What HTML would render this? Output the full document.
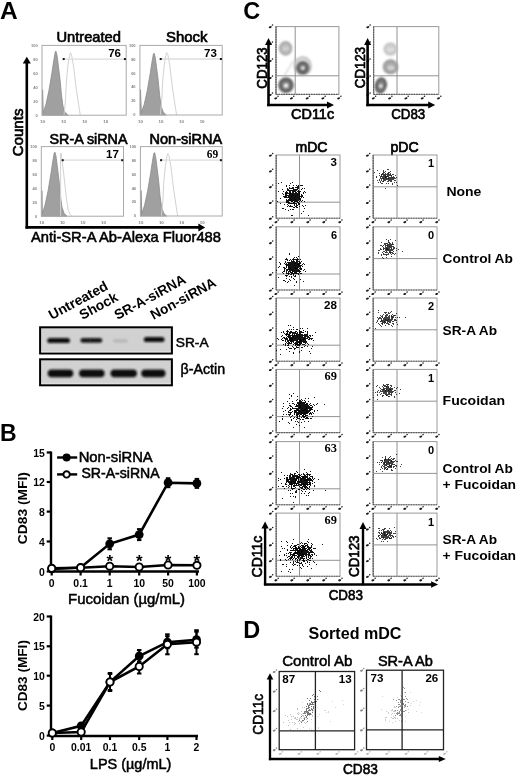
<!DOCTYPE html><html><head><meta charset="utf-8"><style>html,body{margin:0;padding:0;background:#fff;}svg{display:block;filter:grayscale(100%) blur(0.35px);}</style></head><body><svg width="520" height="777" viewBox="0 0 520 777"><rect width="520" height="777" fill="#fff"/><text x="0.00" y="18.80" font-family="Liberation Sans" font-size="24.5" font-weight="bold" text-anchor="start" fill="#000">A</text>
<text x="0.00" y="441.30" font-family="Liberation Sans" font-size="23" font-weight="bold" text-anchor="start" fill="#000">B</text>
<text x="243.30" y="18.60" font-family="Liberation Sans" font-size="23.5" font-weight="bold" text-anchor="start" fill="#000">C</text>
<text x="243.30" y="638.00" font-family="Liberation Sans" font-size="23.5" font-weight="bold" text-anchor="start" fill="#000">D</text>
<text x="37.70" y="46.70" font-family="Liberation Sans" font-size="4.0" font-weight="bold" text-anchor="end" fill="#808080">100</text>
<text x="37.70" y="60.66" font-family="Liberation Sans" font-size="4.0" font-weight="bold" text-anchor="end" fill="#808080">80</text>
<text x="37.70" y="74.62" font-family="Liberation Sans" font-size="4.0" font-weight="bold" text-anchor="end" fill="#808080">60</text>
<text x="37.70" y="88.58" font-family="Liberation Sans" font-size="4.0" font-weight="bold" text-anchor="end" fill="#808080">40</text>
<text x="37.70" y="102.54" font-family="Liberation Sans" font-size="4.0" font-weight="bold" text-anchor="end" fill="#808080">20</text>
<text x="37.70" y="116.50" font-family="Liberation Sans" font-size="4.0" font-weight="bold" text-anchor="end" fill="#808080">0</text>
<text x="42.50" y="123.20" font-family="Liberation Sans" font-size="4.4" font-weight="bold" text-anchor="middle" fill="#808080">10</text>
<text x="63.55" y="123.20" font-family="Liberation Sans" font-size="4.4" font-weight="bold" text-anchor="middle" fill="#808080">10</text>
<text x="84.60" y="123.20" font-family="Liberation Sans" font-size="4.4" font-weight="bold" text-anchor="middle" fill="#808080">10</text>
<text x="105.65" y="123.20" font-family="Liberation Sans" font-size="4.4" font-weight="bold" text-anchor="middle" fill="#808080">10</text>
<polygon points="42.00,115.20 42.60,115.20 42.60,89.70 43.20,112.70 46.00,104.20 49.00,90.20 52.00,72.20 53.80,60.20 54.80,54.20 55.30,51.70 56.00,51.20 57.00,55.20 58.30,65.20 60.00,79.20 61.50,95.20 63.00,106.20 65.00,112.20 68.00,115.20" fill="#a0a0a0" stroke="#8a8a8a" stroke-width="0.8"/>
<polyline points="64.00,115.20 65.50,99.80 66.50,79.80 68.00,64.80 69.50,55.80 70.40,52.80 71.50,54.80 73.50,65.80 76.20,88.30 78.90,106.40 80.30,115.20" fill="none" stroke="#d2d2d2" stroke-width="1"/>
<rect x="42.00" y="45.40" width="84.20" height="69.80" fill="none" stroke="#aaaaaa" stroke-width="1"/>
<line x1="63.70" y1="59.06" x2="124.90" y2="59.06" stroke="#dcdcdc" stroke-width="1.3"/>
<rect x="62.70" y="58.06" width="2.00" height="2.00" fill="#111" stroke="none" stroke-width="1"/>
<rect x="123.90" y="58.06" width="2.00" height="2.00" fill="#111" stroke="none" stroke-width="1"/>
<text x="121.00" y="56.90" font-family="Liberation Sans" font-size="11.5" font-weight="bold" text-anchor="end" fill="#000">76</text>
<text x="135.60" y="46.70" font-family="Liberation Sans" font-size="4.0" font-weight="bold" text-anchor="end" fill="#808080">100</text>
<text x="135.60" y="60.62" font-family="Liberation Sans" font-size="4.0" font-weight="bold" text-anchor="end" fill="#808080">80</text>
<text x="135.60" y="74.54" font-family="Liberation Sans" font-size="4.0" font-weight="bold" text-anchor="end" fill="#808080">60</text>
<text x="135.60" y="88.46" font-family="Liberation Sans" font-size="4.0" font-weight="bold" text-anchor="end" fill="#808080">40</text>
<text x="135.60" y="102.38" font-family="Liberation Sans" font-size="4.0" font-weight="bold" text-anchor="end" fill="#808080">20</text>
<text x="135.60" y="116.30" font-family="Liberation Sans" font-size="4.0" font-weight="bold" text-anchor="end" fill="#808080">0</text>
<text x="140.40" y="123.00" font-family="Liberation Sans" font-size="4.4" font-weight="bold" text-anchor="middle" fill="#808080">10</text>
<text x="160.97" y="123.00" font-family="Liberation Sans" font-size="4.4" font-weight="bold" text-anchor="middle" fill="#808080">10</text>
<text x="181.55" y="123.00" font-family="Liberation Sans" font-size="4.4" font-weight="bold" text-anchor="middle" fill="#808080">10</text>
<text x="202.12" y="123.00" font-family="Liberation Sans" font-size="4.4" font-weight="bold" text-anchor="middle" fill="#808080">10</text>
<polygon points="139.90,115.00 140.50,115.00 140.50,89.50 141.40,112.59 144.20,104.39 147.20,90.88 150.20,73.50 152.00,61.93 153.00,56.14 153.50,53.72 154.20,53.24 155.20,57.10 156.50,66.75 158.20,80.26 159.70,95.70 161.20,106.31 163.20,112.11 166.20,115.00" fill="#a0a0a0" stroke="#8a8a8a" stroke-width="0.8"/>
<polyline points="160.30,115.00 161.80,99.60 162.80,79.60 164.30,64.60 165.80,55.60 166.70,52.60 167.80,54.60 169.80,65.60 172.50,88.10 175.20,106.20 176.60,115.00" fill="none" stroke="#d2d2d2" stroke-width="1"/>
<rect x="139.90" y="45.40" width="82.30" height="69.60" fill="none" stroke="#aaaaaa" stroke-width="1"/>
<line x1="160.70" y1="59.02" x2="220.90" y2="59.02" stroke="#dcdcdc" stroke-width="1.3"/>
<rect x="159.70" y="58.02" width="2.00" height="2.00" fill="#111" stroke="none" stroke-width="1"/>
<rect x="219.90" y="58.02" width="2.00" height="2.00" fill="#111" stroke="none" stroke-width="1"/>
<text x="216.90" y="56.90" font-family="Liberation Sans" font-size="11.5" font-weight="bold" text-anchor="end" fill="#000">73</text>
<text x="37.00" y="147.90" font-family="Liberation Sans" font-size="4.0" font-weight="bold" text-anchor="end" fill="#808080">100</text>
<text x="37.00" y="161.82" font-family="Liberation Sans" font-size="4.0" font-weight="bold" text-anchor="end" fill="#808080">80</text>
<text x="37.00" y="175.74" font-family="Liberation Sans" font-size="4.0" font-weight="bold" text-anchor="end" fill="#808080">60</text>
<text x="37.00" y="189.66" font-family="Liberation Sans" font-size="4.0" font-weight="bold" text-anchor="end" fill="#808080">40</text>
<text x="37.00" y="203.58" font-family="Liberation Sans" font-size="4.0" font-weight="bold" text-anchor="end" fill="#808080">20</text>
<text x="37.00" y="217.50" font-family="Liberation Sans" font-size="4.0" font-weight="bold" text-anchor="end" fill="#808080">0</text>
<text x="41.80" y="224.20" font-family="Liberation Sans" font-size="4.4" font-weight="bold" text-anchor="middle" fill="#808080">10</text>
<text x="62.35" y="224.20" font-family="Liberation Sans" font-size="4.4" font-weight="bold" text-anchor="middle" fill="#808080">10</text>
<text x="82.90" y="224.20" font-family="Liberation Sans" font-size="4.4" font-weight="bold" text-anchor="middle" fill="#808080">10</text>
<text x="103.45" y="224.20" font-family="Liberation Sans" font-size="4.4" font-weight="bold" text-anchor="middle" fill="#808080">10</text>
<polygon points="41.30,216.20 41.90,216.20 41.90,190.70 42.20,213.70 45.00,205.20 48.00,191.20 51.00,173.20 52.80,161.20 53.80,155.20 54.30,152.70 55.00,152.20 56.00,156.20 57.30,166.20 59.00,180.20 60.50,196.20 62.00,207.20 64.00,213.20 67.00,216.20" fill="#a0a0a0" stroke="#8a8a8a" stroke-width="0.8"/>
<polyline points="60.60,216.20 60.60,153.20 61.10,153.20 63.30,170.20 65.30,188.20 66.80,201.20 68.30,210.20 70.30,214.70 72.30,216.20" fill="none" stroke="#d2d2d2" stroke-width="1"/>
<rect x="41.30" y="146.60" width="82.20" height="69.60" fill="none" stroke="#aaaaaa" stroke-width="1"/>
<line x1="62.70" y1="160.22" x2="122.20" y2="160.22" stroke="#dcdcdc" stroke-width="1.3"/>
<rect x="61.70" y="159.22" width="2.00" height="2.00" fill="#111" stroke="none" stroke-width="1"/>
<rect x="121.20" y="159.22" width="2.00" height="2.00" fill="#111" stroke="none" stroke-width="1"/>
<text x="118.90" y="158.30" font-family="Liberation Sans" font-size="11.5" font-weight="bold" text-anchor="end" fill="#000">17</text>
<text x="136.10" y="147.90" font-family="Liberation Sans" font-size="4.0" font-weight="bold" text-anchor="end" fill="#808080">100</text>
<text x="136.10" y="161.78" font-family="Liberation Sans" font-size="4.0" font-weight="bold" text-anchor="end" fill="#808080">80</text>
<text x="136.10" y="175.66" font-family="Liberation Sans" font-size="4.0" font-weight="bold" text-anchor="end" fill="#808080">60</text>
<text x="136.10" y="189.54" font-family="Liberation Sans" font-size="4.0" font-weight="bold" text-anchor="end" fill="#808080">40</text>
<text x="136.10" y="203.42" font-family="Liberation Sans" font-size="4.0" font-weight="bold" text-anchor="end" fill="#808080">20</text>
<text x="136.10" y="217.30" font-family="Liberation Sans" font-size="4.0" font-weight="bold" text-anchor="end" fill="#808080">0</text>
<text x="140.90" y="224.00" font-family="Liberation Sans" font-size="4.4" font-weight="bold" text-anchor="middle" fill="#808080">10</text>
<text x="161.35" y="224.00" font-family="Liberation Sans" font-size="4.4" font-weight="bold" text-anchor="middle" fill="#808080">10</text>
<text x="181.80" y="224.00" font-family="Liberation Sans" font-size="4.4" font-weight="bold" text-anchor="middle" fill="#808080">10</text>
<text x="202.25" y="224.00" font-family="Liberation Sans" font-size="4.4" font-weight="bold" text-anchor="middle" fill="#808080">10</text>
<polygon points="140.40,216.00 141.00,216.00 141.00,190.50 141.80,213.53 144.60,205.11 147.60,191.25 150.60,173.43 152.40,161.55 153.40,155.61 153.90,153.13 154.60,152.64 155.60,156.60 156.90,166.50 158.60,180.36 160.10,196.20 161.60,207.09 163.60,213.03 166.60,216.00" fill="#a0a0a0" stroke="#8a8a8a" stroke-width="0.8"/>
<polyline points="161.40,216.00 162.90,200.60 163.90,180.60 165.40,165.60 166.90,156.60 167.80,153.60 168.90,155.60 170.90,166.60 173.60,189.10 176.30,207.20 177.70,216.00" fill="none" stroke="#d2d2d2" stroke-width="1"/>
<rect x="140.40" y="146.60" width="81.80" height="69.40" fill="none" stroke="#aaaaaa" stroke-width="1"/>
<line x1="161.10" y1="160.18" x2="220.90" y2="160.18" stroke="#dcdcdc" stroke-width="1.3"/>
<rect x="160.10" y="159.18" width="2.00" height="2.00" fill="#111" stroke="none" stroke-width="1"/>
<rect x="219.90" y="159.18" width="2.00" height="2.00" fill="#111" stroke="none" stroke-width="1"/>
<text x="218.20" y="157.50" font-family="Liberation Serif" font-size="11.5" font-weight="bold" text-anchor="end" fill="#000">69</text>
<text x="88.70" y="42.30" font-family="Liberation Sans" font-size="14.5" font-weight="normal" text-anchor="middle" fill="#000" textLength="64.50" lengthAdjust="spacingAndGlyphs" stroke="#000" stroke-width="0.65">Untreated</text>
<text x="186.80" y="42.30" font-family="Liberation Sans" font-size="14.5" font-weight="normal" text-anchor="middle" fill="#000" textLength="41.50" lengthAdjust="spacingAndGlyphs" stroke="#000" stroke-width="0.65">Shock</text>
<text x="88.50" y="143.80" font-family="Liberation Sans" font-size="14.5" font-weight="normal" text-anchor="middle" fill="#000" textLength="78.00" lengthAdjust="spacingAndGlyphs" stroke="#000" stroke-width="0.65">SR-A siRNA</text>
<text x="185.80" y="143.80" font-family="Liberation Sans" font-size="14.5" font-weight="normal" text-anchor="middle" fill="#000" textLength="72.50" lengthAdjust="spacingAndGlyphs" stroke="#000" stroke-width="0.65">Non-siRNA</text>
<line x1="26.80" y1="62.00" x2="26.80" y2="228.60" stroke="#000" stroke-width="2.6"/>
<line x1="25.50" y1="227.40" x2="199.00" y2="227.40" stroke="#000" stroke-width="2.6"/>
<polygon points="26.80,56.70 22.80,63.50 30.80,63.50" fill="#000" stroke="none" stroke-width="1"/>
<polygon points="205.20,227.40 198.40,223.40 198.40,231.40" fill="#000" stroke="none" stroke-width="1"/>
<text x="22.80" y="132.40" font-family="Liberation Sans" font-size="14.2" font-weight="normal" text-anchor="middle" fill="#000" textLength="47.70" lengthAdjust="spacingAndGlyphs" transform="rotate(-90 22.80 132.40)" stroke="#000" stroke-width="0.65">Counts</text>
<text x="126.00" y="242.20" font-family="Liberation Sans" font-size="14.6" font-weight="normal" text-anchor="middle" fill="#000" textLength="190.00" lengthAdjust="spacingAndGlyphs" stroke="#000" stroke-width="0.55">Anti-SR-A Ab-Alexa Fluor488</text>
<rect x="40.10" y="327.30" width="131.80" height="26.20" fill="#d1d1d1" stroke="#000" stroke-width="2"/>
<rect x="40.10" y="359.30" width="131.80" height="26.00" fill="#d1d1d1" stroke="#000" stroke-width="2"/>
<defs><filter id="bl" x="-20%" y="-50%" width="140%" height="200%"><feGaussianBlur stdDeviation="0.9"/></filter><filter id="bl2" x="-50%" y="-50%" width="200%" height="200%"><feGaussianBlur stdDeviation="1.2"/></filter></defs>
<rect x="41.10" y="350.90" width="129.80" height="1.40" fill="#dedede" stroke="none" stroke-width="1"/>
<rect x="41.10" y="382.70" width="129.80" height="1.40" fill="#dedede" stroke="none" stroke-width="1"/>
<rect x="47.20" y="337.90" width="22.80" height="5.20" rx="2.60" fill="#111" fill-opacity="1.0" filter="url(#bl)"/>
<rect x="80.40" y="338.00" width="10.60" height="4.80" rx="2.40" fill="#111" fill-opacity="0.95" filter="url(#bl)"/>
<rect x="89.00" y="338.00" width="13.30" height="4.80" rx="2.40" fill="#111" fill-opacity="0.95" filter="url(#bl)"/>
<rect x="113.00" y="339.20" width="15.00" height="3.20" rx="1.60" fill="#111" fill-opacity="0.13" filter="url(#bl)"/>
<rect x="143.80" y="336.90" width="20.70" height="5.20" rx="2.60" fill="#111" fill-opacity="1.0" filter="url(#bl)"/>
<rect x="47.70" y="369.40" width="25.60" height="7.80" rx="3.90" fill="#111" fill-opacity="1.0" filter="url(#bl)"/>
<rect x="79.00" y="369.40" width="25.60" height="7.80" rx="3.90" fill="#111" fill-opacity="1.0" filter="url(#bl)"/>
<rect x="110.50" y="369.40" width="26.50" height="7.80" rx="3.90" fill="#111" fill-opacity="1.0" filter="url(#bl)"/>
<rect x="141.20" y="369.40" width="24.30" height="7.80" rx="3.90" fill="#111" fill-opacity="1.0" filter="url(#bl)"/>
<text x="175.80" y="347.30" font-family="Liberation Sans" font-size="13.7" font-weight="normal" text-anchor="start" fill="#000" textLength="32.80" lengthAdjust="spacingAndGlyphs" stroke="#000" stroke-width="0.5">SR-A</text>
<text x="180.60" y="374.40" font-family="Liberation Sans" font-size="14" font-weight="normal" text-anchor="start" fill="#000" textLength="44.50" lengthAdjust="spacingAndGlyphs" stroke="#000" stroke-width="0.5">β-Actin</text>
<text x="51.80" y="320.00" font-family="Liberation Sans" font-size="13.8" font-weight="bold" text-anchor="start" fill="#000" textLength="65.00" lengthAdjust="spacingAndGlyphs" transform="rotate(-28.5 51.80 320.00)">Untreated</text>
<text x="82.60" y="320.00" font-family="Liberation Sans" font-size="13.8" font-weight="bold" text-anchor="start" fill="#000" textLength="41.50" lengthAdjust="spacingAndGlyphs" transform="rotate(-28.5 82.60 320.00)">Shock</text>
<text x="117.40" y="320.00" font-family="Liberation Sans" font-size="13.8" font-weight="bold" text-anchor="start" fill="#000" textLength="79.00" lengthAdjust="spacingAndGlyphs" transform="rotate(-28.5 117.40 320.00)">SR-A-siRNA</text>
<text x="153.60" y="320.00" font-family="Liberation Sans" font-size="13.8" font-weight="bold" text-anchor="start" fill="#000" textLength="72.50" lengthAdjust="spacingAndGlyphs" transform="rotate(-28.5 153.60 320.00)">Non-siRNA</text>
<line x1="51.00" y1="451.50" x2="51.00" y2="572.70" stroke="#000" stroke-width="2.4"/>
<line x1="46.70" y1="571.50" x2="51.00" y2="571.50" stroke="#000" stroke-width="2.2"/>
<text x="0" y="0" font-family="Liberation Sans" font-size="11.6" font-weight="bold" text-anchor="end" transform="translate(44.80 575.60) scale(0.9 1)">0</text>
<line x1="46.70" y1="541.50" x2="51.00" y2="541.50" stroke="#000" stroke-width="2.2"/>
<text x="0" y="0" font-family="Liberation Sans" font-size="11.6" font-weight="bold" text-anchor="end" transform="translate(44.80 545.60) scale(0.9 1)">4</text>
<line x1="46.70" y1="511.60" x2="51.00" y2="511.60" stroke="#000" stroke-width="2.2"/>
<text x="0" y="0" font-family="Liberation Sans" font-size="11.6" font-weight="bold" text-anchor="end" transform="translate(44.80 515.70) scale(0.9 1)">8</text>
<line x1="46.70" y1="482.00" x2="51.00" y2="482.00" stroke="#000" stroke-width="2.2"/>
<text x="0" y="0" font-family="Liberation Sans" font-size="11.6" font-weight="bold" text-anchor="end" transform="translate(44.80 486.10) scale(0.9 1)">12</text>
<line x1="46.70" y1="452.50" x2="51.00" y2="452.50" stroke="#000" stroke-width="2.2"/>
<text x="0" y="0" font-family="Liberation Sans" font-size="11.6" font-weight="bold" text-anchor="end" transform="translate(44.80 456.60) scale(0.9 1)">15</text>
<line x1="49.80" y1="571.50" x2="199.00" y2="571.50" stroke="#000" stroke-width="2.4"/>
<line x1="51.70" y1="571.50" x2="51.70" y2="575.50" stroke="#000" stroke-width="2.2"/>
<text x="0" y="0" font-family="Liberation Sans" font-size="11.6" font-weight="bold" text-anchor="middle" transform="translate(51.70 586.50) scale(0.9 1)">0</text>
<line x1="80.60" y1="571.50" x2="80.60" y2="575.50" stroke="#000" stroke-width="2.2"/>
<text x="0" y="0" font-family="Liberation Sans" font-size="11.6" font-weight="bold" text-anchor="middle" transform="translate(80.60 586.50) scale(0.9 1)">0.1</text>
<line x1="109.70" y1="571.50" x2="109.70" y2="575.50" stroke="#000" stroke-width="2.2"/>
<text x="0" y="0" font-family="Liberation Sans" font-size="11.6" font-weight="bold" text-anchor="middle" transform="translate(109.70 586.50) scale(0.9 1)">1</text>
<line x1="139.20" y1="571.50" x2="139.20" y2="575.50" stroke="#000" stroke-width="2.2"/>
<text x="0" y="0" font-family="Liberation Sans" font-size="11.6" font-weight="bold" text-anchor="middle" transform="translate(139.20 586.50) scale(0.9 1)">10</text>
<line x1="168.10" y1="571.50" x2="168.10" y2="575.50" stroke="#000" stroke-width="2.2"/>
<text x="0" y="0" font-family="Liberation Sans" font-size="11.6" font-weight="bold" text-anchor="middle" transform="translate(168.10 586.50) scale(0.9 1)">50</text>
<line x1="196.90" y1="571.50" x2="196.90" y2="575.50" stroke="#000" stroke-width="2.2"/>
<text x="0" y="0" font-family="Liberation Sans" font-size="11.6" font-weight="bold" text-anchor="middle" transform="translate(196.90 586.50) scale(0.9 1)">100</text>
<polyline points="51.70,569.00 80.60,567.50 109.70,543.80 139.20,534.60 168.10,482.70 196.90,483.40" fill="none" stroke="#000" stroke-width="2.6"/>
<polyline points="51.70,568.30 80.60,567.70 109.70,566.20 139.20,567.00 168.10,565.00 196.90,565.30" fill="none" stroke="#000" stroke-width="2.6"/>
<circle cx="51.70" cy="569.00" r="4.40" fill="#000"/>
<circle cx="80.60" cy="567.50" r="4.40" fill="#000"/>
<line x1="109.70" y1="538.30" x2="109.70" y2="549.30" stroke="#000" stroke-width="2"/>
<line x1="107.45" y1="538.30" x2="111.95" y2="538.30" stroke="#000" stroke-width="2"/>
<line x1="107.45" y1="549.30" x2="111.95" y2="549.30" stroke="#000" stroke-width="2"/>
<circle cx="109.70" cy="543.80" r="4.40" fill="#000"/>
<line x1="139.20" y1="529.10" x2="139.20" y2="540.10" stroke="#000" stroke-width="2"/>
<line x1="136.95" y1="529.10" x2="141.45" y2="529.10" stroke="#000" stroke-width="2"/>
<line x1="136.95" y1="540.10" x2="141.45" y2="540.10" stroke="#000" stroke-width="2"/>
<circle cx="139.20" cy="534.60" r="4.40" fill="#000"/>
<line x1="168.10" y1="478.20" x2="168.10" y2="487.20" stroke="#000" stroke-width="2"/>
<line x1="165.85" y1="478.20" x2="170.35" y2="478.20" stroke="#000" stroke-width="2"/>
<line x1="165.85" y1="487.20" x2="170.35" y2="487.20" stroke="#000" stroke-width="2"/>
<circle cx="168.10" cy="482.70" r="4.40" fill="#000"/>
<line x1="196.90" y1="478.90" x2="196.90" y2="487.90" stroke="#000" stroke-width="2"/>
<line x1="194.65" y1="478.90" x2="199.15" y2="478.90" stroke="#000" stroke-width="2"/>
<line x1="194.65" y1="487.90" x2="199.15" y2="487.90" stroke="#000" stroke-width="2"/>
<circle cx="196.90" cy="483.40" r="4.40" fill="#000"/>
<circle cx="51.70" cy="568.30" r="3.60" fill="#fff" stroke="#000" stroke-width="1.9"/>
<circle cx="80.60" cy="567.70" r="3.60" fill="#fff" stroke="#000" stroke-width="1.9"/>
<circle cx="109.70" cy="566.20" r="3.60" fill="#fff" stroke="#000" stroke-width="1.9"/>
<circle cx="139.20" cy="567.00" r="3.60" fill="#fff" stroke="#000" stroke-width="1.9"/>
<circle cx="168.10" cy="565.00" r="3.60" fill="#fff" stroke="#000" stroke-width="1.9"/>
<circle cx="196.90" cy="565.30" r="3.60" fill="#fff" stroke="#000" stroke-width="1.9"/>
<text x="109.70" y="567.20" font-family="Liberation Sans" font-size="17" font-weight="bold" text-anchor="middle" fill="#000">*</text>
<text x="139.20" y="567.20" font-family="Liberation Sans" font-size="17" font-weight="bold" text-anchor="middle" fill="#000">*</text>
<text x="168.10" y="567.20" font-family="Liberation Sans" font-size="17" font-weight="bold" text-anchor="middle" fill="#000">*</text>
<text x="196.90" y="567.20" font-family="Liberation Sans" font-size="17" font-weight="bold" text-anchor="middle" fill="#000">*</text>
<line x1="57.10" y1="457.50" x2="77.20" y2="457.50" stroke="#000" stroke-width="2.4"/>
<circle cx="66.60" cy="457.50" r="4.00" fill="#000"/>
<line x1="57.10" y1="474.40" x2="77.20" y2="474.40" stroke="#000" stroke-width="2.4"/>
<circle cx="66.60" cy="474.40" r="3.20" fill="#fff" stroke="#000" stroke-width="1.9"/>
<text x="78.70" y="461.80" font-family="Liberation Sans" font-size="14.2" font-weight="normal" text-anchor="start" fill="#000" textLength="74.00" lengthAdjust="spacingAndGlyphs" stroke="#000" stroke-width="0.5">Non-siRNA</text>
<text x="81.40" y="478.30" font-family="Liberation Sans" font-size="14.2" font-weight="normal" text-anchor="start" fill="#000" textLength="78.30" lengthAdjust="spacingAndGlyphs" stroke="#000" stroke-width="0.5">SR-A-siRNA</text>
<text x="27.10" y="508.20" font-family="Liberation Sans" font-size="13.5" font-weight="bold" text-anchor="middle" fill="#000" textLength="72.00" lengthAdjust="spacingAndGlyphs" transform="rotate(-90 27.10 508.20)">CD83 (MFI)</text>
<text x="126.60" y="604.40" font-family="Liberation Sans" font-size="14.5" font-weight="normal" text-anchor="middle" fill="#000" textLength="117.00" lengthAdjust="spacingAndGlyphs" stroke="#000" stroke-width="0.5">Fucoidan (µg/mL)</text>
<line x1="51.00" y1="615.50" x2="51.00" y2="736.80" stroke="#000" stroke-width="2.4"/>
<line x1="46.70" y1="735.60" x2="51.00" y2="735.60" stroke="#000" stroke-width="2.2"/>
<text x="0" y="0" font-family="Liberation Sans" font-size="11.6" font-weight="bold" text-anchor="end" transform="translate(44.80 739.70) scale(0.9 1)">0</text>
<line x1="46.70" y1="705.60" x2="51.00" y2="705.60" stroke="#000" stroke-width="2.2"/>
<text x="0" y="0" font-family="Liberation Sans" font-size="11.6" font-weight="bold" text-anchor="end" transform="translate(44.80 709.70) scale(0.9 1)">5</text>
<line x1="46.70" y1="675.70" x2="51.00" y2="675.70" stroke="#000" stroke-width="2.2"/>
<text x="0" y="0" font-family="Liberation Sans" font-size="11.6" font-weight="bold" text-anchor="end" transform="translate(44.80 679.80) scale(0.9 1)">10</text>
<line x1="46.70" y1="646.30" x2="51.00" y2="646.30" stroke="#000" stroke-width="2.2"/>
<text x="0" y="0" font-family="Liberation Sans" font-size="11.6" font-weight="bold" text-anchor="end" transform="translate(44.80 650.40) scale(0.9 1)">15</text>
<line x1="46.70" y1="616.50" x2="51.00" y2="616.50" stroke="#000" stroke-width="2.2"/>
<text x="0" y="0" font-family="Liberation Sans" font-size="11.6" font-weight="bold" text-anchor="end" transform="translate(44.80 620.60) scale(0.9 1)">20</text>
<line x1="49.80" y1="736.00" x2="198.00" y2="736.00" stroke="#000" stroke-width="2.4"/>
<line x1="52.30" y1="736.00" x2="52.30" y2="740.00" stroke="#000" stroke-width="2.2"/>
<text x="0" y="0" font-family="Liberation Sans" font-size="11.6" font-weight="bold" text-anchor="middle" transform="translate(52.30 751.00) scale(0.9 1)">0</text>
<line x1="81.20" y1="736.00" x2="81.20" y2="740.00" stroke="#000" stroke-width="2.2"/>
<text x="0" y="0" font-family="Liberation Sans" font-size="11.6" font-weight="bold" text-anchor="middle" transform="translate(81.20 751.00) scale(0.9 1)">0.01</text>
<line x1="110.00" y1="736.00" x2="110.00" y2="740.00" stroke="#000" stroke-width="2.2"/>
<text x="0" y="0" font-family="Liberation Sans" font-size="11.6" font-weight="bold" text-anchor="middle" transform="translate(110.00 751.00) scale(0.9 1)">0.1</text>
<line x1="139.20" y1="736.00" x2="139.20" y2="740.00" stroke="#000" stroke-width="2.2"/>
<text x="0" y="0" font-family="Liberation Sans" font-size="11.6" font-weight="bold" text-anchor="middle" transform="translate(139.20 751.00) scale(0.9 1)">0.5</text>
<line x1="167.40" y1="736.00" x2="167.40" y2="740.00" stroke="#000" stroke-width="2.2"/>
<text x="0" y="0" font-family="Liberation Sans" font-size="11.6" font-weight="bold" text-anchor="middle" transform="translate(167.40 751.00) scale(0.9 1)">1</text>
<line x1="196.50" y1="736.00" x2="196.50" y2="740.00" stroke="#000" stroke-width="2.2"/>
<text x="0" y="0" font-family="Liberation Sans" font-size="11.6" font-weight="bold" text-anchor="middle" transform="translate(196.50 751.00) scale(0.9 1)">2</text>
<polyline points="52.30,733.00 81.20,725.80 110.00,682.00 139.20,656.00 167.40,642.20 196.50,639.70" fill="none" stroke="#000" stroke-width="2.6"/>
<polyline points="52.30,733.00 81.20,732.00 110.00,682.00 139.20,666.50 167.40,644.30 196.50,642.20" fill="none" stroke="#000" stroke-width="2.6"/>
<circle cx="52.30" cy="733.00" r="4.40" fill="#000"/>
<line x1="81.20" y1="723.80" x2="81.20" y2="727.80" stroke="#000" stroke-width="2"/>
<line x1="78.95" y1="723.80" x2="83.45" y2="723.80" stroke="#000" stroke-width="2"/>
<line x1="78.95" y1="727.80" x2="83.45" y2="727.80" stroke="#000" stroke-width="2"/>
<circle cx="81.20" cy="725.80" r="4.40" fill="#000"/>
<line x1="110.00" y1="674.00" x2="110.00" y2="690.00" stroke="#000" stroke-width="2"/>
<line x1="107.75" y1="674.00" x2="112.25" y2="674.00" stroke="#000" stroke-width="2"/>
<line x1="107.75" y1="690.00" x2="112.25" y2="690.00" stroke="#000" stroke-width="2"/>
<circle cx="110.00" cy="682.00" r="4.40" fill="#000"/>
<line x1="139.20" y1="650.00" x2="139.20" y2="662.00" stroke="#000" stroke-width="2"/>
<line x1="136.95" y1="650.00" x2="141.45" y2="650.00" stroke="#000" stroke-width="2"/>
<line x1="136.95" y1="662.00" x2="141.45" y2="662.00" stroke="#000" stroke-width="2"/>
<circle cx="139.20" cy="656.00" r="4.40" fill="#000"/>
<line x1="167.40" y1="636.20" x2="167.40" y2="648.20" stroke="#000" stroke-width="2"/>
<line x1="165.15" y1="636.20" x2="169.65" y2="636.20" stroke="#000" stroke-width="2"/>
<line x1="165.15" y1="648.20" x2="169.65" y2="648.20" stroke="#000" stroke-width="2"/>
<circle cx="167.40" cy="642.20" r="4.40" fill="#000"/>
<line x1="196.50" y1="631.70" x2="196.50" y2="647.70" stroke="#000" stroke-width="2"/>
<line x1="194.25" y1="631.70" x2="198.75" y2="631.70" stroke="#000" stroke-width="2"/>
<line x1="194.25" y1="647.70" x2="198.75" y2="647.70" stroke="#000" stroke-width="2"/>
<circle cx="196.50" cy="639.70" r="4.40" fill="#000"/>
<line x1="110.00" y1="673.00" x2="110.00" y2="691.00" stroke="#000" stroke-width="2"/>
<line x1="107.75" y1="673.00" x2="112.25" y2="673.00" stroke="#000" stroke-width="2"/>
<line x1="107.75" y1="691.00" x2="112.25" y2="691.00" stroke="#000" stroke-width="2"/>
<line x1="139.20" y1="659.50" x2="139.20" y2="673.50" stroke="#000" stroke-width="2"/>
<line x1="136.95" y1="659.50" x2="141.45" y2="659.50" stroke="#000" stroke-width="2"/>
<line x1="136.95" y1="673.50" x2="141.45" y2="673.50" stroke="#000" stroke-width="2"/>
<line x1="167.40" y1="634.30" x2="167.40" y2="654.30" stroke="#000" stroke-width="2"/>
<line x1="165.15" y1="634.30" x2="169.65" y2="634.30" stroke="#000" stroke-width="2"/>
<line x1="165.15" y1="654.30" x2="169.65" y2="654.30" stroke="#000" stroke-width="2"/>
<line x1="196.50" y1="630.20" x2="196.50" y2="654.20" stroke="#000" stroke-width="2"/>
<line x1="194.25" y1="630.20" x2="198.75" y2="630.20" stroke="#000" stroke-width="2"/>
<line x1="194.25" y1="654.20" x2="198.75" y2="654.20" stroke="#000" stroke-width="2"/>
<circle cx="52.30" cy="733.00" r="3.60" fill="#fff" stroke="#000" stroke-width="1.9"/>
<circle cx="81.20" cy="732.00" r="3.60" fill="#fff" stroke="#000" stroke-width="1.9"/>
<circle cx="110.00" cy="682.00" r="3.60" fill="#fff" stroke="#000" stroke-width="1.9"/>
<circle cx="139.20" cy="666.50" r="3.60" fill="#fff" stroke="#000" stroke-width="1.9"/>
<circle cx="167.40" cy="644.30" r="3.60" fill="#fff" stroke="#000" stroke-width="1.9"/>
<circle cx="196.50" cy="642.20" r="3.60" fill="#fff" stroke="#000" stroke-width="1.9"/>
<text x="27.30" y="675.60" font-family="Liberation Sans" font-size="13.5" font-weight="bold" text-anchor="middle" fill="#000" textLength="71.00" lengthAdjust="spacingAndGlyphs" transform="rotate(-90 27.30 675.60)">CD83 (MFI)</text>
<text x="130.60" y="769.30" font-family="Liberation Sans" font-size="14.5" font-weight="normal" text-anchor="middle" fill="#000" textLength="81.50" lengthAdjust="spacingAndGlyphs" stroke="#000" stroke-width="0.5">LPS (µg/mL)</text>
<defs><filter id="bl3" x="-20%" y="-20%" width="140%" height="140%"><feGaussianBlur stdDeviation="0.8"/></filter></defs>
<rect x="276.00" y="26.60" width="62.90" height="67.80" fill="none" stroke="#9a9a9a" stroke-width="1"/>
<line x1="276.00" y1="26.60" x2="276.00" y2="94.40" stroke="#888" stroke-width="1.1"/>
<line x1="276.00" y1="26.60" x2="276.00" y2="94.40" stroke="#5a5a5a" stroke-width="1.1" stroke-dasharray="1.5 1"/>
<line x1="276.00" y1="94.40" x2="338.90" y2="94.40" stroke="#5a5a5a" stroke-width="1.1" stroke-dasharray="1.5 1"/>
<line x1="295.20" y1="26.60" x2="295.20" y2="94.40" stroke="#929292" stroke-width="1"/>
<line x1="276.00" y1="75.80" x2="338.90" y2="75.80" stroke="#929292" stroke-width="1"/>
<ellipse cx="270.20" cy="27.20" rx="1.5" ry="1.0" fill="#1a1a1a" transform="rotate(-15 270.20 27.20)"/>
<circle cx="272.50" cy="25.10" r="0.75" fill="#1a1a1a"/>
<line x1="271.00" y1="26.90" x2="272.20" y2="25.40" stroke="#1a1a1a" stroke-width="0.5" stroke-opacity="0.5"/>
<ellipse cx="275.70" cy="98.40" rx="1.5" ry="1.0" fill="#1a1a1a" transform="rotate(-15 275.70 98.40)"/>
<circle cx="278.00" cy="96.30" r="0.75" fill="#1a1a1a"/>
<line x1="276.50" y1="98.10" x2="277.70" y2="96.60" stroke="#1a1a1a" stroke-width="0.5" stroke-opacity="0.5"/>
<ellipse cx="270.20" cy="44.15" rx="1.5" ry="1.0" fill="#1a1a1a" transform="rotate(-15 270.20 44.15)"/>
<circle cx="272.50" cy="42.05" r="0.75" fill="#1a1a1a"/>
<line x1="271.00" y1="43.85" x2="272.20" y2="42.35" stroke="#1a1a1a" stroke-width="0.5" stroke-opacity="0.5"/>
<ellipse cx="291.43" cy="98.40" rx="1.5" ry="1.0" fill="#1a1a1a" transform="rotate(-15 291.43 98.40)"/>
<circle cx="293.73" cy="96.30" r="0.75" fill="#1a1a1a"/>
<line x1="292.23" y1="98.10" x2="293.43" y2="96.60" stroke="#1a1a1a" stroke-width="0.5" stroke-opacity="0.5"/>
<ellipse cx="270.20" cy="61.10" rx="1.5" ry="1.0" fill="#1a1a1a" transform="rotate(-15 270.20 61.10)"/>
<circle cx="272.50" cy="59.00" r="0.75" fill="#1a1a1a"/>
<line x1="271.00" y1="60.80" x2="272.20" y2="59.30" stroke="#1a1a1a" stroke-width="0.5" stroke-opacity="0.5"/>
<ellipse cx="307.15" cy="98.40" rx="1.5" ry="1.0" fill="#1a1a1a" transform="rotate(-15 307.15 98.40)"/>
<circle cx="309.45" cy="96.30" r="0.75" fill="#1a1a1a"/>
<line x1="307.95" y1="98.10" x2="309.15" y2="96.60" stroke="#1a1a1a" stroke-width="0.5" stroke-opacity="0.5"/>
<ellipse cx="270.20" cy="78.05" rx="1.5" ry="1.0" fill="#1a1a1a" transform="rotate(-15 270.20 78.05)"/>
<circle cx="272.50" cy="75.95" r="0.75" fill="#1a1a1a"/>
<line x1="271.00" y1="77.75" x2="272.20" y2="76.25" stroke="#1a1a1a" stroke-width="0.5" stroke-opacity="0.5"/>
<ellipse cx="322.88" cy="98.40" rx="1.5" ry="1.0" fill="#1a1a1a" transform="rotate(-15 322.88 98.40)"/>
<circle cx="325.18" cy="96.30" r="0.75" fill="#1a1a1a"/>
<line x1="323.68" y1="98.10" x2="324.88" y2="96.60" stroke="#1a1a1a" stroke-width="0.5" stroke-opacity="0.5"/>
<ellipse cx="270.20" cy="95.00" rx="1.5" ry="1.0" fill="#1a1a1a" transform="rotate(-15 270.20 95.00)"/>
<circle cx="272.50" cy="92.90" r="0.75" fill="#1a1a1a"/>
<line x1="271.00" y1="94.70" x2="272.20" y2="93.20" stroke="#1a1a1a" stroke-width="0.5" stroke-opacity="0.5"/>
<ellipse cx="338.60" cy="98.40" rx="1.5" ry="1.0" fill="#1a1a1a" transform="rotate(-15 338.60 98.40)"/>
<circle cx="340.90" cy="96.30" r="0.75" fill="#1a1a1a"/>
<line x1="339.40" y1="98.10" x2="340.60" y2="96.60" stroke="#1a1a1a" stroke-width="0.5" stroke-opacity="0.5"/>
<g filter="url(#bl3)">
<path d="M283 78 C 287 72, 291 63, 296 58" fill="none" stroke="#bdbdbd" stroke-width="1.0"/>
<ellipse cx="285.60" cy="48.40" rx="6.60" ry="7.30" fill="#bdbdbd" fill-opacity="1.0"/>
<ellipse cx="285.60" cy="48.40" rx="5.61" ry="6.21" fill="none" stroke="#9c9c9c" stroke-width="1.5"/>
<ellipse cx="285.6" cy="48.6" rx="3.5" ry="1.4" fill="#d6d6d6"/>
<ellipse cx="302.80" cy="66.00" rx="8.60" ry="9.40" fill="#dcdcdc" fill-opacity="1.0"/>
<ellipse cx="302.80" cy="66.00" rx="8.17" ry="8.93" fill="none" stroke="#a8a8a8" stroke-width="1.2"/>
<ellipse cx="302.80" cy="67.60" rx="6.40" ry="6.40" fill="#8a8a8a" fill-opacity="1.0"/>
<ellipse cx="302.80" cy="67.60" rx="5.76" ry="5.76" fill="none" stroke="#4a4a4a" stroke-width="1.6"/>
<ellipse cx="302.80" cy="67.60" rx="3.52" ry="3.52" fill="none" stroke="#5a5a5a" stroke-width="1.3"/>
<ellipse cx="302.80" cy="68.10" rx="1.40" ry="1.40" fill="#fff"/>
<ellipse cx="286.00" cy="85.20" rx="7.40" ry="7.40" fill="#888" fill-opacity="1.0"/>
<ellipse cx="286.00" cy="85.20" rx="6.81" ry="6.81" fill="none" stroke="#444" stroke-width="1.6"/>
<ellipse cx="286.00" cy="85.20" rx="4.59" ry="4.59" fill="none" stroke="#5a5a5a" stroke-width="1.3"/>
<ellipse cx="286.00" cy="85.70" rx="1.90" ry="1.90" fill="#fff"/>
</g>
<line x1="268.50" y1="44.00" x2="268.50" y2="106.20" stroke="#000" stroke-width="2.6"/>
<line x1="267.20" y1="105.00" x2="329.00" y2="105.00" stroke="#000" stroke-width="2.6"/>
<polygon points="268.50,38.10 265.00,45.10 272.00,45.10" fill="#000" stroke="none" stroke-width="1"/>
<polygon points="334.00,105.00 327.00,101.50 327.00,108.50" fill="#000" stroke="none" stroke-width="1"/>
<text x="312.60" y="119.20" font-family="Liberation Sans" font-size="14.5" font-weight="normal" text-anchor="middle" fill="#000" textLength="43.00" lengthAdjust="spacingAndGlyphs" stroke="#000" stroke-width="0.65">CD11c</text>
<text x="267.10" y="68.00" font-family="Liberation Sans" font-size="14.5" font-weight="normal" text-anchor="middle" fill="#000" textLength="41.30" lengthAdjust="spacingAndGlyphs" transform="rotate(-90 267.10 68.00)" stroke="#000" stroke-width="0.65">CD123</text>
<rect x="373.60" y="26.60" width="65.20" height="67.80" fill="none" stroke="#9a9a9a" stroke-width="1"/>
<line x1="373.60" y1="26.60" x2="373.60" y2="94.40" stroke="#888" stroke-width="1.1"/>
<line x1="373.60" y1="26.60" x2="373.60" y2="94.40" stroke="#5a5a5a" stroke-width="1.1" stroke-dasharray="1.5 1"/>
<line x1="373.60" y1="94.40" x2="438.80" y2="94.40" stroke="#5a5a5a" stroke-width="1.1" stroke-dasharray="1.5 1"/>
<line x1="397.00" y1="26.60" x2="397.00" y2="94.40" stroke="#929292" stroke-width="1"/>
<line x1="373.60" y1="75.80" x2="438.80" y2="75.80" stroke="#929292" stroke-width="1"/>
<ellipse cx="367.80" cy="27.20" rx="1.5" ry="1.0" fill="#1a1a1a" transform="rotate(-15 367.80 27.20)"/>
<circle cx="370.10" cy="25.10" r="0.75" fill="#1a1a1a"/>
<line x1="368.60" y1="26.90" x2="369.80" y2="25.40" stroke="#1a1a1a" stroke-width="0.5" stroke-opacity="0.5"/>
<ellipse cx="373.30" cy="98.40" rx="1.5" ry="1.0" fill="#1a1a1a" transform="rotate(-15 373.30 98.40)"/>
<circle cx="375.60" cy="96.30" r="0.75" fill="#1a1a1a"/>
<line x1="374.10" y1="98.10" x2="375.30" y2="96.60" stroke="#1a1a1a" stroke-width="0.5" stroke-opacity="0.5"/>
<ellipse cx="367.80" cy="44.15" rx="1.5" ry="1.0" fill="#1a1a1a" transform="rotate(-15 367.80 44.15)"/>
<circle cx="370.10" cy="42.05" r="0.75" fill="#1a1a1a"/>
<line x1="368.60" y1="43.85" x2="369.80" y2="42.35" stroke="#1a1a1a" stroke-width="0.5" stroke-opacity="0.5"/>
<ellipse cx="389.60" cy="98.40" rx="1.5" ry="1.0" fill="#1a1a1a" transform="rotate(-15 389.60 98.40)"/>
<circle cx="391.90" cy="96.30" r="0.75" fill="#1a1a1a"/>
<line x1="390.40" y1="98.10" x2="391.60" y2="96.60" stroke="#1a1a1a" stroke-width="0.5" stroke-opacity="0.5"/>
<ellipse cx="367.80" cy="61.10" rx="1.5" ry="1.0" fill="#1a1a1a" transform="rotate(-15 367.80 61.10)"/>
<circle cx="370.10" cy="59.00" r="0.75" fill="#1a1a1a"/>
<line x1="368.60" y1="60.80" x2="369.80" y2="59.30" stroke="#1a1a1a" stroke-width="0.5" stroke-opacity="0.5"/>
<ellipse cx="405.90" cy="98.40" rx="1.5" ry="1.0" fill="#1a1a1a" transform="rotate(-15 405.90 98.40)"/>
<circle cx="408.20" cy="96.30" r="0.75" fill="#1a1a1a"/>
<line x1="406.70" y1="98.10" x2="407.90" y2="96.60" stroke="#1a1a1a" stroke-width="0.5" stroke-opacity="0.5"/>
<ellipse cx="367.80" cy="78.05" rx="1.5" ry="1.0" fill="#1a1a1a" transform="rotate(-15 367.80 78.05)"/>
<circle cx="370.10" cy="75.95" r="0.75" fill="#1a1a1a"/>
<line x1="368.60" y1="77.75" x2="369.80" y2="76.25" stroke="#1a1a1a" stroke-width="0.5" stroke-opacity="0.5"/>
<ellipse cx="422.20" cy="98.40" rx="1.5" ry="1.0" fill="#1a1a1a" transform="rotate(-15 422.20 98.40)"/>
<circle cx="424.50" cy="96.30" r="0.75" fill="#1a1a1a"/>
<line x1="423.00" y1="98.10" x2="424.20" y2="96.60" stroke="#1a1a1a" stroke-width="0.5" stroke-opacity="0.5"/>
<ellipse cx="367.80" cy="95.00" rx="1.5" ry="1.0" fill="#1a1a1a" transform="rotate(-15 367.80 95.00)"/>
<circle cx="370.10" cy="92.90" r="0.75" fill="#1a1a1a"/>
<line x1="368.60" y1="94.70" x2="369.80" y2="93.20" stroke="#1a1a1a" stroke-width="0.5" stroke-opacity="0.5"/>
<ellipse cx="438.50" cy="98.40" rx="1.5" ry="1.0" fill="#1a1a1a" transform="rotate(-15 438.50 98.40)"/>
<circle cx="440.80" cy="96.30" r="0.75" fill="#1a1a1a"/>
<line x1="439.30" y1="98.10" x2="440.50" y2="96.60" stroke="#1a1a1a" stroke-width="0.5" stroke-opacity="0.5"/>
<g filter="url(#bl3)">
<ellipse cx="390.50" cy="49.10" rx="7.00" ry="6.60" fill="#d0d0d0" fill-opacity="1.0"/>
<ellipse cx="390.50" cy="49.10" rx="5.95" ry="5.61" fill="none" stroke="#b8b8b8" stroke-width="1.3"/>
<ellipse cx="390.5" cy="49.5" rx="3.8" ry="1.3" fill="#e2e2e2"/>
<ellipse cx="390.50" cy="66.80" rx="7.60" ry="7.20" fill="#b4b4b4" fill-opacity="1.0"/>
<ellipse cx="390.50" cy="66.80" rx="6.84" ry="6.48" fill="none" stroke="#888" stroke-width="1.4"/>
<ellipse cx="390.50" cy="66.80" rx="4.18" ry="3.96" fill="none" stroke="#999" stroke-width="1.1"/>
<ellipse cx="391.0" cy="68.0" rx="3.5" ry="2.2" fill="#d2d2d2"/>
<ellipse cx="380.80" cy="85.40" rx="5.60" ry="7.90" fill="#8c8c8c" fill-opacity="1.0" transform="rotate(12 380.80 85.40)"/>
<ellipse cx="380.80" cy="85.40" rx="5.04" ry="7.11" fill="none" stroke="#3c3c3c" stroke-width="1.6" transform="rotate(12 380.80 85.40)"/>
<ellipse cx="380.80" cy="85.40" rx="3.08" ry="4.35" fill="none" stroke="#666" stroke-width="1.1" transform="rotate(12 380.80 85.40)"/>
<ellipse cx="380.80" cy="85.90" rx="1.50" ry="1.50" fill="#fff"/>
</g>
<line x1="367.60" y1="44.00" x2="367.60" y2="106.20" stroke="#000" stroke-width="2.6"/>
<line x1="366.30" y1="105.00" x2="430.20" y2="105.00" stroke="#000" stroke-width="2.6"/>
<polygon points="367.60,38.10 364.10,45.10 371.10,45.10" fill="#000" stroke="none" stroke-width="1"/>
<polygon points="435.20,105.00 428.20,101.50 428.20,108.50" fill="#000" stroke="none" stroke-width="1"/>
<text x="408.20" y="119.20" font-family="Liberation Sans" font-size="14.5" font-weight="normal" text-anchor="middle" fill="#000" textLength="34.00" lengthAdjust="spacingAndGlyphs" stroke="#000" stroke-width="0.65">CD83</text>
<text x="365.00" y="67.50" font-family="Liberation Sans" font-size="14.5" font-weight="normal" text-anchor="middle" fill="#000" textLength="41.30" lengthAdjust="spacingAndGlyphs" transform="rotate(-90 365.00 67.50)" stroke="#000" stroke-width="0.65">CD123</text>
<text x="311.50" y="152.00" font-family="Liberation Sans" font-size="14" font-weight="normal" text-anchor="middle" fill="#000" textLength="32.00" lengthAdjust="spacingAndGlyphs" stroke="#000" stroke-width="0.7">mDC</text>
<text x="404.60" y="152.00" font-family="Liberation Sans" font-size="14" font-weight="normal" text-anchor="middle" fill="#000" textLength="28.20" lengthAdjust="spacingAndGlyphs" stroke="#000" stroke-width="0.7">pDC</text>
<rect x="276.20" y="155.00" width="63.80" height="63.20" fill="none" stroke="#9a9a9a" stroke-width="1"/>
<line x1="276.20" y1="155.00" x2="276.20" y2="218.20" stroke="#888" stroke-width="1.1"/>
<line x1="276.20" y1="155.00" x2="276.20" y2="218.20" stroke="#5a5a5a" stroke-width="1.1" stroke-dasharray="1.5 1"/>
<line x1="276.20" y1="218.20" x2="340.00" y2="218.20" stroke="#5a5a5a" stroke-width="1.1" stroke-dasharray="1.5 1"/>
<line x1="299.50" y1="155.00" x2="299.50" y2="218.20" stroke="#929292" stroke-width="1"/>
<line x1="276.20" y1="202.20" x2="340.00" y2="202.20" stroke="#929292" stroke-width="1"/>
<ellipse cx="270.40" cy="155.60" rx="1.5" ry="1.0" fill="#1a1a1a" transform="rotate(-15 270.40 155.60)"/>
<circle cx="272.70" cy="153.50" r="0.75" fill="#1a1a1a"/>
<line x1="271.20" y1="155.30" x2="272.40" y2="153.80" stroke="#1a1a1a" stroke-width="0.5" stroke-opacity="0.5"/>
<ellipse cx="275.90" cy="222.20" rx="1.5" ry="1.0" fill="#1a1a1a" transform="rotate(-15 275.90 222.20)"/>
<circle cx="278.20" cy="220.10" r="0.75" fill="#1a1a1a"/>
<line x1="276.70" y1="221.90" x2="277.90" y2="220.40" stroke="#1a1a1a" stroke-width="0.5" stroke-opacity="0.5"/>
<ellipse cx="270.40" cy="171.40" rx="1.5" ry="1.0" fill="#1a1a1a" transform="rotate(-15 270.40 171.40)"/>
<circle cx="272.70" cy="169.30" r="0.75" fill="#1a1a1a"/>
<line x1="271.20" y1="171.10" x2="272.40" y2="169.60" stroke="#1a1a1a" stroke-width="0.5" stroke-opacity="0.5"/>
<ellipse cx="291.85" cy="222.20" rx="1.5" ry="1.0" fill="#1a1a1a" transform="rotate(-15 291.85 222.20)"/>
<circle cx="294.15" cy="220.10" r="0.75" fill="#1a1a1a"/>
<line x1="292.65" y1="221.90" x2="293.85" y2="220.40" stroke="#1a1a1a" stroke-width="0.5" stroke-opacity="0.5"/>
<ellipse cx="270.40" cy="187.20" rx="1.5" ry="1.0" fill="#1a1a1a" transform="rotate(-15 270.40 187.20)"/>
<circle cx="272.70" cy="185.10" r="0.75" fill="#1a1a1a"/>
<line x1="271.20" y1="186.90" x2="272.40" y2="185.40" stroke="#1a1a1a" stroke-width="0.5" stroke-opacity="0.5"/>
<ellipse cx="307.80" cy="222.20" rx="1.5" ry="1.0" fill="#1a1a1a" transform="rotate(-15 307.80 222.20)"/>
<circle cx="310.10" cy="220.10" r="0.75" fill="#1a1a1a"/>
<line x1="308.60" y1="221.90" x2="309.80" y2="220.40" stroke="#1a1a1a" stroke-width="0.5" stroke-opacity="0.5"/>
<ellipse cx="270.40" cy="203.00" rx="1.5" ry="1.0" fill="#1a1a1a" transform="rotate(-15 270.40 203.00)"/>
<circle cx="272.70" cy="200.90" r="0.75" fill="#1a1a1a"/>
<line x1="271.20" y1="202.70" x2="272.40" y2="201.20" stroke="#1a1a1a" stroke-width="0.5" stroke-opacity="0.5"/>
<ellipse cx="323.75" cy="222.20" rx="1.5" ry="1.0" fill="#1a1a1a" transform="rotate(-15 323.75 222.20)"/>
<circle cx="326.05" cy="220.10" r="0.75" fill="#1a1a1a"/>
<line x1="324.55" y1="221.90" x2="325.75" y2="220.40" stroke="#1a1a1a" stroke-width="0.5" stroke-opacity="0.5"/>
<ellipse cx="270.40" cy="218.80" rx="1.5" ry="1.0" fill="#1a1a1a" transform="rotate(-15 270.40 218.80)"/>
<circle cx="272.70" cy="216.70" r="0.75" fill="#1a1a1a"/>
<line x1="271.20" y1="218.50" x2="272.40" y2="217.00" stroke="#1a1a1a" stroke-width="0.5" stroke-opacity="0.5"/>
<ellipse cx="339.70" cy="222.20" rx="1.5" ry="1.0" fill="#1a1a1a" transform="rotate(-15 339.70 222.20)"/>
<circle cx="342.00" cy="220.10" r="0.75" fill="#1a1a1a"/>
<line x1="340.50" y1="221.90" x2="341.70" y2="220.40" stroke="#1a1a1a" stroke-width="0.5" stroke-opacity="0.5"/>
<path d="M283 194h1.0v1.0h-1.0zM284 197h1.0v1.0h-1.0zM284 204h1.0v1.0h-1.0zM285 192h1.0v1.0h-1.0zM285 193h1.0v1.0h-1.0zM285 194h1.0v1.0h-1.0zM285 195h1.0v1.0h-1.0zM285 196h1.0v1.0h-1.0zM285 197h1.0v1.0h-1.0zM286 185h1.0v1.0h-1.0zM286 191h1.0v1.0h-1.0zM286 192h1.0v1.0h-1.0zM286 193h1.0v1.0h-1.0zM286 195h1.0v1.0h-1.0zM286 196h1.0v1.0h-1.0zM286 199h1.0v1.0h-1.0zM286 200h1.0v1.0h-1.0zM286 202h1.0v1.0h-1.0zM287 189h1.0v1.0h-1.0zM287 192h1.0v1.0h-1.0zM287 193h1.0v1.0h-1.0zM287 195h1.0v1.0h-1.0zM287 197h1.0v1.0h-1.0zM287 200h1.0v1.0h-1.0zM287 201h1.0v1.0h-1.0zM287 202h1.0v1.0h-1.0zM287 204h1.0v1.0h-1.0zM288 189h1.0v1.0h-1.0zM288 190h1.0v1.0h-1.0zM288 193h1.0v1.0h-1.0zM288 195h1.0v1.0h-1.0zM288 196h1.0v1.0h-1.0zM288 197h1.0v1.0h-1.0zM288 199h1.0v1.0h-1.0zM288 200h1.0v1.0h-1.0zM288 201h1.0v1.0h-1.0zM288 203h1.0v1.0h-1.0zM289 185h1.0v1.0h-1.0zM289 187h1.0v1.0h-1.0zM289 188h1.0v1.0h-1.0zM289 190h1.0v1.0h-1.0zM289 191h1.0v1.0h-1.0zM289 192h1.0v1.0h-1.0zM289 193h1.0v1.0h-1.0zM289 194h1.0v1.0h-1.0zM289 195h1.0v1.0h-1.0zM289 196h1.0v1.0h-1.0zM289 197h1.0v1.0h-1.0zM289 198h1.0v1.0h-1.0zM289 199h1.0v1.0h-1.0zM289 200h1.0v1.0h-1.0zM289 202h1.0v1.0h-1.0zM289 203h1.0v1.0h-1.0zM289 206h1.0v1.0h-1.0zM290 188h1.0v1.0h-1.0zM290 190h1.0v1.0h-1.0zM290 191h1.0v1.0h-1.0zM290 192h1.0v1.0h-1.0zM290 193h1.0v1.0h-1.0zM290 194h1.0v1.0h-1.0zM290 195h1.0v1.0h-1.0zM290 196h1.0v1.0h-1.0zM290 197h1.0v1.0h-1.0zM290 199h1.0v1.0h-1.0zM290 200h1.0v1.0h-1.0zM290 203h1.0v1.0h-1.0zM290 206h1.0v1.0h-1.0zM291 188h1.0v1.0h-1.0zM291 190h1.0v1.0h-1.0zM291 193h1.0v1.0h-1.0zM291 194h1.0v1.0h-1.0zM291 195h1.0v1.0h-1.0zM291 196h1.0v1.0h-1.0zM291 197h1.0v1.0h-1.0zM291 198h1.0v1.0h-1.0zM291 199h1.0v1.0h-1.0zM291 200h1.0v1.0h-1.0zM291 201h1.0v1.0h-1.0zM291 203h1.0v1.0h-1.0zM291 206h1.0v1.0h-1.0zM292 182h1.0v1.0h-1.0zM292 187h1.0v1.0h-1.0zM292 188h1.0v1.0h-1.0zM292 190h1.0v1.0h-1.0zM292 191h1.0v1.0h-1.0zM292 192h1.0v1.0h-1.0zM292 193h1.0v1.0h-1.0zM292 194h1.0v1.0h-1.0zM292 195h1.0v1.0h-1.0zM292 196h1.0v1.0h-1.0zM292 197h1.0v1.0h-1.0zM292 198h1.0v1.0h-1.0zM292 199h1.0v1.0h-1.0zM292 200h1.0v1.0h-1.0zM292 201h1.0v1.0h-1.0zM292 203h1.0v1.0h-1.0zM292 206h1.0v1.0h-1.0zM293 185h1.0v1.0h-1.0zM293 187h1.0v1.0h-1.0zM293 188h1.0v1.0h-1.0zM293 189h1.0v1.0h-1.0zM293 190h1.0v1.0h-1.0zM293 191h1.0v1.0h-1.0zM293 192h1.0v1.0h-1.0zM293 193h1.0v1.0h-1.0zM293 194h1.0v1.0h-1.0zM293 195h1.0v1.0h-1.0zM293 196h1.0v1.0h-1.0zM293 197h1.0v1.0h-1.0zM293 198h1.0v1.0h-1.0zM293 199h1.0v1.0h-1.0zM293 200h1.0v1.0h-1.0zM293 202h1.0v1.0h-1.0zM293 203h1.0v1.0h-1.0zM293 207h1.0v1.0h-1.0zM294 189h1.0v1.0h-1.0zM294 190h1.0v1.0h-1.0zM294 191h1.0v1.0h-1.0zM294 193h1.0v1.0h-1.0zM294 194h1.0v1.0h-1.0zM294 195h1.0v1.0h-1.0zM294 196h1.0v1.0h-1.0zM294 197h1.0v1.0h-1.0zM294 198h1.0v1.0h-1.0zM294 199h1.0v1.0h-1.0zM294 200h1.0v1.0h-1.0zM294 201h1.0v1.0h-1.0zM294 202h1.0v1.0h-1.0zM294 205h1.0v1.0h-1.0zM294 207h1.0v1.0h-1.0zM295 187h1.0v1.0h-1.0zM295 189h1.0v1.0h-1.0zM295 190h1.0v1.0h-1.0zM295 191h1.0v1.0h-1.0zM295 192h1.0v1.0h-1.0zM295 193h1.0v1.0h-1.0zM295 194h1.0v1.0h-1.0zM295 195h1.0v1.0h-1.0zM295 196h1.0v1.0h-1.0zM295 197h1.0v1.0h-1.0zM295 198h1.0v1.0h-1.0zM295 199h1.0v1.0h-1.0zM295 200h1.0v1.0h-1.0zM295 201h1.0v1.0h-1.0zM295 203h1.0v1.0h-1.0zM295 206h1.0v1.0h-1.0zM296 185h1.0v1.0h-1.0zM296 187h1.0v1.0h-1.0zM296 189h1.0v1.0h-1.0zM296 190h1.0v1.0h-1.0zM296 192h1.0v1.0h-1.0zM296 193h1.0v1.0h-1.0zM296 194h1.0v1.0h-1.0zM296 195h1.0v1.0h-1.0zM296 196h1.0v1.0h-1.0zM296 197h1.0v1.0h-1.0zM296 198h1.0v1.0h-1.0zM296 199h1.0v1.0h-1.0zM296 200h1.0v1.0h-1.0zM296 201h1.0v1.0h-1.0zM296 203h1.0v1.0h-1.0zM296 205h1.0v1.0h-1.0zM296 206h1.0v1.0h-1.0zM296 207h1.0v1.0h-1.0zM297 186h1.0v1.0h-1.0zM297 188h1.0v1.0h-1.0zM297 189h1.0v1.0h-1.0zM297 191h1.0v1.0h-1.0zM297 193h1.0v1.0h-1.0zM297 194h1.0v1.0h-1.0zM297 195h1.0v1.0h-1.0zM297 196h1.0v1.0h-1.0zM297 197h1.0v1.0h-1.0zM297 198h1.0v1.0h-1.0zM297 199h1.0v1.0h-1.0zM297 201h1.0v1.0h-1.0zM297 202h1.0v1.0h-1.0zM297 205h1.0v1.0h-1.0zM297 207h1.0v1.0h-1.0zM298 185h1.0v1.0h-1.0zM298 186h1.0v1.0h-1.0zM298 187h1.0v1.0h-1.0zM298 188h1.0v1.0h-1.0zM298 190h1.0v1.0h-1.0zM298 191h1.0v1.0h-1.0zM298 192h1.0v1.0h-1.0zM298 193h1.0v1.0h-1.0zM298 194h1.0v1.0h-1.0zM298 195h1.0v1.0h-1.0zM298 196h1.0v1.0h-1.0zM298 197h1.0v1.0h-1.0zM298 198h1.0v1.0h-1.0zM298 199h1.0v1.0h-1.0zM298 200h1.0v1.0h-1.0zM298 202h1.0v1.0h-1.0zM298 203h1.0v1.0h-1.0zM298 204h1.0v1.0h-1.0zM299 191h1.0v1.0h-1.0zM299 192h1.0v1.0h-1.0zM299 193h1.0v1.0h-1.0zM299 194h1.0v1.0h-1.0zM299 195h1.0v1.0h-1.0zM299 196h1.0v1.0h-1.0zM299 197h1.0v1.0h-1.0zM299 198h1.0v1.0h-1.0zM299 199h1.0v1.0h-1.0zM299 201h1.0v1.0h-1.0zM299 203h1.0v1.0h-1.0zM299 204h1.0v1.0h-1.0zM300 185h1.0v1.0h-1.0zM300 191h1.0v1.0h-1.0zM300 196h1.0v1.0h-1.0zM300 198h1.0v1.0h-1.0zM300 199h1.0v1.0h-1.0zM300 200h1.0v1.0h-1.0zM301 185h1.0v1.0h-1.0zM301 189h1.0v1.0h-1.0zM301 194h1.0v1.0h-1.0zM301 195h1.0v1.0h-1.0zM301 197h1.0v1.0h-1.0zM302 185h1.0v1.0h-1.0zM302 188h1.0v1.0h-1.0zM302 195h1.0v1.0h-1.0zM302 196h1.0v1.0h-1.0zM302 200h1.0v1.0h-1.0zM303 192h1.0v1.0h-1.0zM303 193h1.0v1.0h-1.0zM303 197h1.0v1.0h-1.0zM304 188h1.0v1.0h-1.0zM304 191h1.0v1.0h-1.0zM304 201h1.0v1.0h-1.0z" fill="#000" fill-opacity="0.92"/>
<path d="M277 201h1.0v1.0h-1.0zM278 183h1.0v1.0h-1.0zM278 191h1.0v1.0h-1.0zM280 198h1.0v1.0h-1.0zM280 203h1.0v1.0h-1.0zM281 182h1.0v1.0h-1.0zM282 189h1.0v1.0h-1.0zM282 193h1.0v1.0h-1.0zM282 208h1.0v1.0h-1.0zM283 191h1.0v1.0h-1.0zM283 196h1.0v1.0h-1.0zM283 208h1.0v1.0h-1.0zM284 196h1.0v1.0h-1.0zM285 193h1.0v1.0h-1.0zM285 194h1.0v1.0h-1.0zM285 196h1.0v1.0h-1.0zM285 209h1.0v1.0h-1.0zM286 186h1.0v1.0h-1.0zM286 193h1.0v1.0h-1.0zM286 194h1.0v1.0h-1.0zM286 197h1.0v1.0h-1.0zM286 201h1.0v1.0h-1.0zM286 202h1.0v1.0h-1.0zM287 188h1.0v1.0h-1.0zM287 190h1.0v1.0h-1.0zM287 195h1.0v1.0h-1.0zM287 206h1.0v1.0h-1.0zM288 202h1.0v1.0h-1.0zM288 205h1.0v1.0h-1.0zM288 210h1.0v1.0h-1.0zM289 194h1.0v1.0h-1.0zM290 183h1.0v1.0h-1.0zM290 192h1.0v1.0h-1.0zM290 193h1.0v1.0h-1.0zM290 197h1.0v1.0h-1.0zM290 198h1.0v1.0h-1.0zM290 200h1.0v1.0h-1.0zM290 205h1.0v1.0h-1.0zM290 209h1.0v1.0h-1.0zM291 195h1.0v1.0h-1.0zM291 199h1.0v1.0h-1.0zM291 201h1.0v1.0h-1.0zM291 203h1.0v1.0h-1.0zM291 215h1.0v1.0h-1.0zM292 194h1.0v1.0h-1.0zM292 196h1.0v1.0h-1.0zM292 201h1.0v1.0h-1.0zM292 209h1.0v1.0h-1.0zM292 215h1.0v1.0h-1.0zM293 189h1.0v1.0h-1.0zM293 191h1.0v1.0h-1.0zM293 195h1.0v1.0h-1.0zM293 200h1.0v1.0h-1.0zM293 202h1.0v1.0h-1.0zM293 209h1.0v1.0h-1.0zM294 198h1.0v1.0h-1.0zM294 201h1.0v1.0h-1.0zM294 203h1.0v1.0h-1.0zM294 204h1.0v1.0h-1.0zM295 196h1.0v1.0h-1.0zM295 199h1.0v1.0h-1.0zM296 201h1.0v1.0h-1.0zM296 204h1.0v1.0h-1.0zM297 187h1.0v1.0h-1.0zM297 194h1.0v1.0h-1.0zM297 200h1.0v1.0h-1.0zM298 190h1.0v1.0h-1.0zM299 192h1.0v1.0h-1.0zM299 201h1.0v1.0h-1.0zM299 203h1.0v1.0h-1.0zM299 204h1.0v1.0h-1.0zM299 206h1.0v1.0h-1.0zM300 200h1.0v1.0h-1.0zM301 196h1.0v1.0h-1.0zM301 201h1.0v1.0h-1.0zM301 213h1.0v1.0h-1.0zM302 205h1.0v1.0h-1.0zM303 206h1.0v1.0h-1.0zM303 211h1.0v1.0h-1.0zM304 201h1.0v1.0h-1.0zM304 208h1.0v1.0h-1.0zM305 192h1.0v1.0h-1.0zM305 205h1.0v1.0h-1.0zM308 215h1.0v1.0h-1.0z" fill="#000" fill-opacity="0.92"/>
<text x="337.00" y="166.40" font-family="Liberation Sans" font-size="11.5" font-weight="bold" text-anchor="end" fill="#000">3</text>
<rect x="373.20" y="155.00" width="63.80" height="63.20" fill="none" stroke="#9a9a9a" stroke-width="1"/>
<line x1="373.20" y1="155.00" x2="373.20" y2="218.20" stroke="#888" stroke-width="1.1"/>
<line x1="373.20" y1="155.00" x2="373.20" y2="218.20" stroke="#5a5a5a" stroke-width="1.1" stroke-dasharray="1.5 1"/>
<line x1="373.20" y1="218.20" x2="437.00" y2="218.20" stroke="#5a5a5a" stroke-width="1.1" stroke-dasharray="1.5 1"/>
<line x1="397.00" y1="155.00" x2="397.00" y2="218.20" stroke="#929292" stroke-width="1"/>
<line x1="373.20" y1="186.80" x2="437.00" y2="186.80" stroke="#929292" stroke-width="1"/>
<ellipse cx="367.40" cy="155.60" rx="1.5" ry="1.0" fill="#1a1a1a" transform="rotate(-15 367.40 155.60)"/>
<circle cx="369.70" cy="153.50" r="0.75" fill="#1a1a1a"/>
<line x1="368.20" y1="155.30" x2="369.40" y2="153.80" stroke="#1a1a1a" stroke-width="0.5" stroke-opacity="0.5"/>
<ellipse cx="372.90" cy="222.20" rx="1.5" ry="1.0" fill="#1a1a1a" transform="rotate(-15 372.90 222.20)"/>
<circle cx="375.20" cy="220.10" r="0.75" fill="#1a1a1a"/>
<line x1="373.70" y1="221.90" x2="374.90" y2="220.40" stroke="#1a1a1a" stroke-width="0.5" stroke-opacity="0.5"/>
<ellipse cx="367.40" cy="171.40" rx="1.5" ry="1.0" fill="#1a1a1a" transform="rotate(-15 367.40 171.40)"/>
<circle cx="369.70" cy="169.30" r="0.75" fill="#1a1a1a"/>
<line x1="368.20" y1="171.10" x2="369.40" y2="169.60" stroke="#1a1a1a" stroke-width="0.5" stroke-opacity="0.5"/>
<ellipse cx="388.85" cy="222.20" rx="1.5" ry="1.0" fill="#1a1a1a" transform="rotate(-15 388.85 222.20)"/>
<circle cx="391.15" cy="220.10" r="0.75" fill="#1a1a1a"/>
<line x1="389.65" y1="221.90" x2="390.85" y2="220.40" stroke="#1a1a1a" stroke-width="0.5" stroke-opacity="0.5"/>
<ellipse cx="367.40" cy="187.20" rx="1.5" ry="1.0" fill="#1a1a1a" transform="rotate(-15 367.40 187.20)"/>
<circle cx="369.70" cy="185.10" r="0.75" fill="#1a1a1a"/>
<line x1="368.20" y1="186.90" x2="369.40" y2="185.40" stroke="#1a1a1a" stroke-width="0.5" stroke-opacity="0.5"/>
<ellipse cx="404.80" cy="222.20" rx="1.5" ry="1.0" fill="#1a1a1a" transform="rotate(-15 404.80 222.20)"/>
<circle cx="407.10" cy="220.10" r="0.75" fill="#1a1a1a"/>
<line x1="405.60" y1="221.90" x2="406.80" y2="220.40" stroke="#1a1a1a" stroke-width="0.5" stroke-opacity="0.5"/>
<ellipse cx="367.40" cy="203.00" rx="1.5" ry="1.0" fill="#1a1a1a" transform="rotate(-15 367.40 203.00)"/>
<circle cx="369.70" cy="200.90" r="0.75" fill="#1a1a1a"/>
<line x1="368.20" y1="202.70" x2="369.40" y2="201.20" stroke="#1a1a1a" stroke-width="0.5" stroke-opacity="0.5"/>
<ellipse cx="420.75" cy="222.20" rx="1.5" ry="1.0" fill="#1a1a1a" transform="rotate(-15 420.75 222.20)"/>
<circle cx="423.05" cy="220.10" r="0.75" fill="#1a1a1a"/>
<line x1="421.55" y1="221.90" x2="422.75" y2="220.40" stroke="#1a1a1a" stroke-width="0.5" stroke-opacity="0.5"/>
<ellipse cx="367.40" cy="218.80" rx="1.5" ry="1.0" fill="#1a1a1a" transform="rotate(-15 367.40 218.80)"/>
<circle cx="369.70" cy="216.70" r="0.75" fill="#1a1a1a"/>
<line x1="368.20" y1="218.50" x2="369.40" y2="217.00" stroke="#1a1a1a" stroke-width="0.5" stroke-opacity="0.5"/>
<ellipse cx="436.70" cy="222.20" rx="1.5" ry="1.0" fill="#1a1a1a" transform="rotate(-15 436.70 222.20)"/>
<circle cx="439.00" cy="220.10" r="0.75" fill="#1a1a1a"/>
<line x1="437.50" y1="221.90" x2="438.70" y2="220.40" stroke="#1a1a1a" stroke-width="0.5" stroke-opacity="0.5"/>
<path d="M376 176h1.0v1.0h-1.0zM376 177h1.0v1.0h-1.0zM379 175h1.0v1.0h-1.0zM379 179h1.0v1.0h-1.0zM379 180h1.0v1.0h-1.0zM380 176h1.0v1.0h-1.0zM380 177h1.0v1.0h-1.0zM380 178h1.0v1.0h-1.0zM381 174h1.0v1.0h-1.0zM381 175h1.0v1.0h-1.0zM381 176h1.0v1.0h-1.0zM381 178h1.0v1.0h-1.0zM381 179h1.0v1.0h-1.0zM381 180h1.0v1.0h-1.0zM381 183h1.0v1.0h-1.0zM382 173h1.0v1.0h-1.0zM382 176h1.0v1.0h-1.0zM382 177h1.0v1.0h-1.0zM382 178h1.0v1.0h-1.0zM382 181h1.0v1.0h-1.0zM383 171h1.0v1.0h-1.0zM383 172h1.0v1.0h-1.0zM383 173h1.0v1.0h-1.0zM383 174h1.0v1.0h-1.0zM383 176h1.0v1.0h-1.0zM383 177h1.0v1.0h-1.0zM383 178h1.0v1.0h-1.0zM383 179h1.0v1.0h-1.0zM383 180h1.0v1.0h-1.0zM383 181h1.0v1.0h-1.0zM384 172h1.0v1.0h-1.0zM384 174h1.0v1.0h-1.0zM384 175h1.0v1.0h-1.0zM384 176h1.0v1.0h-1.0zM384 177h1.0v1.0h-1.0zM384 178h1.0v1.0h-1.0zM384 179h1.0v1.0h-1.0zM384 180h1.0v1.0h-1.0zM385 171h1.0v1.0h-1.0zM385 173h1.0v1.0h-1.0zM385 174h1.0v1.0h-1.0zM385 175h1.0v1.0h-1.0zM385 176h1.0v1.0h-1.0zM385 177h1.0v1.0h-1.0zM385 178h1.0v1.0h-1.0zM385 179h1.0v1.0h-1.0zM385 180h1.0v1.0h-1.0zM386 174h1.0v1.0h-1.0zM386 176h1.0v1.0h-1.0zM386 177h1.0v1.0h-1.0zM386 178h1.0v1.0h-1.0zM386 179h1.0v1.0h-1.0zM386 183h1.0v1.0h-1.0zM387 169h1.0v1.0h-1.0zM387 173h1.0v1.0h-1.0zM387 174h1.0v1.0h-1.0zM387 175h1.0v1.0h-1.0zM387 176h1.0v1.0h-1.0zM387 178h1.0v1.0h-1.0zM387 179h1.0v1.0h-1.0zM387 181h1.0v1.0h-1.0zM388 172h1.0v1.0h-1.0zM388 173h1.0v1.0h-1.0zM388 174h1.0v1.0h-1.0zM388 175h1.0v1.0h-1.0zM388 176h1.0v1.0h-1.0zM388 177h1.0v1.0h-1.0zM388 178h1.0v1.0h-1.0zM388 179h1.0v1.0h-1.0zM388 180h1.0v1.0h-1.0zM388 181h1.0v1.0h-1.0zM388 183h1.0v1.0h-1.0zM389 172h1.0v1.0h-1.0zM389 174h1.0v1.0h-1.0zM389 175h1.0v1.0h-1.0zM389 177h1.0v1.0h-1.0zM389 178h1.0v1.0h-1.0zM389 179h1.0v1.0h-1.0zM389 180h1.0v1.0h-1.0zM390 173h1.0v1.0h-1.0zM390 174h1.0v1.0h-1.0zM390 175h1.0v1.0h-1.0zM390 177h1.0v1.0h-1.0zM390 178h1.0v1.0h-1.0zM390 179h1.0v1.0h-1.0zM390 180h1.0v1.0h-1.0zM390 181h1.0v1.0h-1.0zM391 175h1.0v1.0h-1.0zM391 176h1.0v1.0h-1.0zM391 177h1.0v1.0h-1.0zM391 179h1.0v1.0h-1.0zM391 180h1.0v1.0h-1.0zM391 181h1.0v1.0h-1.0zM392 174h1.0v1.0h-1.0zM392 177h1.0v1.0h-1.0zM392 178h1.0v1.0h-1.0zM392 179h1.0v1.0h-1.0zM393 174h1.0v1.0h-1.0zM393 176h1.0v1.0h-1.0zM393 177h1.0v1.0h-1.0zM393 178h1.0v1.0h-1.0zM394 177h1.0v1.0h-1.0zM394 180h1.0v1.0h-1.0zM394 182h1.0v1.0h-1.0zM396 177h1.0v1.0h-1.0z" fill="#111" fill-opacity="0.8"/>
<path d="M374 172h1.0v1.0h-1.0zM377 170h1.0v1.0h-1.0zM377 180h1.0v1.0h-1.0zM378 182h1.0v1.0h-1.0zM379 173h1.0v1.0h-1.0zM380 181h1.0v1.0h-1.0zM380 182h1.0v1.0h-1.0zM381 174h1.0v1.0h-1.0zM381 176h1.0v1.0h-1.0zM382 174h1.0v1.0h-1.0zM382 183h1.0v1.0h-1.0zM383 170h1.0v1.0h-1.0zM383 175h1.0v1.0h-1.0zM383 178h1.0v1.0h-1.0zM383 181h1.0v1.0h-1.0zM385 175h1.0v1.0h-1.0zM385 176h1.0v1.0h-1.0zM385 177h1.0v1.0h-1.0zM385 188h1.0v1.0h-1.0zM386 176h1.0v1.0h-1.0zM386 178h1.0v1.0h-1.0zM387 176h1.0v1.0h-1.0zM388 169h1.0v1.0h-1.0zM388 173h1.0v1.0h-1.0zM388 178h1.0v1.0h-1.0zM390 171h1.0v1.0h-1.0zM391 175h1.0v1.0h-1.0zM391 178h1.0v1.0h-1.0zM392 177h1.0v1.0h-1.0zM392 183h1.0v1.0h-1.0zM392 184h1.0v1.0h-1.0zM393 179h1.0v1.0h-1.0zM394 178h1.0v1.0h-1.0zM395 175h1.0v1.0h-1.0zM395 178h1.0v1.0h-1.0zM395 180h1.0v1.0h-1.0zM396 182h1.0v1.0h-1.0zM397 185h1.0v1.0h-1.0z" fill="#111" fill-opacity="0.8"/>
<text x="434.10" y="167.40" font-family="Liberation Sans" font-size="11.0" font-weight="bold" text-anchor="end" fill="#000">1</text>
<rect x="276.20" y="226.80" width="63.80" height="63.20" fill="none" stroke="#9a9a9a" stroke-width="1"/>
<line x1="276.20" y1="226.80" x2="276.20" y2="290.00" stroke="#888" stroke-width="1.1"/>
<line x1="276.20" y1="226.80" x2="276.20" y2="290.00" stroke="#5a5a5a" stroke-width="1.1" stroke-dasharray="1.5 1"/>
<line x1="276.20" y1="290.00" x2="340.00" y2="290.00" stroke="#5a5a5a" stroke-width="1.1" stroke-dasharray="1.5 1"/>
<line x1="299.50" y1="226.80" x2="299.50" y2="290.00" stroke="#929292" stroke-width="1"/>
<line x1="276.20" y1="274.00" x2="340.00" y2="274.00" stroke="#929292" stroke-width="1"/>
<ellipse cx="270.40" cy="227.40" rx="1.5" ry="1.0" fill="#1a1a1a" transform="rotate(-15 270.40 227.40)"/>
<circle cx="272.70" cy="225.30" r="0.75" fill="#1a1a1a"/>
<line x1="271.20" y1="227.10" x2="272.40" y2="225.60" stroke="#1a1a1a" stroke-width="0.5" stroke-opacity="0.5"/>
<ellipse cx="275.90" cy="294.00" rx="1.5" ry="1.0" fill="#1a1a1a" transform="rotate(-15 275.90 294.00)"/>
<circle cx="278.20" cy="291.90" r="0.75" fill="#1a1a1a"/>
<line x1="276.70" y1="293.70" x2="277.90" y2="292.20" stroke="#1a1a1a" stroke-width="0.5" stroke-opacity="0.5"/>
<ellipse cx="270.40" cy="243.20" rx="1.5" ry="1.0" fill="#1a1a1a" transform="rotate(-15 270.40 243.20)"/>
<circle cx="272.70" cy="241.10" r="0.75" fill="#1a1a1a"/>
<line x1="271.20" y1="242.90" x2="272.40" y2="241.40" stroke="#1a1a1a" stroke-width="0.5" stroke-opacity="0.5"/>
<ellipse cx="291.85" cy="294.00" rx="1.5" ry="1.0" fill="#1a1a1a" transform="rotate(-15 291.85 294.00)"/>
<circle cx="294.15" cy="291.90" r="0.75" fill="#1a1a1a"/>
<line x1="292.65" y1="293.70" x2="293.85" y2="292.20" stroke="#1a1a1a" stroke-width="0.5" stroke-opacity="0.5"/>
<ellipse cx="270.40" cy="259.00" rx="1.5" ry="1.0" fill="#1a1a1a" transform="rotate(-15 270.40 259.00)"/>
<circle cx="272.70" cy="256.90" r="0.75" fill="#1a1a1a"/>
<line x1="271.20" y1="258.70" x2="272.40" y2="257.20" stroke="#1a1a1a" stroke-width="0.5" stroke-opacity="0.5"/>
<ellipse cx="307.80" cy="294.00" rx="1.5" ry="1.0" fill="#1a1a1a" transform="rotate(-15 307.80 294.00)"/>
<circle cx="310.10" cy="291.90" r="0.75" fill="#1a1a1a"/>
<line x1="308.60" y1="293.70" x2="309.80" y2="292.20" stroke="#1a1a1a" stroke-width="0.5" stroke-opacity="0.5"/>
<ellipse cx="270.40" cy="274.80" rx="1.5" ry="1.0" fill="#1a1a1a" transform="rotate(-15 270.40 274.80)"/>
<circle cx="272.70" cy="272.70" r="0.75" fill="#1a1a1a"/>
<line x1="271.20" y1="274.50" x2="272.40" y2="273.00" stroke="#1a1a1a" stroke-width="0.5" stroke-opacity="0.5"/>
<ellipse cx="323.75" cy="294.00" rx="1.5" ry="1.0" fill="#1a1a1a" transform="rotate(-15 323.75 294.00)"/>
<circle cx="326.05" cy="291.90" r="0.75" fill="#1a1a1a"/>
<line x1="324.55" y1="293.70" x2="325.75" y2="292.20" stroke="#1a1a1a" stroke-width="0.5" stroke-opacity="0.5"/>
<ellipse cx="270.40" cy="290.60" rx="1.5" ry="1.0" fill="#1a1a1a" transform="rotate(-15 270.40 290.60)"/>
<circle cx="272.70" cy="288.50" r="0.75" fill="#1a1a1a"/>
<line x1="271.20" y1="290.30" x2="272.40" y2="288.80" stroke="#1a1a1a" stroke-width="0.5" stroke-opacity="0.5"/>
<ellipse cx="339.70" cy="294.00" rx="1.5" ry="1.0" fill="#1a1a1a" transform="rotate(-15 339.70 294.00)"/>
<circle cx="342.00" cy="291.90" r="0.75" fill="#1a1a1a"/>
<line x1="340.50" y1="293.70" x2="341.70" y2="292.20" stroke="#1a1a1a" stroke-width="0.5" stroke-opacity="0.5"/>
<path d="M280 263h1.0v1.0h-1.0zM280 264h1.0v1.0h-1.0zM283 267h1.0v1.0h-1.0zM283 271h1.0v1.0h-1.0zM284 267h1.0v1.0h-1.0zM284 269h1.0v1.0h-1.0zM284 270h1.0v1.0h-1.0zM285 261h1.0v1.0h-1.0zM285 262h1.0v1.0h-1.0zM285 264h1.0v1.0h-1.0zM285 275h1.0v1.0h-1.0zM286 258h1.0v1.0h-1.0zM286 263h1.0v1.0h-1.0zM286 264h1.0v1.0h-1.0zM286 265h1.0v1.0h-1.0zM286 266h1.0v1.0h-1.0zM286 267h1.0v1.0h-1.0zM286 269h1.0v1.0h-1.0zM286 270h1.0v1.0h-1.0zM286 272h1.0v1.0h-1.0zM286 273h1.0v1.0h-1.0zM286 276h1.0v1.0h-1.0zM287 259h1.0v1.0h-1.0zM287 260h1.0v1.0h-1.0zM287 262h1.0v1.0h-1.0zM287 264h1.0v1.0h-1.0zM287 265h1.0v1.0h-1.0zM287 269h1.0v1.0h-1.0zM287 270h1.0v1.0h-1.0zM288 262h1.0v1.0h-1.0zM288 263h1.0v1.0h-1.0zM288 264h1.0v1.0h-1.0zM288 266h1.0v1.0h-1.0zM288 267h1.0v1.0h-1.0zM288 268h1.0v1.0h-1.0zM288 269h1.0v1.0h-1.0zM288 271h1.0v1.0h-1.0zM288 272h1.0v1.0h-1.0zM288 274h1.0v1.0h-1.0zM289 260h1.0v1.0h-1.0zM289 263h1.0v1.0h-1.0zM289 264h1.0v1.0h-1.0zM289 265h1.0v1.0h-1.0zM289 266h1.0v1.0h-1.0zM289 267h1.0v1.0h-1.0zM289 268h1.0v1.0h-1.0zM289 269h1.0v1.0h-1.0zM289 270h1.0v1.0h-1.0zM289 271h1.0v1.0h-1.0zM289 273h1.0v1.0h-1.0zM290 259h1.0v1.0h-1.0zM290 263h1.0v1.0h-1.0zM290 264h1.0v1.0h-1.0zM290 265h1.0v1.0h-1.0zM290 266h1.0v1.0h-1.0zM290 267h1.0v1.0h-1.0zM290 268h1.0v1.0h-1.0zM290 269h1.0v1.0h-1.0zM290 270h1.0v1.0h-1.0zM290 271h1.0v1.0h-1.0zM290 272h1.0v1.0h-1.0zM290 274h1.0v1.0h-1.0zM291 260h1.0v1.0h-1.0zM291 261h1.0v1.0h-1.0zM291 262h1.0v1.0h-1.0zM291 263h1.0v1.0h-1.0zM291 264h1.0v1.0h-1.0zM291 265h1.0v1.0h-1.0zM291 266h1.0v1.0h-1.0zM291 267h1.0v1.0h-1.0zM291 268h1.0v1.0h-1.0zM291 269h1.0v1.0h-1.0zM291 270h1.0v1.0h-1.0zM291 272h1.0v1.0h-1.0zM291 273h1.0v1.0h-1.0zM291 274h1.0v1.0h-1.0zM291 277h1.0v1.0h-1.0zM292 259h1.0v1.0h-1.0zM292 261h1.0v1.0h-1.0zM292 262h1.0v1.0h-1.0zM292 263h1.0v1.0h-1.0zM292 264h1.0v1.0h-1.0zM292 265h1.0v1.0h-1.0zM292 266h1.0v1.0h-1.0zM292 267h1.0v1.0h-1.0zM292 268h1.0v1.0h-1.0zM292 269h1.0v1.0h-1.0zM292 270h1.0v1.0h-1.0zM292 271h1.0v1.0h-1.0zM292 272h1.0v1.0h-1.0zM292 273h1.0v1.0h-1.0zM293 258h1.0v1.0h-1.0zM293 259h1.0v1.0h-1.0zM293 260h1.0v1.0h-1.0zM293 261h1.0v1.0h-1.0zM293 262h1.0v1.0h-1.0zM293 263h1.0v1.0h-1.0zM293 264h1.0v1.0h-1.0zM293 265h1.0v1.0h-1.0zM293 266h1.0v1.0h-1.0zM293 267h1.0v1.0h-1.0zM293 268h1.0v1.0h-1.0zM293 269h1.0v1.0h-1.0zM293 270h1.0v1.0h-1.0zM293 271h1.0v1.0h-1.0zM293 273h1.0v1.0h-1.0zM293 274h1.0v1.0h-1.0zM294 259h1.0v1.0h-1.0zM294 261h1.0v1.0h-1.0zM294 262h1.0v1.0h-1.0zM294 263h1.0v1.0h-1.0zM294 264h1.0v1.0h-1.0zM294 265h1.0v1.0h-1.0zM294 266h1.0v1.0h-1.0zM294 267h1.0v1.0h-1.0zM294 268h1.0v1.0h-1.0zM294 269h1.0v1.0h-1.0zM294 270h1.0v1.0h-1.0zM294 271h1.0v1.0h-1.0zM295 259h1.0v1.0h-1.0zM295 262h1.0v1.0h-1.0zM295 263h1.0v1.0h-1.0zM295 264h1.0v1.0h-1.0zM295 265h1.0v1.0h-1.0zM295 266h1.0v1.0h-1.0zM295 267h1.0v1.0h-1.0zM295 268h1.0v1.0h-1.0zM295 269h1.0v1.0h-1.0zM295 270h1.0v1.0h-1.0zM295 271h1.0v1.0h-1.0zM295 272h1.0v1.0h-1.0zM295 273h1.0v1.0h-1.0zM295 275h1.0v1.0h-1.0zM295 276h1.0v1.0h-1.0zM296 259h1.0v1.0h-1.0zM296 260h1.0v1.0h-1.0zM296 261h1.0v1.0h-1.0zM296 262h1.0v1.0h-1.0zM296 263h1.0v1.0h-1.0zM296 264h1.0v1.0h-1.0zM296 265h1.0v1.0h-1.0zM296 266h1.0v1.0h-1.0zM296 267h1.0v1.0h-1.0zM296 268h1.0v1.0h-1.0zM296 269h1.0v1.0h-1.0zM296 270h1.0v1.0h-1.0zM296 271h1.0v1.0h-1.0zM296 272h1.0v1.0h-1.0zM296 273h1.0v1.0h-1.0zM297 258h1.0v1.0h-1.0zM297 259h1.0v1.0h-1.0zM297 260h1.0v1.0h-1.0zM297 261h1.0v1.0h-1.0zM297 262h1.0v1.0h-1.0zM297 263h1.0v1.0h-1.0zM297 264h1.0v1.0h-1.0zM297 265h1.0v1.0h-1.0zM297 266h1.0v1.0h-1.0zM297 267h1.0v1.0h-1.0zM297 268h1.0v1.0h-1.0zM297 269h1.0v1.0h-1.0zM297 270h1.0v1.0h-1.0zM297 271h1.0v1.0h-1.0zM298 256h1.0v1.0h-1.0zM298 259h1.0v1.0h-1.0zM298 261h1.0v1.0h-1.0zM298 263h1.0v1.0h-1.0zM298 264h1.0v1.0h-1.0zM298 265h1.0v1.0h-1.0zM298 266h1.0v1.0h-1.0zM298 267h1.0v1.0h-1.0zM298 269h1.0v1.0h-1.0zM298 270h1.0v1.0h-1.0zM298 271h1.0v1.0h-1.0zM298 273h1.0v1.0h-1.0zM299 261h1.0v1.0h-1.0zM299 263h1.0v1.0h-1.0zM299 264h1.0v1.0h-1.0zM299 265h1.0v1.0h-1.0zM299 266h1.0v1.0h-1.0zM299 268h1.0v1.0h-1.0zM299 270h1.0v1.0h-1.0zM299 271h1.0v1.0h-1.0zM299 272h1.0v1.0h-1.0zM300 259h1.0v1.0h-1.0zM300 262h1.0v1.0h-1.0zM300 263h1.0v1.0h-1.0zM300 265h1.0v1.0h-1.0zM300 266h1.0v1.0h-1.0zM300 268h1.0v1.0h-1.0zM300 269h1.0v1.0h-1.0zM300 271h1.0v1.0h-1.0zM300 273h1.0v1.0h-1.0zM301 261h1.0v1.0h-1.0zM301 265h1.0v1.0h-1.0zM301 268h1.0v1.0h-1.0zM301 269h1.0v1.0h-1.0zM301 273h1.0v1.0h-1.0zM302 264h1.0v1.0h-1.0zM302 266h1.0v1.0h-1.0zM303 270h1.0v1.0h-1.0zM304 264h1.0v1.0h-1.0zM304 269h1.0v1.0h-1.0z" fill="#000" fill-opacity="0.92"/>
<path d="M276 270h1.0v1.0h-1.0zM278 267h1.0v1.0h-1.0zM278 277h1.0v1.0h-1.0zM279 262h1.0v1.0h-1.0zM279 266h1.0v1.0h-1.0zM282 272h1.0v1.0h-1.0zM283 273h1.0v1.0h-1.0zM283 280h1.0v1.0h-1.0zM284 263h1.0v1.0h-1.0zM284 268h1.0v1.0h-1.0zM284 271h1.0v1.0h-1.0zM284 280h1.0v1.0h-1.0zM285 259h1.0v1.0h-1.0zM285 268h1.0v1.0h-1.0zM285 281h1.0v1.0h-1.0zM286 259h1.0v1.0h-1.0zM286 265h1.0v1.0h-1.0zM286 266h1.0v1.0h-1.0zM286 271h1.0v1.0h-1.0zM286 275h1.0v1.0h-1.0zM286 278h1.0v1.0h-1.0zM287 273h1.0v1.0h-1.0zM287 275h1.0v1.0h-1.0zM287 282h1.0v1.0h-1.0zM288 264h1.0v1.0h-1.0zM288 265h1.0v1.0h-1.0zM288 266h1.0v1.0h-1.0zM288 267h1.0v1.0h-1.0zM288 269h1.0v1.0h-1.0zM288 273h1.0v1.0h-1.0zM288 274h1.0v1.0h-1.0zM288 281h1.0v1.0h-1.0zM289 253h1.0v1.0h-1.0zM289 254h1.0v1.0h-1.0zM289 262h1.0v1.0h-1.0zM289 266h1.0v1.0h-1.0zM289 269h1.0v1.0h-1.0zM289 276h1.0v1.0h-1.0zM289 279h1.0v1.0h-1.0zM290 262h1.0v1.0h-1.0zM290 268h1.0v1.0h-1.0zM290 272h1.0v1.0h-1.0zM290 280h1.0v1.0h-1.0zM291 269h1.0v1.0h-1.0zM291 276h1.0v1.0h-1.0zM292 270h1.0v1.0h-1.0zM292 271h1.0v1.0h-1.0zM292 273h1.0v1.0h-1.0zM293 275h1.0v1.0h-1.0zM293 278h1.0v1.0h-1.0zM294 257h1.0v1.0h-1.0zM294 265h1.0v1.0h-1.0zM294 272h1.0v1.0h-1.0zM294 273h1.0v1.0h-1.0zM294 276h1.0v1.0h-1.0zM294 279h1.0v1.0h-1.0zM294 285h1.0v1.0h-1.0zM295 263h1.0v1.0h-1.0zM295 267h1.0v1.0h-1.0zM295 268h1.0v1.0h-1.0zM295 275h1.0v1.0h-1.0zM296 257h1.0v1.0h-1.0zM296 268h1.0v1.0h-1.0zM296 273h1.0v1.0h-1.0zM296 281h1.0v1.0h-1.0zM296 282h1.0v1.0h-1.0zM297 264h1.0v1.0h-1.0zM297 273h1.0v1.0h-1.0zM298 263h1.0v1.0h-1.0zM298 264h1.0v1.0h-1.0zM298 274h1.0v1.0h-1.0zM299 262h1.0v1.0h-1.0zM299 266h1.0v1.0h-1.0zM300 267h1.0v1.0h-1.0zM300 271h1.0v1.0h-1.0zM300 273h1.0v1.0h-1.0zM300 279h1.0v1.0h-1.0zM303 263h1.0v1.0h-1.0zM303 281h1.0v1.0h-1.0zM305 271h1.0v1.0h-1.0z" fill="#000" fill-opacity="0.92"/>
<text x="337.00" y="239.20" font-family="Liberation Sans" font-size="11.0" font-weight="bold" text-anchor="end" fill="#000">6</text>
<rect x="373.20" y="226.80" width="63.80" height="63.20" fill="none" stroke="#9a9a9a" stroke-width="1"/>
<line x1="373.20" y1="226.80" x2="373.20" y2="290.00" stroke="#888" stroke-width="1.1"/>
<line x1="373.20" y1="226.80" x2="373.20" y2="290.00" stroke="#5a5a5a" stroke-width="1.1" stroke-dasharray="1.5 1"/>
<line x1="373.20" y1="290.00" x2="437.00" y2="290.00" stroke="#5a5a5a" stroke-width="1.1" stroke-dasharray="1.5 1"/>
<line x1="397.00" y1="226.80" x2="397.00" y2="290.00" stroke="#929292" stroke-width="1"/>
<line x1="373.20" y1="258.60" x2="437.00" y2="258.60" stroke="#929292" stroke-width="1"/>
<ellipse cx="367.40" cy="227.40" rx="1.5" ry="1.0" fill="#1a1a1a" transform="rotate(-15 367.40 227.40)"/>
<circle cx="369.70" cy="225.30" r="0.75" fill="#1a1a1a"/>
<line x1="368.20" y1="227.10" x2="369.40" y2="225.60" stroke="#1a1a1a" stroke-width="0.5" stroke-opacity="0.5"/>
<ellipse cx="372.90" cy="294.00" rx="1.5" ry="1.0" fill="#1a1a1a" transform="rotate(-15 372.90 294.00)"/>
<circle cx="375.20" cy="291.90" r="0.75" fill="#1a1a1a"/>
<line x1="373.70" y1="293.70" x2="374.90" y2="292.20" stroke="#1a1a1a" stroke-width="0.5" stroke-opacity="0.5"/>
<ellipse cx="367.40" cy="243.20" rx="1.5" ry="1.0" fill="#1a1a1a" transform="rotate(-15 367.40 243.20)"/>
<circle cx="369.70" cy="241.10" r="0.75" fill="#1a1a1a"/>
<line x1="368.20" y1="242.90" x2="369.40" y2="241.40" stroke="#1a1a1a" stroke-width="0.5" stroke-opacity="0.5"/>
<ellipse cx="388.85" cy="294.00" rx="1.5" ry="1.0" fill="#1a1a1a" transform="rotate(-15 388.85 294.00)"/>
<circle cx="391.15" cy="291.90" r="0.75" fill="#1a1a1a"/>
<line x1="389.65" y1="293.70" x2="390.85" y2="292.20" stroke="#1a1a1a" stroke-width="0.5" stroke-opacity="0.5"/>
<ellipse cx="367.40" cy="259.00" rx="1.5" ry="1.0" fill="#1a1a1a" transform="rotate(-15 367.40 259.00)"/>
<circle cx="369.70" cy="256.90" r="0.75" fill="#1a1a1a"/>
<line x1="368.20" y1="258.70" x2="369.40" y2="257.20" stroke="#1a1a1a" stroke-width="0.5" stroke-opacity="0.5"/>
<ellipse cx="404.80" cy="294.00" rx="1.5" ry="1.0" fill="#1a1a1a" transform="rotate(-15 404.80 294.00)"/>
<circle cx="407.10" cy="291.90" r="0.75" fill="#1a1a1a"/>
<line x1="405.60" y1="293.70" x2="406.80" y2="292.20" stroke="#1a1a1a" stroke-width="0.5" stroke-opacity="0.5"/>
<ellipse cx="367.40" cy="274.80" rx="1.5" ry="1.0" fill="#1a1a1a" transform="rotate(-15 367.40 274.80)"/>
<circle cx="369.70" cy="272.70" r="0.75" fill="#1a1a1a"/>
<line x1="368.20" y1="274.50" x2="369.40" y2="273.00" stroke="#1a1a1a" stroke-width="0.5" stroke-opacity="0.5"/>
<ellipse cx="420.75" cy="294.00" rx="1.5" ry="1.0" fill="#1a1a1a" transform="rotate(-15 420.75 294.00)"/>
<circle cx="423.05" cy="291.90" r="0.75" fill="#1a1a1a"/>
<line x1="421.55" y1="293.70" x2="422.75" y2="292.20" stroke="#1a1a1a" stroke-width="0.5" stroke-opacity="0.5"/>
<ellipse cx="367.40" cy="290.60" rx="1.5" ry="1.0" fill="#1a1a1a" transform="rotate(-15 367.40 290.60)"/>
<circle cx="369.70" cy="288.50" r="0.75" fill="#1a1a1a"/>
<line x1="368.20" y1="290.30" x2="369.40" y2="288.80" stroke="#1a1a1a" stroke-width="0.5" stroke-opacity="0.5"/>
<ellipse cx="436.70" cy="294.00" rx="1.5" ry="1.0" fill="#1a1a1a" transform="rotate(-15 436.70 294.00)"/>
<circle cx="439.00" cy="291.90" r="0.75" fill="#1a1a1a"/>
<line x1="437.50" y1="293.70" x2="438.70" y2="292.20" stroke="#1a1a1a" stroke-width="0.5" stroke-opacity="0.5"/>
<path d="M381 242h1.0v1.0h-1.0zM381 254h1.0v1.0h-1.0zM382 246h1.0v1.0h-1.0zM382 252h1.0v1.0h-1.0zM383 247h1.0v1.0h-1.0zM383 248h1.0v1.0h-1.0zM383 249h1.0v1.0h-1.0zM383 251h1.0v1.0h-1.0zM384 243h1.0v1.0h-1.0zM384 244h1.0v1.0h-1.0zM384 248h1.0v1.0h-1.0zM384 251h1.0v1.0h-1.0zM385 243h1.0v1.0h-1.0zM385 244h1.0v1.0h-1.0zM385 246h1.0v1.0h-1.0zM385 247h1.0v1.0h-1.0zM385 248h1.0v1.0h-1.0zM385 249h1.0v1.0h-1.0zM385 250h1.0v1.0h-1.0zM385 252h1.0v1.0h-1.0zM385 254h1.0v1.0h-1.0zM386 239h1.0v1.0h-1.0zM386 245h1.0v1.0h-1.0zM386 247h1.0v1.0h-1.0zM386 248h1.0v1.0h-1.0zM386 249h1.0v1.0h-1.0zM386 250h1.0v1.0h-1.0zM386 251h1.0v1.0h-1.0zM386 252h1.0v1.0h-1.0zM386 254h1.0v1.0h-1.0zM386 255h1.0v1.0h-1.0zM386 257h1.0v1.0h-1.0zM387 243h1.0v1.0h-1.0zM387 244h1.0v1.0h-1.0zM387 245h1.0v1.0h-1.0zM387 246h1.0v1.0h-1.0zM387 247h1.0v1.0h-1.0zM387 248h1.0v1.0h-1.0zM387 249h1.0v1.0h-1.0zM387 250h1.0v1.0h-1.0zM387 254h1.0v1.0h-1.0zM388 240h1.0v1.0h-1.0zM388 241h1.0v1.0h-1.0zM388 242h1.0v1.0h-1.0zM388 244h1.0v1.0h-1.0zM388 245h1.0v1.0h-1.0zM388 246h1.0v1.0h-1.0zM388 247h1.0v1.0h-1.0zM388 248h1.0v1.0h-1.0zM388 249h1.0v1.0h-1.0zM388 250h1.0v1.0h-1.0zM388 254h1.0v1.0h-1.0zM389 242h1.0v1.0h-1.0zM389 243h1.0v1.0h-1.0zM389 244h1.0v1.0h-1.0zM389 245h1.0v1.0h-1.0zM389 246h1.0v1.0h-1.0zM389 247h1.0v1.0h-1.0zM389 248h1.0v1.0h-1.0zM389 249h1.0v1.0h-1.0zM389 250h1.0v1.0h-1.0zM389 251h1.0v1.0h-1.0zM389 252h1.0v1.0h-1.0zM390 239h1.0v1.0h-1.0zM390 243h1.0v1.0h-1.0zM390 244h1.0v1.0h-1.0zM390 245h1.0v1.0h-1.0zM390 246h1.0v1.0h-1.0zM390 247h1.0v1.0h-1.0zM390 249h1.0v1.0h-1.0zM390 250h1.0v1.0h-1.0zM390 251h1.0v1.0h-1.0zM390 252h1.0v1.0h-1.0zM390 253h1.0v1.0h-1.0zM391 244h1.0v1.0h-1.0zM391 245h1.0v1.0h-1.0zM391 246h1.0v1.0h-1.0zM391 247h1.0v1.0h-1.0zM391 248h1.0v1.0h-1.0zM391 249h1.0v1.0h-1.0zM391 250h1.0v1.0h-1.0zM391 252h1.0v1.0h-1.0zM391 254h1.0v1.0h-1.0zM391 256h1.0v1.0h-1.0zM392 242h1.0v1.0h-1.0zM392 243h1.0v1.0h-1.0zM392 244h1.0v1.0h-1.0zM392 246h1.0v1.0h-1.0zM392 249h1.0v1.0h-1.0zM392 250h1.0v1.0h-1.0zM392 252h1.0v1.0h-1.0zM392 253h1.0v1.0h-1.0zM393 244h1.0v1.0h-1.0zM393 246h1.0v1.0h-1.0zM393 247h1.0v1.0h-1.0zM393 248h1.0v1.0h-1.0zM393 249h1.0v1.0h-1.0zM393 251h1.0v1.0h-1.0zM394 247h1.0v1.0h-1.0zM394 248h1.0v1.0h-1.0zM395 240h1.0v1.0h-1.0zM395 253h1.0v1.0h-1.0zM396 248h1.0v1.0h-1.0zM398 249h1.0v1.0h-1.0z" fill="#111" fill-opacity="0.8"/>
<path d="M378 250h1.0v1.0h-1.0zM378 252h1.0v1.0h-1.0zM378 253h1.0v1.0h-1.0zM379 250h1.0v1.0h-1.0zM380 245h1.0v1.0h-1.0zM380 248h1.0v1.0h-1.0zM380 249h1.0v1.0h-1.0zM381 245h1.0v1.0h-1.0zM381 249h1.0v1.0h-1.0zM381 255h1.0v1.0h-1.0zM382 257h1.0v1.0h-1.0zM383 245h1.0v1.0h-1.0zM383 249h1.0v1.0h-1.0zM383 253h1.0v1.0h-1.0zM383 254h1.0v1.0h-1.0zM383 258h1.0v1.0h-1.0zM384 254h1.0v1.0h-1.0zM385 245h1.0v1.0h-1.0zM385 252h1.0v1.0h-1.0zM386 243h1.0v1.0h-1.0zM386 248h1.0v1.0h-1.0zM386 249h1.0v1.0h-1.0zM387 245h1.0v1.0h-1.0zM387 248h1.0v1.0h-1.0zM387 249h1.0v1.0h-1.0zM387 252h1.0v1.0h-1.0zM388 240h1.0v1.0h-1.0zM388 249h1.0v1.0h-1.0zM388 253h1.0v1.0h-1.0zM389 246h1.0v1.0h-1.0zM389 252h1.0v1.0h-1.0zM390 252h1.0v1.0h-1.0zM391 248h1.0v1.0h-1.0zM392 244h1.0v1.0h-1.0zM393 253h1.0v1.0h-1.0zM394 254h1.0v1.0h-1.0zM396 250h1.0v1.0h-1.0zM402 251h1.0v1.0h-1.0z" fill="#111" fill-opacity="0.8"/>
<text x="434.10" y="239.20" font-family="Liberation Sans" font-size="11.0" font-weight="bold" text-anchor="end" fill="#000">0</text>
<rect x="276.20" y="298.00" width="63.80" height="63.20" fill="none" stroke="#9a9a9a" stroke-width="1"/>
<line x1="276.20" y1="298.00" x2="276.20" y2="361.20" stroke="#888" stroke-width="1.1"/>
<line x1="276.20" y1="298.00" x2="276.20" y2="361.20" stroke="#5a5a5a" stroke-width="1.1" stroke-dasharray="1.5 1"/>
<line x1="276.20" y1="361.20" x2="340.00" y2="361.20" stroke="#5a5a5a" stroke-width="1.1" stroke-dasharray="1.5 1"/>
<line x1="299.50" y1="298.00" x2="299.50" y2="361.20" stroke="#929292" stroke-width="1"/>
<line x1="276.20" y1="345.20" x2="340.00" y2="345.20" stroke="#929292" stroke-width="1"/>
<ellipse cx="270.40" cy="298.60" rx="1.5" ry="1.0" fill="#1a1a1a" transform="rotate(-15 270.40 298.60)"/>
<circle cx="272.70" cy="296.50" r="0.75" fill="#1a1a1a"/>
<line x1="271.20" y1="298.30" x2="272.40" y2="296.80" stroke="#1a1a1a" stroke-width="0.5" stroke-opacity="0.5"/>
<ellipse cx="275.90" cy="365.20" rx="1.5" ry="1.0" fill="#1a1a1a" transform="rotate(-15 275.90 365.20)"/>
<circle cx="278.20" cy="363.10" r="0.75" fill="#1a1a1a"/>
<line x1="276.70" y1="364.90" x2="277.90" y2="363.40" stroke="#1a1a1a" stroke-width="0.5" stroke-opacity="0.5"/>
<ellipse cx="270.40" cy="314.40" rx="1.5" ry="1.0" fill="#1a1a1a" transform="rotate(-15 270.40 314.40)"/>
<circle cx="272.70" cy="312.30" r="0.75" fill="#1a1a1a"/>
<line x1="271.20" y1="314.10" x2="272.40" y2="312.60" stroke="#1a1a1a" stroke-width="0.5" stroke-opacity="0.5"/>
<ellipse cx="291.85" cy="365.20" rx="1.5" ry="1.0" fill="#1a1a1a" transform="rotate(-15 291.85 365.20)"/>
<circle cx="294.15" cy="363.10" r="0.75" fill="#1a1a1a"/>
<line x1="292.65" y1="364.90" x2="293.85" y2="363.40" stroke="#1a1a1a" stroke-width="0.5" stroke-opacity="0.5"/>
<ellipse cx="270.40" cy="330.20" rx="1.5" ry="1.0" fill="#1a1a1a" transform="rotate(-15 270.40 330.20)"/>
<circle cx="272.70" cy="328.10" r="0.75" fill="#1a1a1a"/>
<line x1="271.20" y1="329.90" x2="272.40" y2="328.40" stroke="#1a1a1a" stroke-width="0.5" stroke-opacity="0.5"/>
<ellipse cx="307.80" cy="365.20" rx="1.5" ry="1.0" fill="#1a1a1a" transform="rotate(-15 307.80 365.20)"/>
<circle cx="310.10" cy="363.10" r="0.75" fill="#1a1a1a"/>
<line x1="308.60" y1="364.90" x2="309.80" y2="363.40" stroke="#1a1a1a" stroke-width="0.5" stroke-opacity="0.5"/>
<ellipse cx="270.40" cy="346.00" rx="1.5" ry="1.0" fill="#1a1a1a" transform="rotate(-15 270.40 346.00)"/>
<circle cx="272.70" cy="343.90" r="0.75" fill="#1a1a1a"/>
<line x1="271.20" y1="345.70" x2="272.40" y2="344.20" stroke="#1a1a1a" stroke-width="0.5" stroke-opacity="0.5"/>
<ellipse cx="323.75" cy="365.20" rx="1.5" ry="1.0" fill="#1a1a1a" transform="rotate(-15 323.75 365.20)"/>
<circle cx="326.05" cy="363.10" r="0.75" fill="#1a1a1a"/>
<line x1="324.55" y1="364.90" x2="325.75" y2="363.40" stroke="#1a1a1a" stroke-width="0.5" stroke-opacity="0.5"/>
<ellipse cx="270.40" cy="361.80" rx="1.5" ry="1.0" fill="#1a1a1a" transform="rotate(-15 270.40 361.80)"/>
<circle cx="272.70" cy="359.70" r="0.75" fill="#1a1a1a"/>
<line x1="271.20" y1="361.50" x2="272.40" y2="360.00" stroke="#1a1a1a" stroke-width="0.5" stroke-opacity="0.5"/>
<ellipse cx="339.70" cy="365.20" rx="1.5" ry="1.0" fill="#1a1a1a" transform="rotate(-15 339.70 365.20)"/>
<circle cx="342.00" cy="363.10" r="0.75" fill="#1a1a1a"/>
<line x1="340.50" y1="364.90" x2="341.70" y2="363.40" stroke="#1a1a1a" stroke-width="0.5" stroke-opacity="0.5"/>
<path d="M277 338h1.0v1.0h-1.0zM278 339h1.0v1.0h-1.0zM281 336h1.0v1.0h-1.0zM282 335h1.0v1.0h-1.0zM282 340h1.0v1.0h-1.0zM283 331h1.0v1.0h-1.0zM283 332h1.0v1.0h-1.0zM283 337h1.0v1.0h-1.0zM284 333h1.0v1.0h-1.0zM284 337h1.0v1.0h-1.0zM284 338h1.0v1.0h-1.0zM285 338h1.0v1.0h-1.0zM285 339h1.0v1.0h-1.0zM285 340h1.0v1.0h-1.0zM285 341h1.0v1.0h-1.0zM285 343h1.0v1.0h-1.0zM285 344h1.0v1.0h-1.0zM286 333h1.0v1.0h-1.0zM286 334h1.0v1.0h-1.0zM286 335h1.0v1.0h-1.0zM286 337h1.0v1.0h-1.0zM286 339h1.0v1.0h-1.0zM286 342h1.0v1.0h-1.0zM287 330h1.0v1.0h-1.0zM287 332h1.0v1.0h-1.0zM287 333h1.0v1.0h-1.0zM287 334h1.0v1.0h-1.0zM287 336h1.0v1.0h-1.0zM287 338h1.0v1.0h-1.0zM287 339h1.0v1.0h-1.0zM287 340h1.0v1.0h-1.0zM287 343h1.0v1.0h-1.0zM288 331h1.0v1.0h-1.0zM288 334h1.0v1.0h-1.0zM288 335h1.0v1.0h-1.0zM288 336h1.0v1.0h-1.0zM288 337h1.0v1.0h-1.0zM288 340h1.0v1.0h-1.0zM288 341h1.0v1.0h-1.0zM288 343h1.0v1.0h-1.0zM288 344h1.0v1.0h-1.0zM288 345h1.0v1.0h-1.0zM289 329h1.0v1.0h-1.0zM289 332h1.0v1.0h-1.0zM289 333h1.0v1.0h-1.0zM289 334h1.0v1.0h-1.0zM289 336h1.0v1.0h-1.0zM289 337h1.0v1.0h-1.0zM289 338h1.0v1.0h-1.0zM289 339h1.0v1.0h-1.0zM289 340h1.0v1.0h-1.0zM289 342h1.0v1.0h-1.0zM290 331h1.0v1.0h-1.0zM290 332h1.0v1.0h-1.0zM290 333h1.0v1.0h-1.0zM290 335h1.0v1.0h-1.0zM290 336h1.0v1.0h-1.0zM290 337h1.0v1.0h-1.0zM290 338h1.0v1.0h-1.0zM290 339h1.0v1.0h-1.0zM290 340h1.0v1.0h-1.0zM290 341h1.0v1.0h-1.0zM291 329h1.0v1.0h-1.0zM291 331h1.0v1.0h-1.0zM291 332h1.0v1.0h-1.0zM291 335h1.0v1.0h-1.0zM291 337h1.0v1.0h-1.0zM291 338h1.0v1.0h-1.0zM291 339h1.0v1.0h-1.0zM291 340h1.0v1.0h-1.0zM291 341h1.0v1.0h-1.0zM291 342h1.0v1.0h-1.0zM291 343h1.0v1.0h-1.0zM292 332h1.0v1.0h-1.0zM292 333h1.0v1.0h-1.0zM292 334h1.0v1.0h-1.0zM292 335h1.0v1.0h-1.0zM292 336h1.0v1.0h-1.0zM292 338h1.0v1.0h-1.0zM292 339h1.0v1.0h-1.0zM292 340h1.0v1.0h-1.0zM292 341h1.0v1.0h-1.0zM293 327h1.0v1.0h-1.0zM293 329h1.0v1.0h-1.0zM293 332h1.0v1.0h-1.0zM293 333h1.0v1.0h-1.0zM293 335h1.0v1.0h-1.0zM293 336h1.0v1.0h-1.0zM293 337h1.0v1.0h-1.0zM293 338h1.0v1.0h-1.0zM293 339h1.0v1.0h-1.0zM293 340h1.0v1.0h-1.0zM293 341h1.0v1.0h-1.0zM293 344h1.0v1.0h-1.0zM294 332h1.0v1.0h-1.0zM294 333h1.0v1.0h-1.0zM294 334h1.0v1.0h-1.0zM294 335h1.0v1.0h-1.0zM294 336h1.0v1.0h-1.0zM294 337h1.0v1.0h-1.0zM294 338h1.0v1.0h-1.0zM294 339h1.0v1.0h-1.0zM294 340h1.0v1.0h-1.0zM295 331h1.0v1.0h-1.0zM295 332h1.0v1.0h-1.0zM295 333h1.0v1.0h-1.0zM295 335h1.0v1.0h-1.0zM295 336h1.0v1.0h-1.0zM295 337h1.0v1.0h-1.0zM295 338h1.0v1.0h-1.0zM295 339h1.0v1.0h-1.0zM295 340h1.0v1.0h-1.0zM295 343h1.0v1.0h-1.0zM295 344h1.0v1.0h-1.0zM296 331h1.0v1.0h-1.0zM296 333h1.0v1.0h-1.0zM296 334h1.0v1.0h-1.0zM296 335h1.0v1.0h-1.0zM296 336h1.0v1.0h-1.0zM296 337h1.0v1.0h-1.0zM296 338h1.0v1.0h-1.0zM296 339h1.0v1.0h-1.0zM296 340h1.0v1.0h-1.0zM296 343h1.0v1.0h-1.0zM296 344h1.0v1.0h-1.0zM297 332h1.0v1.0h-1.0zM297 333h1.0v1.0h-1.0zM297 334h1.0v1.0h-1.0zM297 335h1.0v1.0h-1.0zM297 336h1.0v1.0h-1.0zM297 337h1.0v1.0h-1.0zM297 338h1.0v1.0h-1.0zM297 339h1.0v1.0h-1.0zM297 340h1.0v1.0h-1.0zM297 341h1.0v1.0h-1.0zM297 342h1.0v1.0h-1.0zM297 343h1.0v1.0h-1.0zM297 344h1.0v1.0h-1.0zM297 345h1.0v1.0h-1.0zM298 334h1.0v1.0h-1.0zM298 335h1.0v1.0h-1.0zM298 336h1.0v1.0h-1.0zM298 337h1.0v1.0h-1.0zM298 338h1.0v1.0h-1.0zM298 339h1.0v1.0h-1.0zM298 341h1.0v1.0h-1.0zM298 342h1.0v1.0h-1.0zM298 344h1.0v1.0h-1.0zM298 347h1.0v1.0h-1.0zM299 330h1.0v1.0h-1.0zM299 331h1.0v1.0h-1.0zM299 332h1.0v1.0h-1.0zM299 333h1.0v1.0h-1.0zM299 334h1.0v1.0h-1.0zM299 335h1.0v1.0h-1.0zM299 336h1.0v1.0h-1.0zM299 337h1.0v1.0h-1.0zM299 338h1.0v1.0h-1.0zM299 339h1.0v1.0h-1.0zM299 340h1.0v1.0h-1.0zM299 341h1.0v1.0h-1.0zM299 342h1.0v1.0h-1.0zM299 343h1.0v1.0h-1.0zM299 344h1.0v1.0h-1.0zM299 345h1.0v1.0h-1.0zM300 332h1.0v1.0h-1.0zM300 333h1.0v1.0h-1.0zM300 335h1.0v1.0h-1.0zM300 336h1.0v1.0h-1.0zM300 337h1.0v1.0h-1.0zM300 338h1.0v1.0h-1.0zM300 339h1.0v1.0h-1.0zM300 340h1.0v1.0h-1.0zM300 341h1.0v1.0h-1.0zM300 342h1.0v1.0h-1.0zM300 343h1.0v1.0h-1.0zM300 344h1.0v1.0h-1.0zM301 331h1.0v1.0h-1.0zM301 332h1.0v1.0h-1.0zM301 334h1.0v1.0h-1.0zM301 335h1.0v1.0h-1.0zM301 336h1.0v1.0h-1.0zM301 337h1.0v1.0h-1.0zM301 338h1.0v1.0h-1.0zM301 339h1.0v1.0h-1.0zM301 340h1.0v1.0h-1.0zM301 341h1.0v1.0h-1.0zM301 342h1.0v1.0h-1.0zM301 343h1.0v1.0h-1.0zM302 328h1.0v1.0h-1.0zM302 332h1.0v1.0h-1.0zM302 334h1.0v1.0h-1.0zM302 335h1.0v1.0h-1.0zM302 336h1.0v1.0h-1.0zM302 337h1.0v1.0h-1.0zM302 338h1.0v1.0h-1.0zM302 339h1.0v1.0h-1.0zM302 340h1.0v1.0h-1.0zM302 341h1.0v1.0h-1.0zM303 330h1.0v1.0h-1.0zM303 332h1.0v1.0h-1.0zM303 335h1.0v1.0h-1.0zM303 337h1.0v1.0h-1.0zM303 338h1.0v1.0h-1.0zM303 339h1.0v1.0h-1.0zM303 340h1.0v1.0h-1.0zM303 341h1.0v1.0h-1.0zM303 342h1.0v1.0h-1.0zM303 344h1.0v1.0h-1.0zM304 334h1.0v1.0h-1.0zM304 335h1.0v1.0h-1.0zM304 336h1.0v1.0h-1.0zM304 337h1.0v1.0h-1.0zM304 338h1.0v1.0h-1.0zM304 339h1.0v1.0h-1.0zM304 340h1.0v1.0h-1.0zM304 341h1.0v1.0h-1.0zM304 344h1.0v1.0h-1.0zM305 334h1.0v1.0h-1.0zM305 335h1.0v1.0h-1.0zM305 336h1.0v1.0h-1.0zM305 337h1.0v1.0h-1.0zM305 339h1.0v1.0h-1.0zM305 340h1.0v1.0h-1.0zM305 341h1.0v1.0h-1.0zM305 343h1.0v1.0h-1.0zM306 334h1.0v1.0h-1.0zM306 335h1.0v1.0h-1.0zM306 336h1.0v1.0h-1.0zM306 338h1.0v1.0h-1.0zM306 341h1.0v1.0h-1.0zM307 328h1.0v1.0h-1.0zM307 331h1.0v1.0h-1.0zM307 332h1.0v1.0h-1.0zM307 333h1.0v1.0h-1.0zM307 334h1.0v1.0h-1.0zM307 335h1.0v1.0h-1.0zM307 336h1.0v1.0h-1.0zM307 337h1.0v1.0h-1.0zM307 338h1.0v1.0h-1.0zM307 343h1.0v1.0h-1.0zM308 336h1.0v1.0h-1.0zM308 337h1.0v1.0h-1.0zM308 339h1.0v1.0h-1.0zM309 335h1.0v1.0h-1.0zM309 337h1.0v1.0h-1.0zM309 338h1.0v1.0h-1.0zM310 335h1.0v1.0h-1.0zM310 338h1.0v1.0h-1.0zM311 338h1.0v1.0h-1.0zM312 335h1.0v1.0h-1.0zM312 338h1.0v1.0h-1.0zM315 332h1.0v1.0h-1.0z" fill="#000" fill-opacity="0.92"/>
<path d="M276 350h1.0v1.0h-1.0zM280 349h1.0v1.0h-1.0zM280 354h1.0v1.0h-1.0zM281 332h1.0v1.0h-1.0zM281 339h1.0v1.0h-1.0zM282 338h1.0v1.0h-1.0zM282 340h1.0v1.0h-1.0zM283 340h1.0v1.0h-1.0zM283 344h1.0v1.0h-1.0zM285 334h1.0v1.0h-1.0zM285 345h1.0v1.0h-1.0zM286 331h1.0v1.0h-1.0zM286 334h1.0v1.0h-1.0zM286 338h1.0v1.0h-1.0zM286 349h1.0v1.0h-1.0zM287 331h1.0v1.0h-1.0zM287 332h1.0v1.0h-1.0zM287 334h1.0v1.0h-1.0zM287 341h1.0v1.0h-1.0zM287 345h1.0v1.0h-1.0zM288 325h1.0v1.0h-1.0zM288 334h1.0v1.0h-1.0zM288 336h1.0v1.0h-1.0zM288 342h1.0v1.0h-1.0zM288 347h1.0v1.0h-1.0zM289 332h1.0v1.0h-1.0zM289 334h1.0v1.0h-1.0zM289 335h1.0v1.0h-1.0zM289 338h1.0v1.0h-1.0zM289 342h1.0v1.0h-1.0zM289 343h1.0v1.0h-1.0zM289 348h1.0v1.0h-1.0zM289 351h1.0v1.0h-1.0zM290 325h1.0v1.0h-1.0zM290 338h1.0v1.0h-1.0zM290 339h1.0v1.0h-1.0zM290 340h1.0v1.0h-1.0zM290 341h1.0v1.0h-1.0zM290 343h1.0v1.0h-1.0zM290 348h1.0v1.0h-1.0zM291 331h1.0v1.0h-1.0zM291 337h1.0v1.0h-1.0zM291 338h1.0v1.0h-1.0zM291 340h1.0v1.0h-1.0zM291 348h1.0v1.0h-1.0zM292 334h1.0v1.0h-1.0zM292 336h1.0v1.0h-1.0zM292 337h1.0v1.0h-1.0zM292 338h1.0v1.0h-1.0zM292 339h1.0v1.0h-1.0zM292 346h1.0v1.0h-1.0zM293 336h1.0v1.0h-1.0zM293 337h1.0v1.0h-1.0zM293 342h1.0v1.0h-1.0zM293 347h1.0v1.0h-1.0zM293 352h1.0v1.0h-1.0zM293 353h1.0v1.0h-1.0zM294 335h1.0v1.0h-1.0zM294 343h1.0v1.0h-1.0zM294 348h1.0v1.0h-1.0zM294 349h1.0v1.0h-1.0zM295 338h1.0v1.0h-1.0zM295 342h1.0v1.0h-1.0zM295 344h1.0v1.0h-1.0zM295 345h1.0v1.0h-1.0zM295 348h1.0v1.0h-1.0zM296 329h1.0v1.0h-1.0zM296 335h1.0v1.0h-1.0zM296 341h1.0v1.0h-1.0zM296 342h1.0v1.0h-1.0zM296 344h1.0v1.0h-1.0zM296 346h1.0v1.0h-1.0zM296 347h1.0v1.0h-1.0zM297 329h1.0v1.0h-1.0zM297 336h1.0v1.0h-1.0zM297 340h1.0v1.0h-1.0zM297 343h1.0v1.0h-1.0zM297 344h1.0v1.0h-1.0zM297 347h1.0v1.0h-1.0zM298 342h1.0v1.0h-1.0zM298 345h1.0v1.0h-1.0zM299 330h1.0v1.0h-1.0zM299 341h1.0v1.0h-1.0zM299 342h1.0v1.0h-1.0zM299 343h1.0v1.0h-1.0zM299 345h1.0v1.0h-1.0zM299 351h1.0v1.0h-1.0zM299 352h1.0v1.0h-1.0zM300 328h1.0v1.0h-1.0zM300 331h1.0v1.0h-1.0zM300 334h1.0v1.0h-1.0zM300 339h1.0v1.0h-1.0zM300 340h1.0v1.0h-1.0zM300 341h1.0v1.0h-1.0zM301 340h1.0v1.0h-1.0zM301 342h1.0v1.0h-1.0zM301 347h1.0v1.0h-1.0zM301 350h1.0v1.0h-1.0zM302 344h1.0v1.0h-1.0zM302 347h1.0v1.0h-1.0zM303 332h1.0v1.0h-1.0zM303 339h1.0v1.0h-1.0zM304 338h1.0v1.0h-1.0zM304 342h1.0v1.0h-1.0zM304 346h1.0v1.0h-1.0zM305 331h1.0v1.0h-1.0zM305 338h1.0v1.0h-1.0zM305 342h1.0v1.0h-1.0zM305 345h1.0v1.0h-1.0zM306 342h1.0v1.0h-1.0zM307 346h1.0v1.0h-1.0zM308 344h1.0v1.0h-1.0zM309 339h1.0v1.0h-1.0zM309 351h1.0v1.0h-1.0zM310 336h1.0v1.0h-1.0zM310 353h1.0v1.0h-1.0zM311 339h1.0v1.0h-1.0zM311 348h1.0v1.0h-1.0zM312 335h1.0v1.0h-1.0zM312 346h1.0v1.0h-1.0zM313 340h1.0v1.0h-1.0z" fill="#000" fill-opacity="0.92"/>
<text x="337.00" y="308.50" font-family="Liberation Sans" font-size="11.6" font-weight="bold" text-anchor="end" fill="#000">28</text>
<rect x="373.20" y="298.00" width="63.80" height="63.20" fill="none" stroke="#9a9a9a" stroke-width="1"/>
<line x1="373.20" y1="298.00" x2="373.20" y2="361.20" stroke="#888" stroke-width="1.1"/>
<line x1="373.20" y1="298.00" x2="373.20" y2="361.20" stroke="#5a5a5a" stroke-width="1.1" stroke-dasharray="1.5 1"/>
<line x1="373.20" y1="361.20" x2="437.00" y2="361.20" stroke="#5a5a5a" stroke-width="1.1" stroke-dasharray="1.5 1"/>
<line x1="397.00" y1="298.00" x2="397.00" y2="361.20" stroke="#929292" stroke-width="1"/>
<line x1="373.20" y1="329.80" x2="437.00" y2="329.80" stroke="#929292" stroke-width="1"/>
<ellipse cx="367.40" cy="298.60" rx="1.5" ry="1.0" fill="#1a1a1a" transform="rotate(-15 367.40 298.60)"/>
<circle cx="369.70" cy="296.50" r="0.75" fill="#1a1a1a"/>
<line x1="368.20" y1="298.30" x2="369.40" y2="296.80" stroke="#1a1a1a" stroke-width="0.5" stroke-opacity="0.5"/>
<ellipse cx="372.90" cy="365.20" rx="1.5" ry="1.0" fill="#1a1a1a" transform="rotate(-15 372.90 365.20)"/>
<circle cx="375.20" cy="363.10" r="0.75" fill="#1a1a1a"/>
<line x1="373.70" y1="364.90" x2="374.90" y2="363.40" stroke="#1a1a1a" stroke-width="0.5" stroke-opacity="0.5"/>
<ellipse cx="367.40" cy="314.40" rx="1.5" ry="1.0" fill="#1a1a1a" transform="rotate(-15 367.40 314.40)"/>
<circle cx="369.70" cy="312.30" r="0.75" fill="#1a1a1a"/>
<line x1="368.20" y1="314.10" x2="369.40" y2="312.60" stroke="#1a1a1a" stroke-width="0.5" stroke-opacity="0.5"/>
<ellipse cx="388.85" cy="365.20" rx="1.5" ry="1.0" fill="#1a1a1a" transform="rotate(-15 388.85 365.20)"/>
<circle cx="391.15" cy="363.10" r="0.75" fill="#1a1a1a"/>
<line x1="389.65" y1="364.90" x2="390.85" y2="363.40" stroke="#1a1a1a" stroke-width="0.5" stroke-opacity="0.5"/>
<ellipse cx="367.40" cy="330.20" rx="1.5" ry="1.0" fill="#1a1a1a" transform="rotate(-15 367.40 330.20)"/>
<circle cx="369.70" cy="328.10" r="0.75" fill="#1a1a1a"/>
<line x1="368.20" y1="329.90" x2="369.40" y2="328.40" stroke="#1a1a1a" stroke-width="0.5" stroke-opacity="0.5"/>
<ellipse cx="404.80" cy="365.20" rx="1.5" ry="1.0" fill="#1a1a1a" transform="rotate(-15 404.80 365.20)"/>
<circle cx="407.10" cy="363.10" r="0.75" fill="#1a1a1a"/>
<line x1="405.60" y1="364.90" x2="406.80" y2="363.40" stroke="#1a1a1a" stroke-width="0.5" stroke-opacity="0.5"/>
<ellipse cx="367.40" cy="346.00" rx="1.5" ry="1.0" fill="#1a1a1a" transform="rotate(-15 367.40 346.00)"/>
<circle cx="369.70" cy="343.90" r="0.75" fill="#1a1a1a"/>
<line x1="368.20" y1="345.70" x2="369.40" y2="344.20" stroke="#1a1a1a" stroke-width="0.5" stroke-opacity="0.5"/>
<ellipse cx="420.75" cy="365.20" rx="1.5" ry="1.0" fill="#1a1a1a" transform="rotate(-15 420.75 365.20)"/>
<circle cx="423.05" cy="363.10" r="0.75" fill="#1a1a1a"/>
<line x1="421.55" y1="364.90" x2="422.75" y2="363.40" stroke="#1a1a1a" stroke-width="0.5" stroke-opacity="0.5"/>
<ellipse cx="367.40" cy="361.80" rx="1.5" ry="1.0" fill="#1a1a1a" transform="rotate(-15 367.40 361.80)"/>
<circle cx="369.70" cy="359.70" r="0.75" fill="#1a1a1a"/>
<line x1="368.20" y1="361.50" x2="369.40" y2="360.00" stroke="#1a1a1a" stroke-width="0.5" stroke-opacity="0.5"/>
<ellipse cx="436.70" cy="365.20" rx="1.5" ry="1.0" fill="#1a1a1a" transform="rotate(-15 436.70 365.20)"/>
<circle cx="439.00" cy="363.10" r="0.75" fill="#1a1a1a"/>
<line x1="437.50" y1="364.90" x2="438.70" y2="363.40" stroke="#1a1a1a" stroke-width="0.5" stroke-opacity="0.5"/>
<path d="M377 320h1.0v1.0h-1.0zM377 321h1.0v1.0h-1.0zM378 312h1.0v1.0h-1.0zM378 318h1.0v1.0h-1.0zM378 319h1.0v1.0h-1.0zM379 317h1.0v1.0h-1.0zM379 318h1.0v1.0h-1.0zM380 315h1.0v1.0h-1.0zM380 318h1.0v1.0h-1.0zM380 321h1.0v1.0h-1.0zM381 316h1.0v1.0h-1.0zM381 318h1.0v1.0h-1.0zM381 319h1.0v1.0h-1.0zM381 320h1.0v1.0h-1.0zM381 321h1.0v1.0h-1.0zM381 323h1.0v1.0h-1.0zM382 315h1.0v1.0h-1.0zM382 316h1.0v1.0h-1.0zM382 317h1.0v1.0h-1.0zM382 320h1.0v1.0h-1.0zM382 323h1.0v1.0h-1.0zM382 324h1.0v1.0h-1.0zM383 318h1.0v1.0h-1.0zM383 319h1.0v1.0h-1.0zM383 320h1.0v1.0h-1.0zM383 321h1.0v1.0h-1.0zM383 322h1.0v1.0h-1.0zM384 312h1.0v1.0h-1.0zM384 318h1.0v1.0h-1.0zM384 319h1.0v1.0h-1.0zM384 320h1.0v1.0h-1.0zM384 321h1.0v1.0h-1.0zM384 322h1.0v1.0h-1.0zM384 323h1.0v1.0h-1.0zM385 313h1.0v1.0h-1.0zM385 315h1.0v1.0h-1.0zM385 316h1.0v1.0h-1.0zM385 317h1.0v1.0h-1.0zM385 318h1.0v1.0h-1.0zM385 319h1.0v1.0h-1.0zM385 320h1.0v1.0h-1.0zM385 321h1.0v1.0h-1.0zM385 322h1.0v1.0h-1.0zM386 312h1.0v1.0h-1.0zM386 314h1.0v1.0h-1.0zM386 315h1.0v1.0h-1.0zM386 316h1.0v1.0h-1.0zM386 317h1.0v1.0h-1.0zM386 318h1.0v1.0h-1.0zM386 319h1.0v1.0h-1.0zM386 320h1.0v1.0h-1.0zM386 323h1.0v1.0h-1.0zM387 314h1.0v1.0h-1.0zM387 317h1.0v1.0h-1.0zM387 318h1.0v1.0h-1.0zM387 319h1.0v1.0h-1.0zM387 320h1.0v1.0h-1.0zM387 321h1.0v1.0h-1.0zM387 323h1.0v1.0h-1.0zM388 313h1.0v1.0h-1.0zM388 316h1.0v1.0h-1.0zM388 317h1.0v1.0h-1.0zM388 318h1.0v1.0h-1.0zM388 319h1.0v1.0h-1.0zM388 320h1.0v1.0h-1.0zM388 321h1.0v1.0h-1.0zM388 323h1.0v1.0h-1.0zM388 324h1.0v1.0h-1.0zM389 313h1.0v1.0h-1.0zM389 315h1.0v1.0h-1.0zM389 316h1.0v1.0h-1.0zM389 317h1.0v1.0h-1.0zM389 318h1.0v1.0h-1.0zM389 319h1.0v1.0h-1.0zM389 320h1.0v1.0h-1.0zM389 321h1.0v1.0h-1.0zM389 322h1.0v1.0h-1.0zM390 312h1.0v1.0h-1.0zM390 319h1.0v1.0h-1.0zM390 320h1.0v1.0h-1.0zM390 321h1.0v1.0h-1.0zM390 322h1.0v1.0h-1.0zM391 311h1.0v1.0h-1.0zM391 315h1.0v1.0h-1.0zM391 316h1.0v1.0h-1.0zM391 317h1.0v1.0h-1.0zM391 318h1.0v1.0h-1.0zM391 319h1.0v1.0h-1.0zM391 320h1.0v1.0h-1.0zM391 325h1.0v1.0h-1.0zM392 314h1.0v1.0h-1.0zM392 316h1.0v1.0h-1.0zM392 317h1.0v1.0h-1.0zM392 318h1.0v1.0h-1.0zM392 319h1.0v1.0h-1.0zM392 323h1.0v1.0h-1.0zM393 316h1.0v1.0h-1.0zM393 317h1.0v1.0h-1.0zM393 321h1.0v1.0h-1.0zM393 323h1.0v1.0h-1.0zM393 324h1.0v1.0h-1.0zM394 315h1.0v1.0h-1.0zM394 319h1.0v1.0h-1.0zM394 320h1.0v1.0h-1.0zM395 315h1.0v1.0h-1.0zM395 320h1.0v1.0h-1.0zM396 313h1.0v1.0h-1.0zM396 322h1.0v1.0h-1.0z" fill="#111" fill-opacity="0.8"/>
<path d="M375 328h1.0v1.0h-1.0zM376 322h1.0v1.0h-1.0zM377 317h1.0v1.0h-1.0zM378 310h1.0v1.0h-1.0zM378 323h1.0v1.0h-1.0zM379 324h1.0v1.0h-1.0zM380 317h1.0v1.0h-1.0zM380 321h1.0v1.0h-1.0zM380 325h1.0v1.0h-1.0zM381 320h1.0v1.0h-1.0zM381 326h1.0v1.0h-1.0zM382 317h1.0v1.0h-1.0zM382 321h1.0v1.0h-1.0zM382 322h1.0v1.0h-1.0zM382 323h1.0v1.0h-1.0zM383 314h1.0v1.0h-1.0zM384 317h1.0v1.0h-1.0zM384 321h1.0v1.0h-1.0zM385 312h1.0v1.0h-1.0zM385 319h1.0v1.0h-1.0zM385 322h1.0v1.0h-1.0zM385 325h1.0v1.0h-1.0zM386 320h1.0v1.0h-1.0zM387 315h1.0v1.0h-1.0zM387 320h1.0v1.0h-1.0zM387 322h1.0v1.0h-1.0zM388 312h1.0v1.0h-1.0zM388 319h1.0v1.0h-1.0zM388 321h1.0v1.0h-1.0zM389 324h1.0v1.0h-1.0zM391 316h1.0v1.0h-1.0zM392 317h1.0v1.0h-1.0zM392 321h1.0v1.0h-1.0zM392 326h1.0v1.0h-1.0zM393 315h1.0v1.0h-1.0zM394 315h1.0v1.0h-1.0zM395 317h1.0v1.0h-1.0zM395 319h1.0v1.0h-1.0zM396 320h1.0v1.0h-1.0zM397 317h1.0v1.0h-1.0zM397 324h1.0v1.0h-1.0zM399 317h1.0v1.0h-1.0zM405 317h1.0v1.0h-1.0z" fill="#111" fill-opacity="0.8"/>
<text x="434.10" y="310.40" font-family="Liberation Sans" font-size="11.0" font-weight="bold" text-anchor="end" fill="#000">2</text>
<rect x="276.20" y="369.40" width="63.80" height="63.20" fill="none" stroke="#9a9a9a" stroke-width="1"/>
<line x1="276.20" y1="369.40" x2="276.20" y2="432.60" stroke="#888" stroke-width="1.1"/>
<line x1="276.20" y1="369.40" x2="276.20" y2="432.60" stroke="#5a5a5a" stroke-width="1.1" stroke-dasharray="1.5 1"/>
<line x1="276.20" y1="432.60" x2="340.00" y2="432.60" stroke="#5a5a5a" stroke-width="1.1" stroke-dasharray="1.5 1"/>
<line x1="299.50" y1="369.40" x2="299.50" y2="432.60" stroke="#929292" stroke-width="1"/>
<line x1="276.20" y1="416.60" x2="340.00" y2="416.60" stroke="#929292" stroke-width="1"/>
<ellipse cx="270.40" cy="370.00" rx="1.5" ry="1.0" fill="#1a1a1a" transform="rotate(-15 270.40 370.00)"/>
<circle cx="272.70" cy="367.90" r="0.75" fill="#1a1a1a"/>
<line x1="271.20" y1="369.70" x2="272.40" y2="368.20" stroke="#1a1a1a" stroke-width="0.5" stroke-opacity="0.5"/>
<ellipse cx="275.90" cy="436.60" rx="1.5" ry="1.0" fill="#1a1a1a" transform="rotate(-15 275.90 436.60)"/>
<circle cx="278.20" cy="434.50" r="0.75" fill="#1a1a1a"/>
<line x1="276.70" y1="436.30" x2="277.90" y2="434.80" stroke="#1a1a1a" stroke-width="0.5" stroke-opacity="0.5"/>
<ellipse cx="270.40" cy="385.80" rx="1.5" ry="1.0" fill="#1a1a1a" transform="rotate(-15 270.40 385.80)"/>
<circle cx="272.70" cy="383.70" r="0.75" fill="#1a1a1a"/>
<line x1="271.20" y1="385.50" x2="272.40" y2="384.00" stroke="#1a1a1a" stroke-width="0.5" stroke-opacity="0.5"/>
<ellipse cx="291.85" cy="436.60" rx="1.5" ry="1.0" fill="#1a1a1a" transform="rotate(-15 291.85 436.60)"/>
<circle cx="294.15" cy="434.50" r="0.75" fill="#1a1a1a"/>
<line x1="292.65" y1="436.30" x2="293.85" y2="434.80" stroke="#1a1a1a" stroke-width="0.5" stroke-opacity="0.5"/>
<ellipse cx="270.40" cy="401.60" rx="1.5" ry="1.0" fill="#1a1a1a" transform="rotate(-15 270.40 401.60)"/>
<circle cx="272.70" cy="399.50" r="0.75" fill="#1a1a1a"/>
<line x1="271.20" y1="401.30" x2="272.40" y2="399.80" stroke="#1a1a1a" stroke-width="0.5" stroke-opacity="0.5"/>
<ellipse cx="307.80" cy="436.60" rx="1.5" ry="1.0" fill="#1a1a1a" transform="rotate(-15 307.80 436.60)"/>
<circle cx="310.10" cy="434.50" r="0.75" fill="#1a1a1a"/>
<line x1="308.60" y1="436.30" x2="309.80" y2="434.80" stroke="#1a1a1a" stroke-width="0.5" stroke-opacity="0.5"/>
<ellipse cx="270.40" cy="417.40" rx="1.5" ry="1.0" fill="#1a1a1a" transform="rotate(-15 270.40 417.40)"/>
<circle cx="272.70" cy="415.30" r="0.75" fill="#1a1a1a"/>
<line x1="271.20" y1="417.10" x2="272.40" y2="415.60" stroke="#1a1a1a" stroke-width="0.5" stroke-opacity="0.5"/>
<ellipse cx="323.75" cy="436.60" rx="1.5" ry="1.0" fill="#1a1a1a" transform="rotate(-15 323.75 436.60)"/>
<circle cx="326.05" cy="434.50" r="0.75" fill="#1a1a1a"/>
<line x1="324.55" y1="436.30" x2="325.75" y2="434.80" stroke="#1a1a1a" stroke-width="0.5" stroke-opacity="0.5"/>
<ellipse cx="270.40" cy="433.20" rx="1.5" ry="1.0" fill="#1a1a1a" transform="rotate(-15 270.40 433.20)"/>
<circle cx="272.70" cy="431.10" r="0.75" fill="#1a1a1a"/>
<line x1="271.20" y1="432.90" x2="272.40" y2="431.40" stroke="#1a1a1a" stroke-width="0.5" stroke-opacity="0.5"/>
<ellipse cx="339.70" cy="436.60" rx="1.5" ry="1.0" fill="#1a1a1a" transform="rotate(-15 339.70 436.60)"/>
<circle cx="342.00" cy="434.50" r="0.75" fill="#1a1a1a"/>
<line x1="340.50" y1="436.30" x2="341.70" y2="434.80" stroke="#1a1a1a" stroke-width="0.5" stroke-opacity="0.5"/>
<path d="M290 410h1.0v1.0h-1.0zM290 413h1.0v1.0h-1.0zM292 403h1.0v1.0h-1.0zM292 407h1.0v1.0h-1.0zM294 404h1.0v1.0h-1.0zM294 408h1.0v1.0h-1.0zM294 410h1.0v1.0h-1.0zM294 411h1.0v1.0h-1.0zM294 412h1.0v1.0h-1.0zM294 413h1.0v1.0h-1.0zM294 414h1.0v1.0h-1.0zM295 406h1.0v1.0h-1.0zM295 408h1.0v1.0h-1.0zM295 410h1.0v1.0h-1.0zM295 411h1.0v1.0h-1.0zM296 404h1.0v1.0h-1.0zM296 405h1.0v1.0h-1.0zM296 406h1.0v1.0h-1.0zM296 409h1.0v1.0h-1.0zM296 410h1.0v1.0h-1.0zM296 411h1.0v1.0h-1.0zM296 414h1.0v1.0h-1.0zM296 415h1.0v1.0h-1.0zM297 396h1.0v1.0h-1.0zM297 399h1.0v1.0h-1.0zM297 403h1.0v1.0h-1.0zM297 405h1.0v1.0h-1.0zM297 406h1.0v1.0h-1.0zM297 408h1.0v1.0h-1.0zM297 409h1.0v1.0h-1.0zM297 410h1.0v1.0h-1.0zM297 412h1.0v1.0h-1.0zM297 413h1.0v1.0h-1.0zM297 414h1.0v1.0h-1.0zM297 415h1.0v1.0h-1.0zM297 416h1.0v1.0h-1.0zM298 402h1.0v1.0h-1.0zM298 403h1.0v1.0h-1.0zM298 404h1.0v1.0h-1.0zM298 405h1.0v1.0h-1.0zM298 406h1.0v1.0h-1.0zM298 407h1.0v1.0h-1.0zM298 408h1.0v1.0h-1.0zM298 409h1.0v1.0h-1.0zM298 410h1.0v1.0h-1.0zM298 411h1.0v1.0h-1.0zM298 412h1.0v1.0h-1.0zM298 413h1.0v1.0h-1.0zM298 414h1.0v1.0h-1.0zM298 418h1.0v1.0h-1.0zM299 400h1.0v1.0h-1.0zM299 401h1.0v1.0h-1.0zM299 403h1.0v1.0h-1.0zM299 404h1.0v1.0h-1.0zM299 405h1.0v1.0h-1.0zM299 406h1.0v1.0h-1.0zM299 407h1.0v1.0h-1.0zM299 408h1.0v1.0h-1.0zM299 410h1.0v1.0h-1.0zM299 411h1.0v1.0h-1.0zM299 412h1.0v1.0h-1.0zM299 413h1.0v1.0h-1.0zM299 415h1.0v1.0h-1.0zM299 418h1.0v1.0h-1.0zM300 400h1.0v1.0h-1.0zM300 401h1.0v1.0h-1.0zM300 402h1.0v1.0h-1.0zM300 403h1.0v1.0h-1.0zM300 404h1.0v1.0h-1.0zM300 405h1.0v1.0h-1.0zM300 406h1.0v1.0h-1.0zM300 407h1.0v1.0h-1.0zM300 408h1.0v1.0h-1.0zM300 409h1.0v1.0h-1.0zM300 410h1.0v1.0h-1.0zM300 411h1.0v1.0h-1.0zM300 412h1.0v1.0h-1.0zM300 413h1.0v1.0h-1.0zM300 414h1.0v1.0h-1.0zM300 419h1.0v1.0h-1.0zM301 402h1.0v1.0h-1.0zM301 403h1.0v1.0h-1.0zM301 404h1.0v1.0h-1.0zM301 405h1.0v1.0h-1.0zM301 406h1.0v1.0h-1.0zM301 407h1.0v1.0h-1.0zM301 409h1.0v1.0h-1.0zM301 410h1.0v1.0h-1.0zM301 411h1.0v1.0h-1.0zM301 412h1.0v1.0h-1.0zM301 413h1.0v1.0h-1.0zM301 414h1.0v1.0h-1.0zM301 417h1.0v1.0h-1.0zM302 400h1.0v1.0h-1.0zM302 402h1.0v1.0h-1.0zM302 403h1.0v1.0h-1.0zM302 405h1.0v1.0h-1.0zM302 406h1.0v1.0h-1.0zM302 407h1.0v1.0h-1.0zM302 408h1.0v1.0h-1.0zM302 409h1.0v1.0h-1.0zM302 410h1.0v1.0h-1.0zM302 412h1.0v1.0h-1.0zM302 413h1.0v1.0h-1.0zM302 415h1.0v1.0h-1.0zM302 416h1.0v1.0h-1.0zM303 402h1.0v1.0h-1.0zM303 403h1.0v1.0h-1.0zM303 404h1.0v1.0h-1.0zM303 405h1.0v1.0h-1.0zM303 406h1.0v1.0h-1.0zM303 407h1.0v1.0h-1.0zM303 408h1.0v1.0h-1.0zM303 409h1.0v1.0h-1.0zM303 410h1.0v1.0h-1.0zM303 411h1.0v1.0h-1.0zM303 412h1.0v1.0h-1.0zM303 413h1.0v1.0h-1.0zM303 414h1.0v1.0h-1.0zM303 415h1.0v1.0h-1.0zM303 416h1.0v1.0h-1.0zM303 417h1.0v1.0h-1.0zM303 419h1.0v1.0h-1.0zM304 400h1.0v1.0h-1.0zM304 402h1.0v1.0h-1.0zM304 403h1.0v1.0h-1.0zM304 404h1.0v1.0h-1.0zM304 405h1.0v1.0h-1.0zM304 406h1.0v1.0h-1.0zM304 407h1.0v1.0h-1.0zM304 408h1.0v1.0h-1.0zM304 409h1.0v1.0h-1.0zM304 410h1.0v1.0h-1.0zM304 411h1.0v1.0h-1.0zM304 412h1.0v1.0h-1.0zM304 413h1.0v1.0h-1.0zM304 414h1.0v1.0h-1.0zM304 416h1.0v1.0h-1.0zM305 401h1.0v1.0h-1.0zM305 402h1.0v1.0h-1.0zM305 404h1.0v1.0h-1.0zM305 405h1.0v1.0h-1.0zM305 406h1.0v1.0h-1.0zM305 407h1.0v1.0h-1.0zM305 408h1.0v1.0h-1.0zM305 409h1.0v1.0h-1.0zM305 410h1.0v1.0h-1.0zM305 411h1.0v1.0h-1.0zM305 412h1.0v1.0h-1.0zM305 413h1.0v1.0h-1.0zM305 414h1.0v1.0h-1.0zM305 415h1.0v1.0h-1.0zM305 416h1.0v1.0h-1.0zM306 403h1.0v1.0h-1.0zM306 404h1.0v1.0h-1.0zM306 405h1.0v1.0h-1.0zM306 406h1.0v1.0h-1.0zM306 407h1.0v1.0h-1.0zM306 408h1.0v1.0h-1.0zM306 409h1.0v1.0h-1.0zM306 410h1.0v1.0h-1.0zM306 411h1.0v1.0h-1.0zM306 412h1.0v1.0h-1.0zM306 413h1.0v1.0h-1.0zM306 415h1.0v1.0h-1.0zM306 417h1.0v1.0h-1.0zM307 403h1.0v1.0h-1.0zM307 404h1.0v1.0h-1.0zM307 405h1.0v1.0h-1.0zM307 406h1.0v1.0h-1.0zM307 407h1.0v1.0h-1.0zM307 408h1.0v1.0h-1.0zM307 409h1.0v1.0h-1.0zM307 410h1.0v1.0h-1.0zM307 411h1.0v1.0h-1.0zM307 412h1.0v1.0h-1.0zM307 413h1.0v1.0h-1.0zM307 415h1.0v1.0h-1.0zM308 398h1.0v1.0h-1.0zM308 401h1.0v1.0h-1.0zM308 405h1.0v1.0h-1.0zM308 406h1.0v1.0h-1.0zM308 407h1.0v1.0h-1.0zM308 408h1.0v1.0h-1.0zM308 410h1.0v1.0h-1.0zM308 411h1.0v1.0h-1.0zM308 412h1.0v1.0h-1.0zM309 404h1.0v1.0h-1.0zM309 406h1.0v1.0h-1.0zM309 407h1.0v1.0h-1.0zM309 408h1.0v1.0h-1.0zM309 409h1.0v1.0h-1.0zM309 410h1.0v1.0h-1.0zM309 413h1.0v1.0h-1.0zM309 414h1.0v1.0h-1.0zM310 403h1.0v1.0h-1.0zM310 405h1.0v1.0h-1.0zM310 407h1.0v1.0h-1.0zM310 408h1.0v1.0h-1.0zM310 409h1.0v1.0h-1.0zM310 410h1.0v1.0h-1.0zM310 412h1.0v1.0h-1.0zM310 413h1.0v1.0h-1.0zM311 405h1.0v1.0h-1.0zM311 409h1.0v1.0h-1.0zM311 413h1.0v1.0h-1.0zM311 414h1.0v1.0h-1.0zM312 406h1.0v1.0h-1.0zM312 407h1.0v1.0h-1.0zM312 409h1.0v1.0h-1.0zM312 412h1.0v1.0h-1.0zM312 416h1.0v1.0h-1.0zM313 404h1.0v1.0h-1.0zM314 405h1.0v1.0h-1.0zM316 404h1.0v1.0h-1.0zM317 403h1.0v1.0h-1.0z" fill="#000" fill-opacity="0.92"/>
<path d="M279 421h1.0v1.0h-1.0zM282 408h1.0v1.0h-1.0zM282 416h1.0v1.0h-1.0zM282 418h1.0v1.0h-1.0zM282 419h1.0v1.0h-1.0zM283 403h1.0v1.0h-1.0zM283 406h1.0v1.0h-1.0zM283 411h1.0v1.0h-1.0zM283 414h1.0v1.0h-1.0zM285 410h1.0v1.0h-1.0zM286 414h1.0v1.0h-1.0zM287 401h1.0v1.0h-1.0zM287 408h1.0v1.0h-1.0zM288 407h1.0v1.0h-1.0zM288 411h1.0v1.0h-1.0zM288 412h1.0v1.0h-1.0zM288 414h1.0v1.0h-1.0zM288 422h1.0v1.0h-1.0zM289 394h1.0v1.0h-1.0zM289 398h1.0v1.0h-1.0zM289 403h1.0v1.0h-1.0zM289 405h1.0v1.0h-1.0zM289 410h1.0v1.0h-1.0zM289 412h1.0v1.0h-1.0zM289 414h1.0v1.0h-1.0zM289 415h1.0v1.0h-1.0zM289 423h1.0v1.0h-1.0zM290 405h1.0v1.0h-1.0zM290 406h1.0v1.0h-1.0zM290 408h1.0v1.0h-1.0zM290 409h1.0v1.0h-1.0zM290 412h1.0v1.0h-1.0zM290 414h1.0v1.0h-1.0zM290 417h1.0v1.0h-1.0zM291 395h1.0v1.0h-1.0zM291 396h1.0v1.0h-1.0zM291 406h1.0v1.0h-1.0zM291 409h1.0v1.0h-1.0zM291 412h1.0v1.0h-1.0zM291 416h1.0v1.0h-1.0zM291 419h1.0v1.0h-1.0zM291 420h1.0v1.0h-1.0zM292 401h1.0v1.0h-1.0zM292 408h1.0v1.0h-1.0zM292 411h1.0v1.0h-1.0zM292 415h1.0v1.0h-1.0zM293 393h1.0v1.0h-1.0zM293 403h1.0v1.0h-1.0zM293 408h1.0v1.0h-1.0zM293 418h1.0v1.0h-1.0zM293 427h1.0v1.0h-1.0zM294 410h1.0v1.0h-1.0zM294 414h1.0v1.0h-1.0zM294 417h1.0v1.0h-1.0zM295 406h1.0v1.0h-1.0zM295 411h1.0v1.0h-1.0zM295 412h1.0v1.0h-1.0zM295 421h1.0v1.0h-1.0zM296 400h1.0v1.0h-1.0zM296 408h1.0v1.0h-1.0zM296 412h1.0v1.0h-1.0zM296 413h1.0v1.0h-1.0zM296 417h1.0v1.0h-1.0zM296 419h1.0v1.0h-1.0zM296 424h1.0v1.0h-1.0zM297 402h1.0v1.0h-1.0zM297 405h1.0v1.0h-1.0zM297 409h1.0v1.0h-1.0zM297 410h1.0v1.0h-1.0zM297 414h1.0v1.0h-1.0zM297 417h1.0v1.0h-1.0zM297 418h1.0v1.0h-1.0zM297 421h1.0v1.0h-1.0zM298 410h1.0v1.0h-1.0zM298 422h1.0v1.0h-1.0zM299 402h1.0v1.0h-1.0zM299 404h1.0v1.0h-1.0zM299 407h1.0v1.0h-1.0zM299 410h1.0v1.0h-1.0zM299 411h1.0v1.0h-1.0zM299 413h1.0v1.0h-1.0zM299 415h1.0v1.0h-1.0zM299 416h1.0v1.0h-1.0zM299 425h1.0v1.0h-1.0zM300 403h1.0v1.0h-1.0zM300 405h1.0v1.0h-1.0zM300 407h1.0v1.0h-1.0zM300 414h1.0v1.0h-1.0zM301 399h1.0v1.0h-1.0zM301 401h1.0v1.0h-1.0zM301 408h1.0v1.0h-1.0zM301 412h1.0v1.0h-1.0zM301 414h1.0v1.0h-1.0zM301 422h1.0v1.0h-1.0zM302 404h1.0v1.0h-1.0zM302 408h1.0v1.0h-1.0zM302 410h1.0v1.0h-1.0zM302 411h1.0v1.0h-1.0zM302 413h1.0v1.0h-1.0zM302 419h1.0v1.0h-1.0zM303 410h1.0v1.0h-1.0zM303 415h1.0v1.0h-1.0zM304 403h1.0v1.0h-1.0zM304 409h1.0v1.0h-1.0zM304 412h1.0v1.0h-1.0zM304 416h1.0v1.0h-1.0zM304 417h1.0v1.0h-1.0zM304 421h1.0v1.0h-1.0zM304 427h1.0v1.0h-1.0zM305 398h1.0v1.0h-1.0zM305 409h1.0v1.0h-1.0zM305 410h1.0v1.0h-1.0zM305 415h1.0v1.0h-1.0zM305 418h1.0v1.0h-1.0zM306 404h1.0v1.0h-1.0zM306 407h1.0v1.0h-1.0zM306 408h1.0v1.0h-1.0zM306 411h1.0v1.0h-1.0zM306 412h1.0v1.0h-1.0zM306 418h1.0v1.0h-1.0zM307 417h1.0v1.0h-1.0zM307 418h1.0v1.0h-1.0zM308 418h1.0v1.0h-1.0zM308 421h1.0v1.0h-1.0zM309 411h1.0v1.0h-1.0zM310 405h1.0v1.0h-1.0zM310 407h1.0v1.0h-1.0zM310 413h1.0v1.0h-1.0zM310 418h1.0v1.0h-1.0zM311 407h1.0v1.0h-1.0zM311 408h1.0v1.0h-1.0zM311 409h1.0v1.0h-1.0zM311 418h1.0v1.0h-1.0zM313 413h1.0v1.0h-1.0zM314 397h1.0v1.0h-1.0zM314 410h1.0v1.0h-1.0zM314 411h1.0v1.0h-1.0zM317 410h1.0v1.0h-1.0zM324 404h1.0v1.0h-1.0z" fill="#000" fill-opacity="0.92"/>
<text x="337.00" y="380.00" font-family="Liberation Serif" font-size="12.4" font-weight="bold" text-anchor="end" fill="#000">69</text>
<rect x="373.20" y="369.40" width="63.80" height="63.20" fill="none" stroke="#9a9a9a" stroke-width="1"/>
<line x1="373.20" y1="369.40" x2="373.20" y2="432.60" stroke="#888" stroke-width="1.1"/>
<line x1="373.20" y1="369.40" x2="373.20" y2="432.60" stroke="#5a5a5a" stroke-width="1.1" stroke-dasharray="1.5 1"/>
<line x1="373.20" y1="432.60" x2="437.00" y2="432.60" stroke="#5a5a5a" stroke-width="1.1" stroke-dasharray="1.5 1"/>
<line x1="397.00" y1="369.40" x2="397.00" y2="432.60" stroke="#929292" stroke-width="1"/>
<line x1="373.20" y1="401.20" x2="437.00" y2="401.20" stroke="#929292" stroke-width="1"/>
<ellipse cx="367.40" cy="370.00" rx="1.5" ry="1.0" fill="#1a1a1a" transform="rotate(-15 367.40 370.00)"/>
<circle cx="369.70" cy="367.90" r="0.75" fill="#1a1a1a"/>
<line x1="368.20" y1="369.70" x2="369.40" y2="368.20" stroke="#1a1a1a" stroke-width="0.5" stroke-opacity="0.5"/>
<ellipse cx="372.90" cy="436.60" rx="1.5" ry="1.0" fill="#1a1a1a" transform="rotate(-15 372.90 436.60)"/>
<circle cx="375.20" cy="434.50" r="0.75" fill="#1a1a1a"/>
<line x1="373.70" y1="436.30" x2="374.90" y2="434.80" stroke="#1a1a1a" stroke-width="0.5" stroke-opacity="0.5"/>
<ellipse cx="367.40" cy="385.80" rx="1.5" ry="1.0" fill="#1a1a1a" transform="rotate(-15 367.40 385.80)"/>
<circle cx="369.70" cy="383.70" r="0.75" fill="#1a1a1a"/>
<line x1="368.20" y1="385.50" x2="369.40" y2="384.00" stroke="#1a1a1a" stroke-width="0.5" stroke-opacity="0.5"/>
<ellipse cx="388.85" cy="436.60" rx="1.5" ry="1.0" fill="#1a1a1a" transform="rotate(-15 388.85 436.60)"/>
<circle cx="391.15" cy="434.50" r="0.75" fill="#1a1a1a"/>
<line x1="389.65" y1="436.30" x2="390.85" y2="434.80" stroke="#1a1a1a" stroke-width="0.5" stroke-opacity="0.5"/>
<ellipse cx="367.40" cy="401.60" rx="1.5" ry="1.0" fill="#1a1a1a" transform="rotate(-15 367.40 401.60)"/>
<circle cx="369.70" cy="399.50" r="0.75" fill="#1a1a1a"/>
<line x1="368.20" y1="401.30" x2="369.40" y2="399.80" stroke="#1a1a1a" stroke-width="0.5" stroke-opacity="0.5"/>
<ellipse cx="404.80" cy="436.60" rx="1.5" ry="1.0" fill="#1a1a1a" transform="rotate(-15 404.80 436.60)"/>
<circle cx="407.10" cy="434.50" r="0.75" fill="#1a1a1a"/>
<line x1="405.60" y1="436.30" x2="406.80" y2="434.80" stroke="#1a1a1a" stroke-width="0.5" stroke-opacity="0.5"/>
<ellipse cx="367.40" cy="417.40" rx="1.5" ry="1.0" fill="#1a1a1a" transform="rotate(-15 367.40 417.40)"/>
<circle cx="369.70" cy="415.30" r="0.75" fill="#1a1a1a"/>
<line x1="368.20" y1="417.10" x2="369.40" y2="415.60" stroke="#1a1a1a" stroke-width="0.5" stroke-opacity="0.5"/>
<ellipse cx="420.75" cy="436.60" rx="1.5" ry="1.0" fill="#1a1a1a" transform="rotate(-15 420.75 436.60)"/>
<circle cx="423.05" cy="434.50" r="0.75" fill="#1a1a1a"/>
<line x1="421.55" y1="436.30" x2="422.75" y2="434.80" stroke="#1a1a1a" stroke-width="0.5" stroke-opacity="0.5"/>
<ellipse cx="367.40" cy="433.20" rx="1.5" ry="1.0" fill="#1a1a1a" transform="rotate(-15 367.40 433.20)"/>
<circle cx="369.70" cy="431.10" r="0.75" fill="#1a1a1a"/>
<line x1="368.20" y1="432.90" x2="369.40" y2="431.40" stroke="#1a1a1a" stroke-width="0.5" stroke-opacity="0.5"/>
<ellipse cx="436.70" cy="436.60" rx="1.5" ry="1.0" fill="#1a1a1a" transform="rotate(-15 436.70 436.60)"/>
<circle cx="439.00" cy="434.50" r="0.75" fill="#1a1a1a"/>
<line x1="437.50" y1="436.30" x2="438.70" y2="434.80" stroke="#1a1a1a" stroke-width="0.5" stroke-opacity="0.5"/>
<path d="M377 392h1.0v1.0h-1.0zM378 390h1.0v1.0h-1.0zM379 387h1.0v1.0h-1.0zM379 392h1.0v1.0h-1.0zM380 388h1.0v1.0h-1.0zM380 390h1.0v1.0h-1.0zM380 394h1.0v1.0h-1.0zM381 389h1.0v1.0h-1.0zM381 391h1.0v1.0h-1.0zM381 393h1.0v1.0h-1.0zM382 386h1.0v1.0h-1.0zM382 389h1.0v1.0h-1.0zM382 391h1.0v1.0h-1.0zM382 395h1.0v1.0h-1.0zM383 385h1.0v1.0h-1.0zM383 388h1.0v1.0h-1.0zM383 389h1.0v1.0h-1.0zM383 390h1.0v1.0h-1.0zM383 391h1.0v1.0h-1.0zM383 392h1.0v1.0h-1.0zM383 393h1.0v1.0h-1.0zM384 385h1.0v1.0h-1.0zM384 386h1.0v1.0h-1.0zM384 388h1.0v1.0h-1.0zM384 389h1.0v1.0h-1.0zM384 390h1.0v1.0h-1.0zM384 391h1.0v1.0h-1.0zM384 392h1.0v1.0h-1.0zM384 393h1.0v1.0h-1.0zM385 385h1.0v1.0h-1.0zM385 386h1.0v1.0h-1.0zM385 388h1.0v1.0h-1.0zM385 390h1.0v1.0h-1.0zM385 391h1.0v1.0h-1.0zM385 392h1.0v1.0h-1.0zM385 393h1.0v1.0h-1.0zM385 394h1.0v1.0h-1.0zM386 384h1.0v1.0h-1.0zM386 386h1.0v1.0h-1.0zM386 387h1.0v1.0h-1.0zM386 388h1.0v1.0h-1.0zM386 389h1.0v1.0h-1.0zM386 390h1.0v1.0h-1.0zM386 391h1.0v1.0h-1.0zM386 392h1.0v1.0h-1.0zM386 393h1.0v1.0h-1.0zM386 394h1.0v1.0h-1.0zM386 395h1.0v1.0h-1.0zM387 385h1.0v1.0h-1.0zM387 386h1.0v1.0h-1.0zM387 387h1.0v1.0h-1.0zM387 388h1.0v1.0h-1.0zM387 389h1.0v1.0h-1.0zM387 390h1.0v1.0h-1.0zM387 391h1.0v1.0h-1.0zM387 394h1.0v1.0h-1.0zM387 395h1.0v1.0h-1.0zM388 384h1.0v1.0h-1.0zM388 386h1.0v1.0h-1.0zM388 387h1.0v1.0h-1.0zM388 388h1.0v1.0h-1.0zM388 389h1.0v1.0h-1.0zM388 390h1.0v1.0h-1.0zM388 391h1.0v1.0h-1.0zM388 394h1.0v1.0h-1.0zM388 396h1.0v1.0h-1.0zM389 388h1.0v1.0h-1.0zM389 389h1.0v1.0h-1.0zM389 390h1.0v1.0h-1.0zM389 391h1.0v1.0h-1.0zM389 392h1.0v1.0h-1.0zM389 393h1.0v1.0h-1.0zM389 394h1.0v1.0h-1.0zM390 385h1.0v1.0h-1.0zM390 387h1.0v1.0h-1.0zM390 388h1.0v1.0h-1.0zM390 389h1.0v1.0h-1.0zM390 390h1.0v1.0h-1.0zM390 392h1.0v1.0h-1.0zM390 394h1.0v1.0h-1.0zM391 385h1.0v1.0h-1.0zM391 386h1.0v1.0h-1.0zM391 388h1.0v1.0h-1.0zM391 390h1.0v1.0h-1.0zM391 391h1.0v1.0h-1.0zM391 392h1.0v1.0h-1.0zM391 393h1.0v1.0h-1.0zM391 394h1.0v1.0h-1.0zM391 395h1.0v1.0h-1.0zM392 388h1.0v1.0h-1.0zM392 389h1.0v1.0h-1.0zM392 392h1.0v1.0h-1.0zM393 391h1.0v1.0h-1.0zM394 387h1.0v1.0h-1.0zM394 390h1.0v1.0h-1.0zM396 388h1.0v1.0h-1.0z" fill="#111" fill-opacity="0.8"/>
<path d="M373 397h1.0v1.0h-1.0zM375 392h1.0v1.0h-1.0zM376 386h1.0v1.0h-1.0zM377 385h1.0v1.0h-1.0zM377 391h1.0v1.0h-1.0zM377 394h1.0v1.0h-1.0zM377 395h1.0v1.0h-1.0zM377 399h1.0v1.0h-1.0zM380 391h1.0v1.0h-1.0zM382 390h1.0v1.0h-1.0zM382 396h1.0v1.0h-1.0zM383 384h1.0v1.0h-1.0zM383 387h1.0v1.0h-1.0zM383 389h1.0v1.0h-1.0zM383 395h1.0v1.0h-1.0zM385 390h1.0v1.0h-1.0zM385 391h1.0v1.0h-1.0zM386 386h1.0v1.0h-1.0zM386 389h1.0v1.0h-1.0zM386 395h1.0v1.0h-1.0zM387 384h1.0v1.0h-1.0zM388 384h1.0v1.0h-1.0zM388 387h1.0v1.0h-1.0zM388 390h1.0v1.0h-1.0zM388 392h1.0v1.0h-1.0zM388 393h1.0v1.0h-1.0zM388 396h1.0v1.0h-1.0zM389 389h1.0v1.0h-1.0zM389 391h1.0v1.0h-1.0zM389 396h1.0v1.0h-1.0zM390 389h1.0v1.0h-1.0zM390 391h1.0v1.0h-1.0zM391 389h1.0v1.0h-1.0zM392 391h1.0v1.0h-1.0zM394 396h1.0v1.0h-1.0zM394 397h1.0v1.0h-1.0zM395 390h1.0v1.0h-1.0zM395 392h1.0v1.0h-1.0zM396 394h1.0v1.0h-1.0zM397 387h1.0v1.0h-1.0zM399 393h1.0v1.0h-1.0zM400 389h1.0v1.0h-1.0z" fill="#111" fill-opacity="0.8"/>
<text x="434.10" y="381.80" font-family="Liberation Sans" font-size="11.0" font-weight="bold" text-anchor="end" fill="#000">1</text>
<rect x="276.20" y="441.60" width="63.80" height="63.20" fill="none" stroke="#9a9a9a" stroke-width="1"/>
<line x1="276.20" y1="441.60" x2="276.20" y2="504.80" stroke="#888" stroke-width="1.1"/>
<line x1="276.20" y1="441.60" x2="276.20" y2="504.80" stroke="#5a5a5a" stroke-width="1.1" stroke-dasharray="1.5 1"/>
<line x1="276.20" y1="504.80" x2="340.00" y2="504.80" stroke="#5a5a5a" stroke-width="1.1" stroke-dasharray="1.5 1"/>
<line x1="299.50" y1="441.60" x2="299.50" y2="504.80" stroke="#929292" stroke-width="1"/>
<line x1="276.20" y1="488.80" x2="340.00" y2="488.80" stroke="#929292" stroke-width="1"/>
<ellipse cx="270.40" cy="442.20" rx="1.5" ry="1.0" fill="#1a1a1a" transform="rotate(-15 270.40 442.20)"/>
<circle cx="272.70" cy="440.10" r="0.75" fill="#1a1a1a"/>
<line x1="271.20" y1="441.90" x2="272.40" y2="440.40" stroke="#1a1a1a" stroke-width="0.5" stroke-opacity="0.5"/>
<ellipse cx="275.90" cy="508.80" rx="1.5" ry="1.0" fill="#1a1a1a" transform="rotate(-15 275.90 508.80)"/>
<circle cx="278.20" cy="506.70" r="0.75" fill="#1a1a1a"/>
<line x1="276.70" y1="508.50" x2="277.90" y2="507.00" stroke="#1a1a1a" stroke-width="0.5" stroke-opacity="0.5"/>
<ellipse cx="270.40" cy="458.00" rx="1.5" ry="1.0" fill="#1a1a1a" transform="rotate(-15 270.40 458.00)"/>
<circle cx="272.70" cy="455.90" r="0.75" fill="#1a1a1a"/>
<line x1="271.20" y1="457.70" x2="272.40" y2="456.20" stroke="#1a1a1a" stroke-width="0.5" stroke-opacity="0.5"/>
<ellipse cx="291.85" cy="508.80" rx="1.5" ry="1.0" fill="#1a1a1a" transform="rotate(-15 291.85 508.80)"/>
<circle cx="294.15" cy="506.70" r="0.75" fill="#1a1a1a"/>
<line x1="292.65" y1="508.50" x2="293.85" y2="507.00" stroke="#1a1a1a" stroke-width="0.5" stroke-opacity="0.5"/>
<ellipse cx="270.40" cy="473.80" rx="1.5" ry="1.0" fill="#1a1a1a" transform="rotate(-15 270.40 473.80)"/>
<circle cx="272.70" cy="471.70" r="0.75" fill="#1a1a1a"/>
<line x1="271.20" y1="473.50" x2="272.40" y2="472.00" stroke="#1a1a1a" stroke-width="0.5" stroke-opacity="0.5"/>
<ellipse cx="307.80" cy="508.80" rx="1.5" ry="1.0" fill="#1a1a1a" transform="rotate(-15 307.80 508.80)"/>
<circle cx="310.10" cy="506.70" r="0.75" fill="#1a1a1a"/>
<line x1="308.60" y1="508.50" x2="309.80" y2="507.00" stroke="#1a1a1a" stroke-width="0.5" stroke-opacity="0.5"/>
<ellipse cx="270.40" cy="489.60" rx="1.5" ry="1.0" fill="#1a1a1a" transform="rotate(-15 270.40 489.60)"/>
<circle cx="272.70" cy="487.50" r="0.75" fill="#1a1a1a"/>
<line x1="271.20" y1="489.30" x2="272.40" y2="487.80" stroke="#1a1a1a" stroke-width="0.5" stroke-opacity="0.5"/>
<ellipse cx="323.75" cy="508.80" rx="1.5" ry="1.0" fill="#1a1a1a" transform="rotate(-15 323.75 508.80)"/>
<circle cx="326.05" cy="506.70" r="0.75" fill="#1a1a1a"/>
<line x1="324.55" y1="508.50" x2="325.75" y2="507.00" stroke="#1a1a1a" stroke-width="0.5" stroke-opacity="0.5"/>
<ellipse cx="270.40" cy="505.40" rx="1.5" ry="1.0" fill="#1a1a1a" transform="rotate(-15 270.40 505.40)"/>
<circle cx="272.70" cy="503.30" r="0.75" fill="#1a1a1a"/>
<line x1="271.20" y1="505.10" x2="272.40" y2="503.60" stroke="#1a1a1a" stroke-width="0.5" stroke-opacity="0.5"/>
<ellipse cx="339.70" cy="508.80" rx="1.5" ry="1.0" fill="#1a1a1a" transform="rotate(-15 339.70 508.80)"/>
<circle cx="342.00" cy="506.70" r="0.75" fill="#1a1a1a"/>
<line x1="340.50" y1="508.50" x2="341.70" y2="507.00" stroke="#1a1a1a" stroke-width="0.5" stroke-opacity="0.5"/>
<path d="M284 478h1.0v1.0h-1.0zM285 483h1.0v1.0h-1.0zM285 484h1.0v1.0h-1.0zM286 477h1.0v1.0h-1.0zM286 478h1.0v1.0h-1.0zM286 479h1.0v1.0h-1.0zM286 480h1.0v1.0h-1.0zM286 481h1.0v1.0h-1.0zM286 482h1.0v1.0h-1.0zM287 477h1.0v1.0h-1.0zM287 478h1.0v1.0h-1.0zM287 479h1.0v1.0h-1.0zM287 480h1.0v1.0h-1.0zM287 481h1.0v1.0h-1.0zM288 479h1.0v1.0h-1.0zM288 480h1.0v1.0h-1.0zM288 481h1.0v1.0h-1.0zM288 482h1.0v1.0h-1.0zM288 485h1.0v1.0h-1.0zM288 487h1.0v1.0h-1.0zM289 475h1.0v1.0h-1.0zM289 476h1.0v1.0h-1.0zM289 478h1.0v1.0h-1.0zM289 479h1.0v1.0h-1.0zM289 481h1.0v1.0h-1.0zM289 482h1.0v1.0h-1.0zM289 483h1.0v1.0h-1.0zM289 484h1.0v1.0h-1.0zM290 473h1.0v1.0h-1.0zM290 474h1.0v1.0h-1.0zM290 475h1.0v1.0h-1.0zM290 476h1.0v1.0h-1.0zM290 477h1.0v1.0h-1.0zM290 478h1.0v1.0h-1.0zM290 479h1.0v1.0h-1.0zM290 480h1.0v1.0h-1.0zM290 481h1.0v1.0h-1.0zM290 482h1.0v1.0h-1.0zM290 483h1.0v1.0h-1.0zM290 484h1.0v1.0h-1.0zM291 474h1.0v1.0h-1.0zM291 477h1.0v1.0h-1.0zM291 478h1.0v1.0h-1.0zM291 479h1.0v1.0h-1.0zM291 480h1.0v1.0h-1.0zM291 481h1.0v1.0h-1.0zM291 482h1.0v1.0h-1.0zM291 483h1.0v1.0h-1.0zM291 484h1.0v1.0h-1.0zM291 485h1.0v1.0h-1.0zM291 486h1.0v1.0h-1.0zM291 487h1.0v1.0h-1.0zM291 488h1.0v1.0h-1.0zM292 474h1.0v1.0h-1.0zM292 475h1.0v1.0h-1.0zM292 476h1.0v1.0h-1.0zM292 477h1.0v1.0h-1.0zM292 478h1.0v1.0h-1.0zM292 479h1.0v1.0h-1.0zM292 480h1.0v1.0h-1.0zM292 481h1.0v1.0h-1.0zM292 482h1.0v1.0h-1.0zM292 483h1.0v1.0h-1.0zM292 484h1.0v1.0h-1.0zM292 489h1.0v1.0h-1.0zM293 475h1.0v1.0h-1.0zM293 476h1.0v1.0h-1.0zM293 477h1.0v1.0h-1.0zM293 478h1.0v1.0h-1.0zM293 479h1.0v1.0h-1.0zM293 480h1.0v1.0h-1.0zM293 481h1.0v1.0h-1.0zM293 482h1.0v1.0h-1.0zM293 483h1.0v1.0h-1.0zM293 486h1.0v1.0h-1.0zM293 488h1.0v1.0h-1.0zM294 473h1.0v1.0h-1.0zM294 474h1.0v1.0h-1.0zM294 475h1.0v1.0h-1.0zM294 476h1.0v1.0h-1.0zM294 478h1.0v1.0h-1.0zM294 479h1.0v1.0h-1.0zM294 480h1.0v1.0h-1.0zM294 481h1.0v1.0h-1.0zM294 482h1.0v1.0h-1.0zM294 483h1.0v1.0h-1.0zM294 484h1.0v1.0h-1.0zM294 486h1.0v1.0h-1.0zM295 473h1.0v1.0h-1.0zM295 475h1.0v1.0h-1.0zM295 476h1.0v1.0h-1.0zM295 478h1.0v1.0h-1.0zM295 480h1.0v1.0h-1.0zM295 481h1.0v1.0h-1.0zM295 482h1.0v1.0h-1.0zM295 483h1.0v1.0h-1.0zM295 485h1.0v1.0h-1.0zM296 471h1.0v1.0h-1.0zM296 476h1.0v1.0h-1.0zM296 478h1.0v1.0h-1.0zM296 479h1.0v1.0h-1.0zM296 480h1.0v1.0h-1.0zM296 483h1.0v1.0h-1.0zM296 484h1.0v1.0h-1.0zM296 485h1.0v1.0h-1.0zM297 475h1.0v1.0h-1.0zM297 476h1.0v1.0h-1.0zM297 477h1.0v1.0h-1.0zM297 478h1.0v1.0h-1.0zM297 481h1.0v1.0h-1.0zM297 485h1.0v1.0h-1.0zM298 474h1.0v1.0h-1.0zM298 476h1.0v1.0h-1.0zM298 479h1.0v1.0h-1.0zM298 480h1.0v1.0h-1.0zM298 481h1.0v1.0h-1.0zM298 482h1.0v1.0h-1.0zM298 483h1.0v1.0h-1.0zM299 475h1.0v1.0h-1.0zM299 482h1.0v1.0h-1.0zM299 484h1.0v1.0h-1.0zM300 480h1.0v1.0h-1.0zM300 485h1.0v1.0h-1.0zM301 485h1.0v1.0h-1.0zM304 484h1.0v1.0h-1.0z" fill="#000" fill-opacity="0.92"/>
<path d="M295 479h1.0v1.0h-1.0zM295 480h1.0v1.0h-1.0zM295 485h1.0v1.0h-1.0zM296 475h1.0v1.0h-1.0zM296 477h1.0v1.0h-1.0zM296 478h1.0v1.0h-1.0zM296 490h1.0v1.0h-1.0zM297 476h1.0v1.0h-1.0zM297 481h1.0v1.0h-1.0zM297 483h1.0v1.0h-1.0zM298 477h1.0v1.0h-1.0zM298 478h1.0v1.0h-1.0zM298 479h1.0v1.0h-1.0zM298 481h1.0v1.0h-1.0zM299 474h1.0v1.0h-1.0zM299 476h1.0v1.0h-1.0zM299 477h1.0v1.0h-1.0zM299 481h1.0v1.0h-1.0zM299 482h1.0v1.0h-1.0zM299 486h1.0v1.0h-1.0zM299 489h1.0v1.0h-1.0zM300 478h1.0v1.0h-1.0zM300 479h1.0v1.0h-1.0zM300 480h1.0v1.0h-1.0zM300 481h1.0v1.0h-1.0zM300 484h1.0v1.0h-1.0zM301 474h1.0v1.0h-1.0zM301 476h1.0v1.0h-1.0zM301 478h1.0v1.0h-1.0zM301 479h1.0v1.0h-1.0zM301 480h1.0v1.0h-1.0zM301 481h1.0v1.0h-1.0zM301 482h1.0v1.0h-1.0zM301 483h1.0v1.0h-1.0zM301 484h1.0v1.0h-1.0zM301 487h1.0v1.0h-1.0zM302 476h1.0v1.0h-1.0zM302 477h1.0v1.0h-1.0zM302 478h1.0v1.0h-1.0zM302 479h1.0v1.0h-1.0zM302 480h1.0v1.0h-1.0zM302 481h1.0v1.0h-1.0zM302 483h1.0v1.0h-1.0zM302 484h1.0v1.0h-1.0zM302 486h1.0v1.0h-1.0zM302 487h1.0v1.0h-1.0zM303 473h1.0v1.0h-1.0zM303 474h1.0v1.0h-1.0zM303 476h1.0v1.0h-1.0zM303 477h1.0v1.0h-1.0zM303 478h1.0v1.0h-1.0zM303 479h1.0v1.0h-1.0zM303 480h1.0v1.0h-1.0zM303 481h1.0v1.0h-1.0zM303 482h1.0v1.0h-1.0zM303 483h1.0v1.0h-1.0zM303 484h1.0v1.0h-1.0zM303 485h1.0v1.0h-1.0zM303 489h1.0v1.0h-1.0zM304 469h1.0v1.0h-1.0zM304 474h1.0v1.0h-1.0zM304 475h1.0v1.0h-1.0zM304 476h1.0v1.0h-1.0zM304 477h1.0v1.0h-1.0zM304 478h1.0v1.0h-1.0zM304 479h1.0v1.0h-1.0zM304 480h1.0v1.0h-1.0zM304 481h1.0v1.0h-1.0zM304 482h1.0v1.0h-1.0zM304 483h1.0v1.0h-1.0zM304 484h1.0v1.0h-1.0zM304 485h1.0v1.0h-1.0zM304 486h1.0v1.0h-1.0zM304 487h1.0v1.0h-1.0zM304 489h1.0v1.0h-1.0zM305 475h1.0v1.0h-1.0zM305 476h1.0v1.0h-1.0zM305 477h1.0v1.0h-1.0zM305 478h1.0v1.0h-1.0zM305 479h1.0v1.0h-1.0zM305 480h1.0v1.0h-1.0zM305 481h1.0v1.0h-1.0zM305 482h1.0v1.0h-1.0zM305 483h1.0v1.0h-1.0zM305 484h1.0v1.0h-1.0zM305 485h1.0v1.0h-1.0zM305 486h1.0v1.0h-1.0zM305 487h1.0v1.0h-1.0zM306 472h1.0v1.0h-1.0zM306 474h1.0v1.0h-1.0zM306 476h1.0v1.0h-1.0zM306 477h1.0v1.0h-1.0zM306 479h1.0v1.0h-1.0zM306 480h1.0v1.0h-1.0zM306 481h1.0v1.0h-1.0zM306 482h1.0v1.0h-1.0zM306 483h1.0v1.0h-1.0zM306 484h1.0v1.0h-1.0zM306 486h1.0v1.0h-1.0zM306 487h1.0v1.0h-1.0zM307 474h1.0v1.0h-1.0zM307 475h1.0v1.0h-1.0zM307 476h1.0v1.0h-1.0zM307 477h1.0v1.0h-1.0zM307 478h1.0v1.0h-1.0zM307 479h1.0v1.0h-1.0zM307 480h1.0v1.0h-1.0zM307 481h1.0v1.0h-1.0zM307 482h1.0v1.0h-1.0zM307 483h1.0v1.0h-1.0zM307 484h1.0v1.0h-1.0zM307 487h1.0v1.0h-1.0zM308 474h1.0v1.0h-1.0zM308 478h1.0v1.0h-1.0zM308 479h1.0v1.0h-1.0zM308 480h1.0v1.0h-1.0zM308 482h1.0v1.0h-1.0zM308 484h1.0v1.0h-1.0zM309 474h1.0v1.0h-1.0zM309 475h1.0v1.0h-1.0zM309 477h1.0v1.0h-1.0zM309 479h1.0v1.0h-1.0zM309 480h1.0v1.0h-1.0zM309 481h1.0v1.0h-1.0zM309 482h1.0v1.0h-1.0zM309 483h1.0v1.0h-1.0zM309 484h1.0v1.0h-1.0zM309 486h1.0v1.0h-1.0zM309 487h1.0v1.0h-1.0zM309 489h1.0v1.0h-1.0zM310 471h1.0v1.0h-1.0zM310 474h1.0v1.0h-1.0zM310 476h1.0v1.0h-1.0zM310 478h1.0v1.0h-1.0zM310 479h1.0v1.0h-1.0zM310 480h1.0v1.0h-1.0zM310 482h1.0v1.0h-1.0zM310 483h1.0v1.0h-1.0zM310 484h1.0v1.0h-1.0zM310 485h1.0v1.0h-1.0zM311 476h1.0v1.0h-1.0zM311 479h1.0v1.0h-1.0zM311 480h1.0v1.0h-1.0zM312 476h1.0v1.0h-1.0zM312 477h1.0v1.0h-1.0zM312 478h1.0v1.0h-1.0zM312 480h1.0v1.0h-1.0zM312 481h1.0v1.0h-1.0zM312 483h1.0v1.0h-1.0zM313 479h1.0v1.0h-1.0zM314 478h1.0v1.0h-1.0zM314 482h1.0v1.0h-1.0zM314 485h1.0v1.0h-1.0zM318 479h1.0v1.0h-1.0z" fill="#000" fill-opacity="0.92"/>
<path d="M278 478h1.0v1.0h-1.0zM278 480h1.0v1.0h-1.0zM278 486h1.0v1.0h-1.0zM280 479h1.0v1.0h-1.0zM281 472h1.0v1.0h-1.0zM281 483h1.0v1.0h-1.0zM282 486h1.0v1.0h-1.0zM282 498h1.0v1.0h-1.0zM283 486h1.0v1.0h-1.0zM284 475h1.0v1.0h-1.0zM284 488h1.0v1.0h-1.0zM285 484h1.0v1.0h-1.0zM286 484h1.0v1.0h-1.0zM286 486h1.0v1.0h-1.0zM287 475h1.0v1.0h-1.0zM287 479h1.0v1.0h-1.0zM287 481h1.0v1.0h-1.0zM288 490h1.0v1.0h-1.0zM289 477h1.0v1.0h-1.0zM289 486h1.0v1.0h-1.0zM290 478h1.0v1.0h-1.0zM290 482h1.0v1.0h-1.0zM290 484h1.0v1.0h-1.0zM290 490h1.0v1.0h-1.0zM290 493h1.0v1.0h-1.0zM290 496h1.0v1.0h-1.0zM291 481h1.0v1.0h-1.0zM291 482h1.0v1.0h-1.0zM291 483h1.0v1.0h-1.0zM291 484h1.0v1.0h-1.0zM292 488h1.0v1.0h-1.0zM292 493h1.0v1.0h-1.0zM293 476h1.0v1.0h-1.0zM293 479h1.0v1.0h-1.0zM293 481h1.0v1.0h-1.0zM293 483h1.0v1.0h-1.0zM293 485h1.0v1.0h-1.0zM293 496h1.0v1.0h-1.0zM293 502h1.0v1.0h-1.0zM294 477h1.0v1.0h-1.0zM294 478h1.0v1.0h-1.0zM294 482h1.0v1.0h-1.0zM294 485h1.0v1.0h-1.0zM294 488h1.0v1.0h-1.0zM295 480h1.0v1.0h-1.0zM295 481h1.0v1.0h-1.0zM295 482h1.0v1.0h-1.0zM295 487h1.0v1.0h-1.0zM295 491h1.0v1.0h-1.0zM295 492h1.0v1.0h-1.0zM295 496h1.0v1.0h-1.0zM295 497h1.0v1.0h-1.0zM296 479h1.0v1.0h-1.0zM296 483h1.0v1.0h-1.0zM296 484h1.0v1.0h-1.0zM296 491h1.0v1.0h-1.0zM296 492h1.0v1.0h-1.0zM297 472h1.0v1.0h-1.0zM297 477h1.0v1.0h-1.0zM297 478h1.0v1.0h-1.0zM297 482h1.0v1.0h-1.0zM298 477h1.0v1.0h-1.0zM298 484h1.0v1.0h-1.0zM298 485h1.0v1.0h-1.0zM298 489h1.0v1.0h-1.0zM299 489h1.0v1.0h-1.0zM300 475h1.0v1.0h-1.0zM300 477h1.0v1.0h-1.0zM300 479h1.0v1.0h-1.0zM300 482h1.0v1.0h-1.0zM300 485h1.0v1.0h-1.0zM300 487h1.0v1.0h-1.0zM301 478h1.0v1.0h-1.0zM301 481h1.0v1.0h-1.0zM301 485h1.0v1.0h-1.0zM301 488h1.0v1.0h-1.0zM301 490h1.0v1.0h-1.0zM301 493h1.0v1.0h-1.0zM302 477h1.0v1.0h-1.0zM302 482h1.0v1.0h-1.0zM302 488h1.0v1.0h-1.0zM302 491h1.0v1.0h-1.0zM303 476h1.0v1.0h-1.0zM303 477h1.0v1.0h-1.0zM303 483h1.0v1.0h-1.0zM303 484h1.0v1.0h-1.0zM303 486h1.0v1.0h-1.0zM304 480h1.0v1.0h-1.0zM304 487h1.0v1.0h-1.0zM304 489h1.0v1.0h-1.0zM304 493h1.0v1.0h-1.0zM305 480h1.0v1.0h-1.0zM305 483h1.0v1.0h-1.0zM305 485h1.0v1.0h-1.0zM305 488h1.0v1.0h-1.0zM305 491h1.0v1.0h-1.0zM306 479h1.0v1.0h-1.0zM306 480h1.0v1.0h-1.0zM306 482h1.0v1.0h-1.0zM306 486h1.0v1.0h-1.0zM306 489h1.0v1.0h-1.0zM306 495h1.0v1.0h-1.0zM307 473h1.0v1.0h-1.0zM307 479h1.0v1.0h-1.0zM307 485h1.0v1.0h-1.0zM307 488h1.0v1.0h-1.0zM308 482h1.0v1.0h-1.0zM308 484h1.0v1.0h-1.0zM308 488h1.0v1.0h-1.0zM308 493h1.0v1.0h-1.0zM308 495h1.0v1.0h-1.0zM309 478h1.0v1.0h-1.0zM309 484h1.0v1.0h-1.0zM309 486h1.0v1.0h-1.0zM309 492h1.0v1.0h-1.0zM310 480h1.0v1.0h-1.0zM313 479h1.0v1.0h-1.0zM313 490h1.0v1.0h-1.0zM314 482h1.0v1.0h-1.0zM314 486h1.0v1.0h-1.0zM325 490h1.0v1.0h-1.0z" fill="#000" fill-opacity="0.92"/>
<text x="337.00" y="452.40" font-family="Liberation Serif" font-size="12.4" font-weight="bold" text-anchor="end" fill="#000">63</text>
<rect x="373.20" y="441.60" width="63.80" height="63.20" fill="none" stroke="#9a9a9a" stroke-width="1"/>
<line x1="373.20" y1="441.60" x2="373.20" y2="504.80" stroke="#888" stroke-width="1.1"/>
<line x1="373.20" y1="441.60" x2="373.20" y2="504.80" stroke="#5a5a5a" stroke-width="1.1" stroke-dasharray="1.5 1"/>
<line x1="373.20" y1="504.80" x2="437.00" y2="504.80" stroke="#5a5a5a" stroke-width="1.1" stroke-dasharray="1.5 1"/>
<line x1="397.00" y1="441.60" x2="397.00" y2="504.80" stroke="#929292" stroke-width="1"/>
<line x1="373.20" y1="473.40" x2="437.00" y2="473.40" stroke="#929292" stroke-width="1"/>
<ellipse cx="367.40" cy="442.20" rx="1.5" ry="1.0" fill="#1a1a1a" transform="rotate(-15 367.40 442.20)"/>
<circle cx="369.70" cy="440.10" r="0.75" fill="#1a1a1a"/>
<line x1="368.20" y1="441.90" x2="369.40" y2="440.40" stroke="#1a1a1a" stroke-width="0.5" stroke-opacity="0.5"/>
<ellipse cx="372.90" cy="508.80" rx="1.5" ry="1.0" fill="#1a1a1a" transform="rotate(-15 372.90 508.80)"/>
<circle cx="375.20" cy="506.70" r="0.75" fill="#1a1a1a"/>
<line x1="373.70" y1="508.50" x2="374.90" y2="507.00" stroke="#1a1a1a" stroke-width="0.5" stroke-opacity="0.5"/>
<ellipse cx="367.40" cy="458.00" rx="1.5" ry="1.0" fill="#1a1a1a" transform="rotate(-15 367.40 458.00)"/>
<circle cx="369.70" cy="455.90" r="0.75" fill="#1a1a1a"/>
<line x1="368.20" y1="457.70" x2="369.40" y2="456.20" stroke="#1a1a1a" stroke-width="0.5" stroke-opacity="0.5"/>
<ellipse cx="388.85" cy="508.80" rx="1.5" ry="1.0" fill="#1a1a1a" transform="rotate(-15 388.85 508.80)"/>
<circle cx="391.15" cy="506.70" r="0.75" fill="#1a1a1a"/>
<line x1="389.65" y1="508.50" x2="390.85" y2="507.00" stroke="#1a1a1a" stroke-width="0.5" stroke-opacity="0.5"/>
<ellipse cx="367.40" cy="473.80" rx="1.5" ry="1.0" fill="#1a1a1a" transform="rotate(-15 367.40 473.80)"/>
<circle cx="369.70" cy="471.70" r="0.75" fill="#1a1a1a"/>
<line x1="368.20" y1="473.50" x2="369.40" y2="472.00" stroke="#1a1a1a" stroke-width="0.5" stroke-opacity="0.5"/>
<ellipse cx="404.80" cy="508.80" rx="1.5" ry="1.0" fill="#1a1a1a" transform="rotate(-15 404.80 508.80)"/>
<circle cx="407.10" cy="506.70" r="0.75" fill="#1a1a1a"/>
<line x1="405.60" y1="508.50" x2="406.80" y2="507.00" stroke="#1a1a1a" stroke-width="0.5" stroke-opacity="0.5"/>
<ellipse cx="367.40" cy="489.60" rx="1.5" ry="1.0" fill="#1a1a1a" transform="rotate(-15 367.40 489.60)"/>
<circle cx="369.70" cy="487.50" r="0.75" fill="#1a1a1a"/>
<line x1="368.20" y1="489.30" x2="369.40" y2="487.80" stroke="#1a1a1a" stroke-width="0.5" stroke-opacity="0.5"/>
<ellipse cx="420.75" cy="508.80" rx="1.5" ry="1.0" fill="#1a1a1a" transform="rotate(-15 420.75 508.80)"/>
<circle cx="423.05" cy="506.70" r="0.75" fill="#1a1a1a"/>
<line x1="421.55" y1="508.50" x2="422.75" y2="507.00" stroke="#1a1a1a" stroke-width="0.5" stroke-opacity="0.5"/>
<ellipse cx="367.40" cy="505.40" rx="1.5" ry="1.0" fill="#1a1a1a" transform="rotate(-15 367.40 505.40)"/>
<circle cx="369.70" cy="503.30" r="0.75" fill="#1a1a1a"/>
<line x1="368.20" y1="505.10" x2="369.40" y2="503.60" stroke="#1a1a1a" stroke-width="0.5" stroke-opacity="0.5"/>
<ellipse cx="436.70" cy="508.80" rx="1.5" ry="1.0" fill="#1a1a1a" transform="rotate(-15 436.70 508.80)"/>
<circle cx="439.00" cy="506.70" r="0.75" fill="#1a1a1a"/>
<line x1="437.50" y1="508.50" x2="438.70" y2="507.00" stroke="#1a1a1a" stroke-width="0.5" stroke-opacity="0.5"/>
<path d="M379 462h1.0v1.0h-1.0zM379 464h1.0v1.0h-1.0zM380 460h1.0v1.0h-1.0zM381 460h1.0v1.0h-1.0zM381 462h1.0v1.0h-1.0zM382 461h1.0v1.0h-1.0zM382 465h1.0v1.0h-1.0zM383 462h1.0v1.0h-1.0zM383 463h1.0v1.0h-1.0zM383 464h1.0v1.0h-1.0zM383 466h1.0v1.0h-1.0zM384 459h1.0v1.0h-1.0zM384 460h1.0v1.0h-1.0zM384 461h1.0v1.0h-1.0zM384 462h1.0v1.0h-1.0zM384 463h1.0v1.0h-1.0zM384 464h1.0v1.0h-1.0zM384 465h1.0v1.0h-1.0zM384 466h1.0v1.0h-1.0zM384 467h1.0v1.0h-1.0zM385 456h1.0v1.0h-1.0zM385 458h1.0v1.0h-1.0zM385 459h1.0v1.0h-1.0zM385 460h1.0v1.0h-1.0zM385 461h1.0v1.0h-1.0zM385 462h1.0v1.0h-1.0zM385 464h1.0v1.0h-1.0zM385 465h1.0v1.0h-1.0zM385 467h1.0v1.0h-1.0zM386 459h1.0v1.0h-1.0zM386 460h1.0v1.0h-1.0zM386 462h1.0v1.0h-1.0zM386 463h1.0v1.0h-1.0zM386 464h1.0v1.0h-1.0zM386 465h1.0v1.0h-1.0zM386 467h1.0v1.0h-1.0zM386 469h1.0v1.0h-1.0zM387 459h1.0v1.0h-1.0zM387 460h1.0v1.0h-1.0zM387 461h1.0v1.0h-1.0zM387 462h1.0v1.0h-1.0zM387 463h1.0v1.0h-1.0zM387 464h1.0v1.0h-1.0zM387 466h1.0v1.0h-1.0zM387 468h1.0v1.0h-1.0zM387 469h1.0v1.0h-1.0zM388 458h1.0v1.0h-1.0zM388 459h1.0v1.0h-1.0zM388 460h1.0v1.0h-1.0zM388 461h1.0v1.0h-1.0zM388 462h1.0v1.0h-1.0zM388 463h1.0v1.0h-1.0zM388 464h1.0v1.0h-1.0zM388 466h1.0v1.0h-1.0zM389 457h1.0v1.0h-1.0zM389 459h1.0v1.0h-1.0zM389 460h1.0v1.0h-1.0zM389 462h1.0v1.0h-1.0zM389 463h1.0v1.0h-1.0zM389 464h1.0v1.0h-1.0zM389 465h1.0v1.0h-1.0zM389 466h1.0v1.0h-1.0zM389 467h1.0v1.0h-1.0zM390 456h1.0v1.0h-1.0zM390 459h1.0v1.0h-1.0zM390 460h1.0v1.0h-1.0zM390 461h1.0v1.0h-1.0zM390 462h1.0v1.0h-1.0zM390 463h1.0v1.0h-1.0zM390 465h1.0v1.0h-1.0zM390 466h1.0v1.0h-1.0zM390 467h1.0v1.0h-1.0zM391 458h1.0v1.0h-1.0zM391 460h1.0v1.0h-1.0zM391 461h1.0v1.0h-1.0zM391 462h1.0v1.0h-1.0zM391 463h1.0v1.0h-1.0zM391 464h1.0v1.0h-1.0zM391 465h1.0v1.0h-1.0zM391 466h1.0v1.0h-1.0zM391 469h1.0v1.0h-1.0zM392 459h1.0v1.0h-1.0zM392 462h1.0v1.0h-1.0zM392 463h1.0v1.0h-1.0zM392 464h1.0v1.0h-1.0zM393 458h1.0v1.0h-1.0zM393 459h1.0v1.0h-1.0zM393 461h1.0v1.0h-1.0zM393 462h1.0v1.0h-1.0zM393 464h1.0v1.0h-1.0zM393 466h1.0v1.0h-1.0zM393 467h1.0v1.0h-1.0zM394 458h1.0v1.0h-1.0zM394 461h1.0v1.0h-1.0zM394 464h1.0v1.0h-1.0zM394 466h1.0v1.0h-1.0zM395 460h1.0v1.0h-1.0zM395 465h1.0v1.0h-1.0zM395 468h1.0v1.0h-1.0zM396 461h1.0v1.0h-1.0zM396 465h1.0v1.0h-1.0zM396 466h1.0v1.0h-1.0zM397 461h1.0v1.0h-1.0z" fill="#111" fill-opacity="0.8"/>
<path d="M376 471h1.0v1.0h-1.0zM377 462h1.0v1.0h-1.0zM380 469h1.0v1.0h-1.0zM381 462h1.0v1.0h-1.0zM381 466h1.0v1.0h-1.0zM381 467h1.0v1.0h-1.0zM382 457h1.0v1.0h-1.0zM382 460h1.0v1.0h-1.0zM382 468h1.0v1.0h-1.0zM382 471h1.0v1.0h-1.0zM384 460h1.0v1.0h-1.0zM384 462h1.0v1.0h-1.0zM384 463h1.0v1.0h-1.0zM384 468h1.0v1.0h-1.0zM384 469h1.0v1.0h-1.0zM385 457h1.0v1.0h-1.0zM385 458h1.0v1.0h-1.0zM385 459h1.0v1.0h-1.0zM385 468h1.0v1.0h-1.0zM386 461h1.0v1.0h-1.0zM386 463h1.0v1.0h-1.0zM386 465h1.0v1.0h-1.0zM386 469h1.0v1.0h-1.0zM387 466h1.0v1.0h-1.0zM387 468h1.0v1.0h-1.0zM388 459h1.0v1.0h-1.0zM388 461h1.0v1.0h-1.0zM388 462h1.0v1.0h-1.0zM388 466h1.0v1.0h-1.0zM388 467h1.0v1.0h-1.0zM389 463h1.0v1.0h-1.0zM389 465h1.0v1.0h-1.0zM390 466h1.0v1.0h-1.0zM391 460h1.0v1.0h-1.0zM391 461h1.0v1.0h-1.0zM391 465h1.0v1.0h-1.0zM391 466h1.0v1.0h-1.0zM391 467h1.0v1.0h-1.0zM391 470h1.0v1.0h-1.0zM392 461h1.0v1.0h-1.0zM392 470h1.0v1.0h-1.0zM396 454h1.0v1.0h-1.0zM400 466h1.0v1.0h-1.0zM401 464h1.0v1.0h-1.0z" fill="#111" fill-opacity="0.8"/>
<text x="434.10" y="454.00" font-family="Liberation Sans" font-size="11.0" font-weight="bold" text-anchor="end" fill="#000">0</text>
<rect x="276.20" y="513.10" width="63.80" height="63.20" fill="none" stroke="#9a9a9a" stroke-width="1"/>
<line x1="276.20" y1="513.10" x2="276.20" y2="576.30" stroke="#888" stroke-width="1.1"/>
<line x1="276.20" y1="513.10" x2="276.20" y2="576.30" stroke="#5a5a5a" stroke-width="1.1" stroke-dasharray="1.5 1"/>
<line x1="276.20" y1="576.30" x2="340.00" y2="576.30" stroke="#5a5a5a" stroke-width="1.1" stroke-dasharray="1.5 1"/>
<line x1="299.50" y1="513.10" x2="299.50" y2="576.30" stroke="#929292" stroke-width="1"/>
<line x1="276.20" y1="560.30" x2="340.00" y2="560.30" stroke="#929292" stroke-width="1"/>
<ellipse cx="270.40" cy="513.70" rx="1.5" ry="1.0" fill="#1a1a1a" transform="rotate(-15 270.40 513.70)"/>
<circle cx="272.70" cy="511.60" r="0.75" fill="#1a1a1a"/>
<line x1="271.20" y1="513.40" x2="272.40" y2="511.90" stroke="#1a1a1a" stroke-width="0.5" stroke-opacity="0.5"/>
<ellipse cx="275.90" cy="580.30" rx="1.5" ry="1.0" fill="#1a1a1a" transform="rotate(-15 275.90 580.30)"/>
<circle cx="278.20" cy="578.20" r="0.75" fill="#1a1a1a"/>
<line x1="276.70" y1="580.00" x2="277.90" y2="578.50" stroke="#1a1a1a" stroke-width="0.5" stroke-opacity="0.5"/>
<ellipse cx="270.40" cy="529.50" rx="1.5" ry="1.0" fill="#1a1a1a" transform="rotate(-15 270.40 529.50)"/>
<circle cx="272.70" cy="527.40" r="0.75" fill="#1a1a1a"/>
<line x1="271.20" y1="529.20" x2="272.40" y2="527.70" stroke="#1a1a1a" stroke-width="0.5" stroke-opacity="0.5"/>
<ellipse cx="291.85" cy="580.30" rx="1.5" ry="1.0" fill="#1a1a1a" transform="rotate(-15 291.85 580.30)"/>
<circle cx="294.15" cy="578.20" r="0.75" fill="#1a1a1a"/>
<line x1="292.65" y1="580.00" x2="293.85" y2="578.50" stroke="#1a1a1a" stroke-width="0.5" stroke-opacity="0.5"/>
<ellipse cx="270.40" cy="545.30" rx="1.5" ry="1.0" fill="#1a1a1a" transform="rotate(-15 270.40 545.30)"/>
<circle cx="272.70" cy="543.20" r="0.75" fill="#1a1a1a"/>
<line x1="271.20" y1="545.00" x2="272.40" y2="543.50" stroke="#1a1a1a" stroke-width="0.5" stroke-opacity="0.5"/>
<ellipse cx="307.80" cy="580.30" rx="1.5" ry="1.0" fill="#1a1a1a" transform="rotate(-15 307.80 580.30)"/>
<circle cx="310.10" cy="578.20" r="0.75" fill="#1a1a1a"/>
<line x1="308.60" y1="580.00" x2="309.80" y2="578.50" stroke="#1a1a1a" stroke-width="0.5" stroke-opacity="0.5"/>
<ellipse cx="270.40" cy="561.10" rx="1.5" ry="1.0" fill="#1a1a1a" transform="rotate(-15 270.40 561.10)"/>
<circle cx="272.70" cy="559.00" r="0.75" fill="#1a1a1a"/>
<line x1="271.20" y1="560.80" x2="272.40" y2="559.30" stroke="#1a1a1a" stroke-width="0.5" stroke-opacity="0.5"/>
<ellipse cx="323.75" cy="580.30" rx="1.5" ry="1.0" fill="#1a1a1a" transform="rotate(-15 323.75 580.30)"/>
<circle cx="326.05" cy="578.20" r="0.75" fill="#1a1a1a"/>
<line x1="324.55" y1="580.00" x2="325.75" y2="578.50" stroke="#1a1a1a" stroke-width="0.5" stroke-opacity="0.5"/>
<ellipse cx="270.40" cy="576.90" rx="1.5" ry="1.0" fill="#1a1a1a" transform="rotate(-15 270.40 576.90)"/>
<circle cx="272.70" cy="574.80" r="0.75" fill="#1a1a1a"/>
<line x1="271.20" y1="576.60" x2="272.40" y2="575.10" stroke="#1a1a1a" stroke-width="0.5" stroke-opacity="0.5"/>
<ellipse cx="339.70" cy="580.30" rx="1.5" ry="1.0" fill="#1a1a1a" transform="rotate(-15 339.70 580.30)"/>
<circle cx="342.00" cy="578.20" r="0.75" fill="#1a1a1a"/>
<line x1="340.50" y1="580.00" x2="341.70" y2="578.50" stroke="#1a1a1a" stroke-width="0.5" stroke-opacity="0.5"/>
<path d="M293 548h1.0v1.0h-1.0zM294 548h1.0v1.0h-1.0zM295 545h1.0v1.0h-1.0zM295 547h1.0v1.0h-1.0zM296 550h1.0v1.0h-1.0zM296 552h1.0v1.0h-1.0zM296 553h1.0v1.0h-1.0zM296 558h1.0v1.0h-1.0zM297 544h1.0v1.0h-1.0zM297 549h1.0v1.0h-1.0zM297 550h1.0v1.0h-1.0zM297 551h1.0v1.0h-1.0zM297 552h1.0v1.0h-1.0zM297 553h1.0v1.0h-1.0zM297 556h1.0v1.0h-1.0zM297 562h1.0v1.0h-1.0zM298 544h1.0v1.0h-1.0zM298 546h1.0v1.0h-1.0zM298 547h1.0v1.0h-1.0zM298 548h1.0v1.0h-1.0zM298 550h1.0v1.0h-1.0zM298 551h1.0v1.0h-1.0zM298 552h1.0v1.0h-1.0zM298 556h1.0v1.0h-1.0zM298 557h1.0v1.0h-1.0zM298 558h1.0v1.0h-1.0zM298 562h1.0v1.0h-1.0zM299 547h1.0v1.0h-1.0zM299 548h1.0v1.0h-1.0zM299 550h1.0v1.0h-1.0zM299 551h1.0v1.0h-1.0zM299 552h1.0v1.0h-1.0zM299 553h1.0v1.0h-1.0zM299 554h1.0v1.0h-1.0zM299 555h1.0v1.0h-1.0zM299 559h1.0v1.0h-1.0zM300 543h1.0v1.0h-1.0zM300 546h1.0v1.0h-1.0zM300 548h1.0v1.0h-1.0zM300 549h1.0v1.0h-1.0zM300 550h1.0v1.0h-1.0zM300 551h1.0v1.0h-1.0zM300 552h1.0v1.0h-1.0zM300 553h1.0v1.0h-1.0zM300 554h1.0v1.0h-1.0zM300 555h1.0v1.0h-1.0zM300 558h1.0v1.0h-1.0zM300 559h1.0v1.0h-1.0zM301 542h1.0v1.0h-1.0zM301 545h1.0v1.0h-1.0zM301 547h1.0v1.0h-1.0zM301 549h1.0v1.0h-1.0zM301 550h1.0v1.0h-1.0zM301 551h1.0v1.0h-1.0zM301 552h1.0v1.0h-1.0zM301 553h1.0v1.0h-1.0zM301 554h1.0v1.0h-1.0zM301 555h1.0v1.0h-1.0zM301 556h1.0v1.0h-1.0zM301 557h1.0v1.0h-1.0zM301 558h1.0v1.0h-1.0zM302 543h1.0v1.0h-1.0zM302 545h1.0v1.0h-1.0zM302 546h1.0v1.0h-1.0zM302 547h1.0v1.0h-1.0zM302 548h1.0v1.0h-1.0zM302 549h1.0v1.0h-1.0zM302 550h1.0v1.0h-1.0zM302 551h1.0v1.0h-1.0zM302 552h1.0v1.0h-1.0zM302 553h1.0v1.0h-1.0zM302 554h1.0v1.0h-1.0zM302 555h1.0v1.0h-1.0zM302 556h1.0v1.0h-1.0zM302 557h1.0v1.0h-1.0zM303 545h1.0v1.0h-1.0zM303 546h1.0v1.0h-1.0zM303 547h1.0v1.0h-1.0zM303 548h1.0v1.0h-1.0zM303 549h1.0v1.0h-1.0zM303 550h1.0v1.0h-1.0zM303 551h1.0v1.0h-1.0zM303 552h1.0v1.0h-1.0zM303 553h1.0v1.0h-1.0zM303 554h1.0v1.0h-1.0zM303 555h1.0v1.0h-1.0zM303 556h1.0v1.0h-1.0zM303 558h1.0v1.0h-1.0zM303 559h1.0v1.0h-1.0zM303 561h1.0v1.0h-1.0zM304 543h1.0v1.0h-1.0zM304 544h1.0v1.0h-1.0zM304 546h1.0v1.0h-1.0zM304 547h1.0v1.0h-1.0zM304 548h1.0v1.0h-1.0zM304 549h1.0v1.0h-1.0zM304 550h1.0v1.0h-1.0zM304 551h1.0v1.0h-1.0zM304 552h1.0v1.0h-1.0zM304 553h1.0v1.0h-1.0zM304 554h1.0v1.0h-1.0zM304 556h1.0v1.0h-1.0zM304 558h1.0v1.0h-1.0zM304 560h1.0v1.0h-1.0zM304 561h1.0v1.0h-1.0zM305 543h1.0v1.0h-1.0zM305 545h1.0v1.0h-1.0zM305 546h1.0v1.0h-1.0zM305 548h1.0v1.0h-1.0zM305 549h1.0v1.0h-1.0zM305 550h1.0v1.0h-1.0zM305 551h1.0v1.0h-1.0zM305 552h1.0v1.0h-1.0zM305 553h1.0v1.0h-1.0zM305 554h1.0v1.0h-1.0zM305 555h1.0v1.0h-1.0zM306 543h1.0v1.0h-1.0zM306 545h1.0v1.0h-1.0zM306 548h1.0v1.0h-1.0zM306 550h1.0v1.0h-1.0zM306 551h1.0v1.0h-1.0zM306 552h1.0v1.0h-1.0zM306 553h1.0v1.0h-1.0zM306 554h1.0v1.0h-1.0zM306 555h1.0v1.0h-1.0zM306 556h1.0v1.0h-1.0zM306 558h1.0v1.0h-1.0zM306 560h1.0v1.0h-1.0zM307 541h1.0v1.0h-1.0zM307 544h1.0v1.0h-1.0zM307 545h1.0v1.0h-1.0zM307 546h1.0v1.0h-1.0zM307 547h1.0v1.0h-1.0zM307 549h1.0v1.0h-1.0zM307 550h1.0v1.0h-1.0zM307 551h1.0v1.0h-1.0zM307 552h1.0v1.0h-1.0zM307 554h1.0v1.0h-1.0zM308 539h1.0v1.0h-1.0zM308 542h1.0v1.0h-1.0zM308 546h1.0v1.0h-1.0zM308 547h1.0v1.0h-1.0zM308 548h1.0v1.0h-1.0zM308 549h1.0v1.0h-1.0zM308 551h1.0v1.0h-1.0zM308 552h1.0v1.0h-1.0zM308 553h1.0v1.0h-1.0zM308 554h1.0v1.0h-1.0zM308 555h1.0v1.0h-1.0zM308 556h1.0v1.0h-1.0zM308 557h1.0v1.0h-1.0zM308 559h1.0v1.0h-1.0zM309 547h1.0v1.0h-1.0zM309 548h1.0v1.0h-1.0zM309 549h1.0v1.0h-1.0zM309 550h1.0v1.0h-1.0zM309 552h1.0v1.0h-1.0zM309 553h1.0v1.0h-1.0zM309 554h1.0v1.0h-1.0zM309 555h1.0v1.0h-1.0zM309 562h1.0v1.0h-1.0zM310 550h1.0v1.0h-1.0zM310 551h1.0v1.0h-1.0zM310 552h1.0v1.0h-1.0zM310 555h1.0v1.0h-1.0zM310 556h1.0v1.0h-1.0zM310 557h1.0v1.0h-1.0zM310 558h1.0v1.0h-1.0zM310 560h1.0v1.0h-1.0zM311 543h1.0v1.0h-1.0zM311 545h1.0v1.0h-1.0zM311 546h1.0v1.0h-1.0zM311 547h1.0v1.0h-1.0zM311 550h1.0v1.0h-1.0zM311 551h1.0v1.0h-1.0zM311 552h1.0v1.0h-1.0zM311 554h1.0v1.0h-1.0zM311 556h1.0v1.0h-1.0zM312 544h1.0v1.0h-1.0zM312 551h1.0v1.0h-1.0zM312 552h1.0v1.0h-1.0zM312 554h1.0v1.0h-1.0zM312 555h1.0v1.0h-1.0zM313 548h1.0v1.0h-1.0zM313 552h1.0v1.0h-1.0zM313 561h1.0v1.0h-1.0zM314 548h1.0v1.0h-1.0zM314 553h1.0v1.0h-1.0zM314 554h1.0v1.0h-1.0zM315 548h1.0v1.0h-1.0z" fill="#000" fill-opacity="0.92"/>
<path d="M284 555h1.0v1.0h-1.0zM287 542h1.0v1.0h-1.0zM287 545h1.0v1.0h-1.0zM287 550h1.0v1.0h-1.0zM288 553h1.0v1.0h-1.0zM288 556h1.0v1.0h-1.0zM288 559h1.0v1.0h-1.0zM289 556h1.0v1.0h-1.0zM289 558h1.0v1.0h-1.0zM290 547h1.0v1.0h-1.0zM290 550h1.0v1.0h-1.0zM290 553h1.0v1.0h-1.0zM290 554h1.0v1.0h-1.0zM290 555h1.0v1.0h-1.0zM291 545h1.0v1.0h-1.0zM291 550h1.0v1.0h-1.0zM291 552h1.0v1.0h-1.0zM291 554h1.0v1.0h-1.0zM291 556h1.0v1.0h-1.0zM291 557h1.0v1.0h-1.0zM291 558h1.0v1.0h-1.0zM292 547h1.0v1.0h-1.0zM292 550h1.0v1.0h-1.0zM292 554h1.0v1.0h-1.0zM292 555h1.0v1.0h-1.0zM292 556h1.0v1.0h-1.0zM292 557h1.0v1.0h-1.0zM292 559h1.0v1.0h-1.0zM293 539h1.0v1.0h-1.0zM293 546h1.0v1.0h-1.0zM293 548h1.0v1.0h-1.0zM293 549h1.0v1.0h-1.0zM293 550h1.0v1.0h-1.0zM293 553h1.0v1.0h-1.0zM293 554h1.0v1.0h-1.0zM293 555h1.0v1.0h-1.0zM293 558h1.0v1.0h-1.0zM294 545h1.0v1.0h-1.0zM294 546h1.0v1.0h-1.0zM294 550h1.0v1.0h-1.0zM294 552h1.0v1.0h-1.0zM294 553h1.0v1.0h-1.0zM294 555h1.0v1.0h-1.0zM294 557h1.0v1.0h-1.0zM295 546h1.0v1.0h-1.0zM295 547h1.0v1.0h-1.0zM295 549h1.0v1.0h-1.0zM295 551h1.0v1.0h-1.0zM295 552h1.0v1.0h-1.0zM295 553h1.0v1.0h-1.0zM295 555h1.0v1.0h-1.0zM296 545h1.0v1.0h-1.0zM296 548h1.0v1.0h-1.0zM296 549h1.0v1.0h-1.0zM296 552h1.0v1.0h-1.0zM296 553h1.0v1.0h-1.0zM296 555h1.0v1.0h-1.0zM297 548h1.0v1.0h-1.0zM297 549h1.0v1.0h-1.0zM297 550h1.0v1.0h-1.0zM297 551h1.0v1.0h-1.0zM297 552h1.0v1.0h-1.0zM297 554h1.0v1.0h-1.0zM297 556h1.0v1.0h-1.0zM297 557h1.0v1.0h-1.0zM297 565h1.0v1.0h-1.0zM298 547h1.0v1.0h-1.0zM298 548h1.0v1.0h-1.0zM298 550h1.0v1.0h-1.0zM298 551h1.0v1.0h-1.0zM298 552h1.0v1.0h-1.0zM298 553h1.0v1.0h-1.0zM298 554h1.0v1.0h-1.0zM298 555h1.0v1.0h-1.0zM298 556h1.0v1.0h-1.0zM299 549h1.0v1.0h-1.0zM299 550h1.0v1.0h-1.0zM299 552h1.0v1.0h-1.0zM299 556h1.0v1.0h-1.0zM300 546h1.0v1.0h-1.0zM300 549h1.0v1.0h-1.0zM300 553h1.0v1.0h-1.0zM300 554h1.0v1.0h-1.0zM300 555h1.0v1.0h-1.0zM301 547h1.0v1.0h-1.0zM301 550h1.0v1.0h-1.0zM301 552h1.0v1.0h-1.0zM302 551h1.0v1.0h-1.0zM304 548h1.0v1.0h-1.0zM304 558h1.0v1.0h-1.0zM306 550h1.0v1.0h-1.0zM306 553h1.0v1.0h-1.0zM306 557h1.0v1.0h-1.0z" fill="#000" fill-opacity="0.92"/>
<path d="M279 555h1.0v1.0h-1.0zM280 551h1.0v1.0h-1.0zM280 559h1.0v1.0h-1.0zM280 560h1.0v1.0h-1.0zM281 541h1.0v1.0h-1.0zM281 546h1.0v1.0h-1.0zM281 571h1.0v1.0h-1.0zM282 548h1.0v1.0h-1.0zM282 564h1.0v1.0h-1.0zM283 564h1.0v1.0h-1.0zM284 548h1.0v1.0h-1.0zM284 554h1.0v1.0h-1.0zM284 555h1.0v1.0h-1.0zM285 559h1.0v1.0h-1.0zM286 541h1.0v1.0h-1.0zM286 553h1.0v1.0h-1.0zM286 555h1.0v1.0h-1.0zM286 560h1.0v1.0h-1.0zM286 564h1.0v1.0h-1.0zM286 566h1.0v1.0h-1.0zM287 549h1.0v1.0h-1.0zM287 550h1.0v1.0h-1.0zM287 557h1.0v1.0h-1.0zM288 571h1.0v1.0h-1.0zM289 552h1.0v1.0h-1.0zM289 556h1.0v1.0h-1.0zM289 569h1.0v1.0h-1.0zM290 546h1.0v1.0h-1.0zM290 547h1.0v1.0h-1.0zM290 550h1.0v1.0h-1.0zM290 552h1.0v1.0h-1.0zM290 557h1.0v1.0h-1.0zM290 558h1.0v1.0h-1.0zM290 559h1.0v1.0h-1.0zM290 562h1.0v1.0h-1.0zM290 572h1.0v1.0h-1.0zM291 545h1.0v1.0h-1.0zM291 548h1.0v1.0h-1.0zM291 557h1.0v1.0h-1.0zM292 543h1.0v1.0h-1.0zM292 550h1.0v1.0h-1.0zM292 559h1.0v1.0h-1.0zM292 564h1.0v1.0h-1.0zM292 569h1.0v1.0h-1.0zM293 546h1.0v1.0h-1.0zM293 553h1.0v1.0h-1.0zM293 554h1.0v1.0h-1.0zM293 555h1.0v1.0h-1.0zM293 558h1.0v1.0h-1.0zM293 561h1.0v1.0h-1.0zM293 562h1.0v1.0h-1.0zM293 563h1.0v1.0h-1.0zM293 565h1.0v1.0h-1.0zM294 548h1.0v1.0h-1.0zM294 553h1.0v1.0h-1.0zM294 554h1.0v1.0h-1.0zM294 555h1.0v1.0h-1.0zM294 556h1.0v1.0h-1.0zM294 557h1.0v1.0h-1.0zM294 564h1.0v1.0h-1.0zM295 546h1.0v1.0h-1.0zM295 548h1.0v1.0h-1.0zM295 550h1.0v1.0h-1.0zM295 552h1.0v1.0h-1.0zM295 553h1.0v1.0h-1.0zM295 558h1.0v1.0h-1.0zM295 559h1.0v1.0h-1.0zM295 561h1.0v1.0h-1.0zM295 564h1.0v1.0h-1.0zM296 547h1.0v1.0h-1.0zM296 549h1.0v1.0h-1.0zM296 553h1.0v1.0h-1.0zM296 558h1.0v1.0h-1.0zM296 562h1.0v1.0h-1.0zM297 559h1.0v1.0h-1.0zM297 560h1.0v1.0h-1.0zM297 561h1.0v1.0h-1.0zM298 548h1.0v1.0h-1.0zM298 550h1.0v1.0h-1.0zM298 555h1.0v1.0h-1.0zM298 558h1.0v1.0h-1.0zM299 550h1.0v1.0h-1.0zM299 554h1.0v1.0h-1.0zM299 555h1.0v1.0h-1.0zM299 560h1.0v1.0h-1.0zM299 563h1.0v1.0h-1.0zM299 565h1.0v1.0h-1.0zM300 557h1.0v1.0h-1.0zM300 563h1.0v1.0h-1.0zM300 567h1.0v1.0h-1.0zM301 545h1.0v1.0h-1.0zM301 551h1.0v1.0h-1.0zM301 552h1.0v1.0h-1.0zM301 555h1.0v1.0h-1.0zM301 562h1.0v1.0h-1.0zM301 563h1.0v1.0h-1.0zM301 568h1.0v1.0h-1.0zM302 549h1.0v1.0h-1.0zM302 553h1.0v1.0h-1.0zM302 554h1.0v1.0h-1.0zM302 558h1.0v1.0h-1.0zM302 560h1.0v1.0h-1.0zM302 564h1.0v1.0h-1.0zM302 565h1.0v1.0h-1.0zM303 550h1.0v1.0h-1.0zM303 554h1.0v1.0h-1.0zM303 559h1.0v1.0h-1.0zM303 560h1.0v1.0h-1.0zM303 566h1.0v1.0h-1.0zM304 547h1.0v1.0h-1.0zM305 543h1.0v1.0h-1.0zM305 563h1.0v1.0h-1.0zM306 560h1.0v1.0h-1.0zM307 559h1.0v1.0h-1.0zM307 561h1.0v1.0h-1.0zM307 562h1.0v1.0h-1.0zM307 566h1.0v1.0h-1.0zM308 559h1.0v1.0h-1.0zM309 549h1.0v1.0h-1.0zM309 552h1.0v1.0h-1.0zM309 558h1.0v1.0h-1.0zM309 560h1.0v1.0h-1.0zM309 564h1.0v1.0h-1.0zM310 547h1.0v1.0h-1.0zM310 548h1.0v1.0h-1.0zM311 549h1.0v1.0h-1.0zM311 568h1.0v1.0h-1.0zM312 558h1.0v1.0h-1.0zM313 552h1.0v1.0h-1.0zM314 562h1.0v1.0h-1.0zM316 555h1.0v1.0h-1.0zM316 564h1.0v1.0h-1.0zM322 544h1.0v1.0h-1.0z" fill="#000" fill-opacity="0.92"/>
<text x="337.00" y="523.70" font-family="Liberation Serif" font-size="12.4" font-weight="bold" text-anchor="end" fill="#000">69</text>
<rect x="373.20" y="513.10" width="63.80" height="63.20" fill="none" stroke="#9a9a9a" stroke-width="1"/>
<line x1="373.20" y1="513.10" x2="373.20" y2="576.30" stroke="#888" stroke-width="1.1"/>
<line x1="373.20" y1="513.10" x2="373.20" y2="576.30" stroke="#5a5a5a" stroke-width="1.1" stroke-dasharray="1.5 1"/>
<line x1="373.20" y1="576.30" x2="437.00" y2="576.30" stroke="#5a5a5a" stroke-width="1.1" stroke-dasharray="1.5 1"/>
<line x1="397.00" y1="513.10" x2="397.00" y2="576.30" stroke="#929292" stroke-width="1"/>
<line x1="373.20" y1="544.90" x2="437.00" y2="544.90" stroke="#929292" stroke-width="1"/>
<ellipse cx="367.40" cy="513.70" rx="1.5" ry="1.0" fill="#1a1a1a" transform="rotate(-15 367.40 513.70)"/>
<circle cx="369.70" cy="511.60" r="0.75" fill="#1a1a1a"/>
<line x1="368.20" y1="513.40" x2="369.40" y2="511.90" stroke="#1a1a1a" stroke-width="0.5" stroke-opacity="0.5"/>
<ellipse cx="372.90" cy="580.30" rx="1.5" ry="1.0" fill="#1a1a1a" transform="rotate(-15 372.90 580.30)"/>
<circle cx="375.20" cy="578.20" r="0.75" fill="#1a1a1a"/>
<line x1="373.70" y1="580.00" x2="374.90" y2="578.50" stroke="#1a1a1a" stroke-width="0.5" stroke-opacity="0.5"/>
<ellipse cx="367.40" cy="529.50" rx="1.5" ry="1.0" fill="#1a1a1a" transform="rotate(-15 367.40 529.50)"/>
<circle cx="369.70" cy="527.40" r="0.75" fill="#1a1a1a"/>
<line x1="368.20" y1="529.20" x2="369.40" y2="527.70" stroke="#1a1a1a" stroke-width="0.5" stroke-opacity="0.5"/>
<ellipse cx="388.85" cy="580.30" rx="1.5" ry="1.0" fill="#1a1a1a" transform="rotate(-15 388.85 580.30)"/>
<circle cx="391.15" cy="578.20" r="0.75" fill="#1a1a1a"/>
<line x1="389.65" y1="580.00" x2="390.85" y2="578.50" stroke="#1a1a1a" stroke-width="0.5" stroke-opacity="0.5"/>
<ellipse cx="367.40" cy="545.30" rx="1.5" ry="1.0" fill="#1a1a1a" transform="rotate(-15 367.40 545.30)"/>
<circle cx="369.70" cy="543.20" r="0.75" fill="#1a1a1a"/>
<line x1="368.20" y1="545.00" x2="369.40" y2="543.50" stroke="#1a1a1a" stroke-width="0.5" stroke-opacity="0.5"/>
<ellipse cx="404.80" cy="580.30" rx="1.5" ry="1.0" fill="#1a1a1a" transform="rotate(-15 404.80 580.30)"/>
<circle cx="407.10" cy="578.20" r="0.75" fill="#1a1a1a"/>
<line x1="405.60" y1="580.00" x2="406.80" y2="578.50" stroke="#1a1a1a" stroke-width="0.5" stroke-opacity="0.5"/>
<ellipse cx="367.40" cy="561.10" rx="1.5" ry="1.0" fill="#1a1a1a" transform="rotate(-15 367.40 561.10)"/>
<circle cx="369.70" cy="559.00" r="0.75" fill="#1a1a1a"/>
<line x1="368.20" y1="560.80" x2="369.40" y2="559.30" stroke="#1a1a1a" stroke-width="0.5" stroke-opacity="0.5"/>
<ellipse cx="420.75" cy="580.30" rx="1.5" ry="1.0" fill="#1a1a1a" transform="rotate(-15 420.75 580.30)"/>
<circle cx="423.05" cy="578.20" r="0.75" fill="#1a1a1a"/>
<line x1="421.55" y1="580.00" x2="422.75" y2="578.50" stroke="#1a1a1a" stroke-width="0.5" stroke-opacity="0.5"/>
<ellipse cx="367.40" cy="576.90" rx="1.5" ry="1.0" fill="#1a1a1a" transform="rotate(-15 367.40 576.90)"/>
<circle cx="369.70" cy="574.80" r="0.75" fill="#1a1a1a"/>
<line x1="368.20" y1="576.60" x2="369.40" y2="575.10" stroke="#1a1a1a" stroke-width="0.5" stroke-opacity="0.5"/>
<ellipse cx="436.70" cy="580.30" rx="1.5" ry="1.0" fill="#1a1a1a" transform="rotate(-15 436.70 580.30)"/>
<circle cx="439.00" cy="578.20" r="0.75" fill="#1a1a1a"/>
<line x1="437.50" y1="580.00" x2="438.70" y2="578.50" stroke="#1a1a1a" stroke-width="0.5" stroke-opacity="0.5"/>
<path d="M377 539h1.0v1.0h-1.0zM378 532h1.0v1.0h-1.0zM378 535h1.0v1.0h-1.0zM378 536h1.0v1.0h-1.0zM379 533h1.0v1.0h-1.0zM379 535h1.0v1.0h-1.0zM379 537h1.0v1.0h-1.0zM379 538h1.0v1.0h-1.0zM381 532h1.0v1.0h-1.0zM381 533h1.0v1.0h-1.0zM381 535h1.0v1.0h-1.0zM381 536h1.0v1.0h-1.0zM381 537h1.0v1.0h-1.0zM381 541h1.0v1.0h-1.0zM382 533h1.0v1.0h-1.0zM382 535h1.0v1.0h-1.0zM382 536h1.0v1.0h-1.0zM382 537h1.0v1.0h-1.0zM383 529h1.0v1.0h-1.0zM383 532h1.0v1.0h-1.0zM383 533h1.0v1.0h-1.0zM383 534h1.0v1.0h-1.0zM383 535h1.0v1.0h-1.0zM383 536h1.0v1.0h-1.0zM383 537h1.0v1.0h-1.0zM383 538h1.0v1.0h-1.0zM384 529h1.0v1.0h-1.0zM384 531h1.0v1.0h-1.0zM384 532h1.0v1.0h-1.0zM384 533h1.0v1.0h-1.0zM384 534h1.0v1.0h-1.0zM384 535h1.0v1.0h-1.0zM384 537h1.0v1.0h-1.0zM384 539h1.0v1.0h-1.0zM385 528h1.0v1.0h-1.0zM385 531h1.0v1.0h-1.0zM385 532h1.0v1.0h-1.0zM385 533h1.0v1.0h-1.0zM385 534h1.0v1.0h-1.0zM385 535h1.0v1.0h-1.0zM385 536h1.0v1.0h-1.0zM385 537h1.0v1.0h-1.0zM385 538h1.0v1.0h-1.0zM386 531h1.0v1.0h-1.0zM386 532h1.0v1.0h-1.0zM386 534h1.0v1.0h-1.0zM386 535h1.0v1.0h-1.0zM386 536h1.0v1.0h-1.0zM386 537h1.0v1.0h-1.0zM386 538h1.0v1.0h-1.0zM387 530h1.0v1.0h-1.0zM387 531h1.0v1.0h-1.0zM387 532h1.0v1.0h-1.0zM387 533h1.0v1.0h-1.0zM387 534h1.0v1.0h-1.0zM387 536h1.0v1.0h-1.0zM387 537h1.0v1.0h-1.0zM387 538h1.0v1.0h-1.0zM388 531h1.0v1.0h-1.0zM388 532h1.0v1.0h-1.0zM388 533h1.0v1.0h-1.0zM388 535h1.0v1.0h-1.0zM388 536h1.0v1.0h-1.0zM388 537h1.0v1.0h-1.0zM389 531h1.0v1.0h-1.0zM389 532h1.0v1.0h-1.0zM389 533h1.0v1.0h-1.0zM389 534h1.0v1.0h-1.0zM389 535h1.0v1.0h-1.0zM389 537h1.0v1.0h-1.0zM389 538h1.0v1.0h-1.0zM390 532h1.0v1.0h-1.0zM390 533h1.0v1.0h-1.0zM390 534h1.0v1.0h-1.0zM390 535h1.0v1.0h-1.0zM390 536h1.0v1.0h-1.0zM390 538h1.0v1.0h-1.0zM391 531h1.0v1.0h-1.0zM391 532h1.0v1.0h-1.0zM391 533h1.0v1.0h-1.0zM391 535h1.0v1.0h-1.0zM391 537h1.0v1.0h-1.0zM391 538h1.0v1.0h-1.0zM392 536h1.0v1.0h-1.0zM393 533h1.0v1.0h-1.0zM393 536h1.0v1.0h-1.0zM394 527h1.0v1.0h-1.0zM395 533h1.0v1.0h-1.0z" fill="#111" fill-opacity="0.8"/>
<path d="M376 538h1.0v1.0h-1.0zM378 528h1.0v1.0h-1.0zM378 536h1.0v1.0h-1.0zM379 528h1.0v1.0h-1.0zM379 530h1.0v1.0h-1.0zM379 532h1.0v1.0h-1.0zM380 534h1.0v1.0h-1.0zM380 538h1.0v1.0h-1.0zM381 530h1.0v1.0h-1.0zM381 533h1.0v1.0h-1.0zM381 535h1.0v1.0h-1.0zM382 529h1.0v1.0h-1.0zM382 534h1.0v1.0h-1.0zM382 539h1.0v1.0h-1.0zM383 530h1.0v1.0h-1.0zM383 531h1.0v1.0h-1.0zM383 532h1.0v1.0h-1.0zM383 537h1.0v1.0h-1.0zM383 541h1.0v1.0h-1.0zM384 528h1.0v1.0h-1.0zM384 532h1.0v1.0h-1.0zM384 533h1.0v1.0h-1.0zM384 534h1.0v1.0h-1.0zM384 535h1.0v1.0h-1.0zM384 536h1.0v1.0h-1.0zM385 535h1.0v1.0h-1.0zM385 539h1.0v1.0h-1.0zM386 534h1.0v1.0h-1.0zM386 535h1.0v1.0h-1.0zM387 533h1.0v1.0h-1.0zM387 534h1.0v1.0h-1.0zM387 541h1.0v1.0h-1.0zM388 530h1.0v1.0h-1.0zM389 528h1.0v1.0h-1.0zM389 532h1.0v1.0h-1.0zM389 538h1.0v1.0h-1.0zM390 530h1.0v1.0h-1.0zM390 538h1.0v1.0h-1.0zM392 535h1.0v1.0h-1.0zM393 537h1.0v1.0h-1.0zM394 533h1.0v1.0h-1.0zM395 531h1.0v1.0h-1.0zM395 536h1.0v1.0h-1.0z" fill="#111" fill-opacity="0.8"/>
<text x="434.10" y="525.50" font-family="Liberation Sans" font-size="11.0" font-weight="bold" text-anchor="end" fill="#000">1</text>
<text x="446.40" y="195.50" font-family="Liberation Sans" font-size="13.6" font-weight="bold" text-anchor="start" fill="#000" textLength="35.00" lengthAdjust="spacingAndGlyphs">None</text>
<text x="442.60" y="263.00" font-family="Liberation Sans" font-size="13.6" font-weight="bold" text-anchor="start" fill="#000" textLength="70.30" lengthAdjust="spacingAndGlyphs">Control Ab</text>
<text x="442.60" y="334.50" font-family="Liberation Sans" font-size="13.6" font-weight="bold" text-anchor="start" fill="#000" textLength="54.50" lengthAdjust="spacingAndGlyphs">SR-A Ab</text>
<text x="442.60" y="404.60" font-family="Liberation Sans" font-size="13.6" font-weight="bold" text-anchor="start" fill="#000" textLength="62.50" lengthAdjust="spacingAndGlyphs">Fucoidan</text>
<text x="442.60" y="472.60" font-family="Liberation Sans" font-size="13.6" font-weight="bold" text-anchor="start" fill="#000" textLength="70.30" lengthAdjust="spacingAndGlyphs">Control Ab</text>
<text x="442.60" y="489.20" font-family="Liberation Sans" font-size="13.6" font-weight="bold" text-anchor="start" fill="#000" textLength="73.50" lengthAdjust="spacingAndGlyphs">+ Fucoidan</text>
<text x="442.60" y="543.80" font-family="Liberation Sans" font-size="13.6" font-weight="bold" text-anchor="start" fill="#000" textLength="54.50" lengthAdjust="spacingAndGlyphs">SR-A Ab</text>
<text x="442.60" y="560.00" font-family="Liberation Sans" font-size="13.6" font-weight="bold" text-anchor="start" fill="#000" textLength="73.50" lengthAdjust="spacingAndGlyphs">+ Fucoidan</text>
<line x1="265.10" y1="528.00" x2="265.10" y2="585.30" stroke="#000" stroke-width="2.4"/>
<line x1="263.90" y1="584.50" x2="432.00" y2="584.50" stroke="#000" stroke-width="2.3"/>
<polygon points="265.10,521.60 261.50,528.60 268.70,528.60" fill="#000" stroke="none" stroke-width="1"/>
<polygon points="438.10,584.50 431.10,581.20 431.10,587.80" fill="#000" stroke="none" stroke-width="1"/>
<line x1="363.00" y1="528.00" x2="363.00" y2="585.30" stroke="#000" stroke-width="2.4"/>
<polygon points="363.00,521.90 359.50,528.90 366.50,528.90" fill="#000" stroke="none" stroke-width="1"/>
<text x="261.70" y="556.60" font-family="Liberation Sans" font-size="14" font-weight="normal" text-anchor="middle" fill="#000" textLength="41.70" lengthAdjust="spacingAndGlyphs" transform="rotate(-90 261.70 556.60)" stroke="#000" stroke-width="0.65">CD11c</text>
<text x="358.80" y="556.20" font-family="Liberation Sans" font-size="14" font-weight="normal" text-anchor="middle" fill="#000" textLength="41.50" lengthAdjust="spacingAndGlyphs" transform="rotate(-90 358.80 556.20)" stroke="#000" stroke-width="0.65">CD123</text>
<text x="345.80" y="600.20" font-family="Liberation Sans" font-size="14" font-weight="normal" text-anchor="middle" fill="#000" textLength="34.20" lengthAdjust="spacingAndGlyphs" stroke="#000" stroke-width="0.65">CD83</text>
<text x="355.00" y="639.30" font-family="Liberation Sans" font-size="16" font-weight="bold" text-anchor="middle" fill="#000" textLength="92.80" lengthAdjust="spacingAndGlyphs">Sorted mDC</text>
<text x="317.30" y="665.50" font-family="Liberation Sans" font-size="13.8" font-weight="normal" text-anchor="middle" fill="#000" textLength="70.20" lengthAdjust="spacingAndGlyphs" stroke="#000" stroke-width="0.5">Control Ab</text>
<text x="405.40" y="665.50" font-family="Liberation Sans" font-size="13.8" font-weight="normal" text-anchor="middle" fill="#000" textLength="54.90" lengthAdjust="spacingAndGlyphs" stroke="#000" stroke-width="0.5">SR-A Ab</text>
<rect x="279.20" y="671.50" width="75.40" height="78.20" fill="none" stroke="#222" stroke-width="1.3"/>
<line x1="315.40" y1="671.50" x2="315.40" y2="749.70" stroke="#222" stroke-width="1.3"/>
<line x1="279.20" y1="730.80" x2="354.60" y2="730.80" stroke="#222" stroke-width="1.3"/>
<ellipse cx="274.20" cy="672.00" rx="1.5" ry="1.0" fill="#888" transform="rotate(-15 274.20 672.00)"/>
<circle cx="276.50" cy="669.90" r="0.75" fill="#888"/>
<line x1="275.00" y1="671.70" x2="276.20" y2="670.20" stroke="#888" stroke-width="0.5" stroke-opacity="0.5"/>
<ellipse cx="280.20" cy="753.90" rx="1.5" ry="1.0" fill="#bbb" transform="rotate(-15 280.20 753.90)"/>
<circle cx="282.50" cy="751.80" r="0.75" fill="#bbb"/>
<line x1="281.00" y1="753.60" x2="282.20" y2="752.10" stroke="#bbb" stroke-width="0.5" stroke-opacity="0.5"/>
<ellipse cx="274.20" cy="691.55" rx="1.5" ry="1.0" fill="#888" transform="rotate(-15 274.20 691.55)"/>
<circle cx="276.50" cy="689.45" r="0.75" fill="#888"/>
<line x1="275.00" y1="691.25" x2="276.20" y2="689.75" stroke="#888" stroke-width="0.5" stroke-opacity="0.5"/>
<ellipse cx="299.05" cy="753.90" rx="1.5" ry="1.0" fill="#bbb" transform="rotate(-15 299.05 753.90)"/>
<circle cx="301.35" cy="751.80" r="0.75" fill="#bbb"/>
<line x1="299.85" y1="753.60" x2="301.05" y2="752.10" stroke="#bbb" stroke-width="0.5" stroke-opacity="0.5"/>
<ellipse cx="274.20" cy="711.10" rx="1.5" ry="1.0" fill="#888" transform="rotate(-15 274.20 711.10)"/>
<circle cx="276.50" cy="709.00" r="0.75" fill="#888"/>
<line x1="275.00" y1="710.80" x2="276.20" y2="709.30" stroke="#888" stroke-width="0.5" stroke-opacity="0.5"/>
<ellipse cx="317.90" cy="753.90" rx="1.5" ry="1.0" fill="#bbb" transform="rotate(-15 317.90 753.90)"/>
<circle cx="320.20" cy="751.80" r="0.75" fill="#bbb"/>
<line x1="318.70" y1="753.60" x2="319.90" y2="752.10" stroke="#bbb" stroke-width="0.5" stroke-opacity="0.5"/>
<ellipse cx="274.20" cy="730.65" rx="1.5" ry="1.0" fill="#888" transform="rotate(-15 274.20 730.65)"/>
<circle cx="276.50" cy="728.55" r="0.75" fill="#888"/>
<line x1="275.00" y1="730.35" x2="276.20" y2="728.85" stroke="#888" stroke-width="0.5" stroke-opacity="0.5"/>
<ellipse cx="336.75" cy="753.90" rx="1.5" ry="1.0" fill="#bbb" transform="rotate(-15 336.75 753.90)"/>
<circle cx="339.05" cy="751.80" r="0.75" fill="#bbb"/>
<line x1="337.55" y1="753.60" x2="338.75" y2="752.10" stroke="#bbb" stroke-width="0.5" stroke-opacity="0.5"/>
<ellipse cx="274.20" cy="750.20" rx="1.5" ry="1.0" fill="#888" transform="rotate(-15 274.20 750.20)"/>
<circle cx="276.50" cy="748.10" r="0.75" fill="#888"/>
<line x1="275.00" y1="749.90" x2="276.20" y2="748.40" stroke="#888" stroke-width="0.5" stroke-opacity="0.5"/>
<ellipse cx="355.60" cy="753.90" rx="1.5" ry="1.0" fill="#bbb" transform="rotate(-15 355.60 753.90)"/>
<circle cx="357.90" cy="751.80" r="0.75" fill="#bbb"/>
<line x1="356.40" y1="753.60" x2="357.60" y2="752.10" stroke="#bbb" stroke-width="0.5" stroke-opacity="0.5"/>
<path d="M299 720h1.0v1.0h-1.0zM301 716h1.0v1.0h-1.0zM301 722h1.0v1.0h-1.0zM302 720h1.0v1.0h-1.0zM303 713h1.0v1.0h-1.0zM303 720h1.0v1.0h-1.0zM304 711h1.0v1.0h-1.0zM304 712h1.0v1.0h-1.0zM304 713h1.0v1.0h-1.0zM304 718h1.0v1.0h-1.0zM304 719h1.0v1.0h-1.0zM305 711h1.0v1.0h-1.0zM305 713h1.0v1.0h-1.0zM305 715h1.0v1.0h-1.0zM306 706h1.0v1.0h-1.0zM306 708h1.0v1.0h-1.0zM306 709h1.0v1.0h-1.0zM306 710h1.0v1.0h-1.0zM306 711h1.0v1.0h-1.0zM306 712h1.0v1.0h-1.0zM306 716h1.0v1.0h-1.0zM306 717h1.0v1.0h-1.0zM307 698h1.0v1.0h-1.0zM307 703h1.0v1.0h-1.0zM307 704h1.0v1.0h-1.0zM307 708h1.0v1.0h-1.0zM307 711h1.0v1.0h-1.0zM307 712h1.0v1.0h-1.0zM307 713h1.0v1.0h-1.0zM307 714h1.0v1.0h-1.0zM307 715h1.0v1.0h-1.0zM307 718h1.0v1.0h-1.0zM307 721h1.0v1.0h-1.0zM308 705h1.0v1.0h-1.0zM308 706h1.0v1.0h-1.0zM308 707h1.0v1.0h-1.0zM308 708h1.0v1.0h-1.0zM308 710h1.0v1.0h-1.0zM308 712h1.0v1.0h-1.0zM308 713h1.0v1.0h-1.0zM308 714h1.0v1.0h-1.0zM309 700h1.0v1.0h-1.0zM309 703h1.0v1.0h-1.0zM309 704h1.0v1.0h-1.0zM309 705h1.0v1.0h-1.0zM309 707h1.0v1.0h-1.0zM309 709h1.0v1.0h-1.0zM309 710h1.0v1.0h-1.0zM309 713h1.0v1.0h-1.0zM309 714h1.0v1.0h-1.0zM310 698h1.0v1.0h-1.0zM310 703h1.0v1.0h-1.0zM310 704h1.0v1.0h-1.0zM310 710h1.0v1.0h-1.0zM310 713h1.0v1.0h-1.0zM310 714h1.0v1.0h-1.0zM311 701h1.0v1.0h-1.0zM311 702h1.0v1.0h-1.0zM311 704h1.0v1.0h-1.0zM311 706h1.0v1.0h-1.0zM311 708h1.0v1.0h-1.0zM311 709h1.0v1.0h-1.0zM312 695h1.0v1.0h-1.0zM312 702h1.0v1.0h-1.0zM312 703h1.0v1.0h-1.0zM312 704h1.0v1.0h-1.0zM312 709h1.0v1.0h-1.0zM312 710h1.0v1.0h-1.0zM312 712h1.0v1.0h-1.0zM313 694h1.0v1.0h-1.0zM313 702h1.0v1.0h-1.0zM313 704h1.0v1.0h-1.0zM313 706h1.0v1.0h-1.0zM313 707h1.0v1.0h-1.0zM313 708h1.0v1.0h-1.0zM314 696h1.0v1.0h-1.0zM314 699h1.0v1.0h-1.0zM314 701h1.0v1.0h-1.0zM314 702h1.0v1.0h-1.0zM315 700h1.0v1.0h-1.0zM315 708h1.0v1.0h-1.0zM316 701h1.0v1.0h-1.0zM317 696h1.0v1.0h-1.0zM317 699h1.0v1.0h-1.0zM319 690h1.0v1.0h-1.0zM320 691h1.0v1.0h-1.0z" fill="#444" fill-opacity="0.75"/>
<path d="M283 722h1.0v1.0h-1.0zM285 715h1.0v1.0h-1.0zM287 716h1.0v1.0h-1.0zM288 720h1.0v1.0h-1.0zM288 725h1.0v1.0h-1.0zM289 722h1.0v1.0h-1.0zM290 714h1.0v1.0h-1.0zM290 729h1.0v1.0h-1.0zM291 716h1.0v1.0h-1.0zM291 719h1.0v1.0h-1.0zM292 722h1.0v1.0h-1.0zM293 716h1.0v1.0h-1.0zM294 718h1.0v1.0h-1.0zM294 722h1.0v1.0h-1.0zM294 724h1.0v1.0h-1.0zM295 717h1.0v1.0h-1.0zM295 718h1.0v1.0h-1.0zM295 723h1.0v1.0h-1.0zM296 719h1.0v1.0h-1.0zM297 708h1.0v1.0h-1.0zM297 709h1.0v1.0h-1.0zM297 713h1.0v1.0h-1.0zM297 717h1.0v1.0h-1.0zM297 719h1.0v1.0h-1.0zM297 728h1.0v1.0h-1.0zM298 712h1.0v1.0h-1.0zM298 714h1.0v1.0h-1.0zM298 721h1.0v1.0h-1.0zM299 718h1.0v1.0h-1.0zM299 719h1.0v1.0h-1.0zM299 720h1.0v1.0h-1.0zM299 723h1.0v1.0h-1.0zM300 717h1.0v1.0h-1.0zM300 721h1.0v1.0h-1.0zM301 711h1.0v1.0h-1.0zM301 714h1.0v1.0h-1.0zM301 718h1.0v1.0h-1.0zM301 721h1.0v1.0h-1.0zM302 707h1.0v1.0h-1.0zM302 715h1.0v1.0h-1.0zM302 721h1.0v1.0h-1.0zM303 713h1.0v1.0h-1.0zM303 715h1.0v1.0h-1.0zM303 716h1.0v1.0h-1.0zM303 727h1.0v1.0h-1.0zM304 707h1.0v1.0h-1.0zM304 711h1.0v1.0h-1.0zM304 713h1.0v1.0h-1.0zM304 717h1.0v1.0h-1.0zM304 722h1.0v1.0h-1.0zM305 712h1.0v1.0h-1.0zM305 713h1.0v1.0h-1.0zM305 717h1.0v1.0h-1.0zM305 723h1.0v1.0h-1.0zM306 712h1.0v1.0h-1.0zM306 719h1.0v1.0h-1.0zM306 722h1.0v1.0h-1.0zM307 718h1.0v1.0h-1.0zM308 711h1.0v1.0h-1.0zM309 715h1.0v1.0h-1.0zM311 708h1.0v1.0h-1.0zM311 714h1.0v1.0h-1.0zM311 719h1.0v1.0h-1.0zM312 715h1.0v1.0h-1.0z" fill="#999" fill-opacity="0.6"/>
<path d="M295 718h1.0v1.0h-1.0zM297 709h1.0v1.0h-1.0zM299 713h1.0v1.0h-1.0zM302 702h1.0v1.0h-1.0zM302 713h1.0v1.0h-1.0zM303 718h1.0v1.0h-1.0zM304 707h1.0v1.0h-1.0zM308 731h1.0v1.0h-1.0zM309 703h1.0v1.0h-1.0zM309 728h1.0v1.0h-1.0zM311 729h1.0v1.0h-1.0zM312 711h1.0v1.0h-1.0zM312 716h1.0v1.0h-1.0zM313 710h1.0v1.0h-1.0zM317 707h1.0v1.0h-1.0zM317 716h1.0v1.0h-1.0zM318 699h1.0v1.0h-1.0zM318 727h1.0v1.0h-1.0zM318 728h1.0v1.0h-1.0zM319 714h1.0v1.0h-1.0zM324 710h1.0v1.0h-1.0zM325 710h1.0v1.0h-1.0zM326 712h1.0v1.0h-1.0zM328 711h1.0v1.0h-1.0zM328 712h1.0v1.0h-1.0zM330 721h1.0v1.0h-1.0zM332 701h1.0v1.0h-1.0zM335 707h1.0v1.0h-1.0zM342 700h1.0v1.0h-1.0zM343 704h1.0v1.0h-1.0z" fill="#bbb" fill-opacity="0.6"/>
<text x="282.30" y="682.80" font-family="Liberation Sans" font-size="11.6" font-weight="bold" text-anchor="start" fill="#000">87</text>
<text x="351.60" y="682.80" font-family="Liberation Sans" font-size="11.6" font-weight="bold" text-anchor="end" fill="#000">13</text>
<rect x="366.50" y="670.20" width="77.00" height="79.50" fill="none" stroke="#222" stroke-width="1.3"/>
<line x1="402.10" y1="670.20" x2="402.10" y2="749.70" stroke="#222" stroke-width="1.3"/>
<line x1="366.50" y1="729.80" x2="443.50" y2="729.80" stroke="#222" stroke-width="1.3"/>
<ellipse cx="361.50" cy="670.70" rx="1.5" ry="1.0" fill="#888" transform="rotate(-15 361.50 670.70)"/>
<circle cx="363.80" cy="668.60" r="0.75" fill="#888"/>
<line x1="362.30" y1="670.40" x2="363.50" y2="668.90" stroke="#888" stroke-width="0.5" stroke-opacity="0.5"/>
<ellipse cx="367.50" cy="753.90" rx="1.5" ry="1.0" fill="#bbb" transform="rotate(-15 367.50 753.90)"/>
<circle cx="369.80" cy="751.80" r="0.75" fill="#bbb"/>
<line x1="368.30" y1="753.60" x2="369.50" y2="752.10" stroke="#bbb" stroke-width="0.5" stroke-opacity="0.5"/>
<ellipse cx="361.50" cy="690.58" rx="1.5" ry="1.0" fill="#888" transform="rotate(-15 361.50 690.58)"/>
<circle cx="363.80" cy="688.48" r="0.75" fill="#888"/>
<line x1="362.30" y1="690.28" x2="363.50" y2="688.78" stroke="#888" stroke-width="0.5" stroke-opacity="0.5"/>
<ellipse cx="386.75" cy="753.90" rx="1.5" ry="1.0" fill="#bbb" transform="rotate(-15 386.75 753.90)"/>
<circle cx="389.05" cy="751.80" r="0.75" fill="#bbb"/>
<line x1="387.55" y1="753.60" x2="388.75" y2="752.10" stroke="#bbb" stroke-width="0.5" stroke-opacity="0.5"/>
<ellipse cx="361.50" cy="710.45" rx="1.5" ry="1.0" fill="#888" transform="rotate(-15 361.50 710.45)"/>
<circle cx="363.80" cy="708.35" r="0.75" fill="#888"/>
<line x1="362.30" y1="710.15" x2="363.50" y2="708.65" stroke="#888" stroke-width="0.5" stroke-opacity="0.5"/>
<ellipse cx="406.00" cy="753.90" rx="1.5" ry="1.0" fill="#bbb" transform="rotate(-15 406.00 753.90)"/>
<circle cx="408.30" cy="751.80" r="0.75" fill="#bbb"/>
<line x1="406.80" y1="753.60" x2="408.00" y2="752.10" stroke="#bbb" stroke-width="0.5" stroke-opacity="0.5"/>
<ellipse cx="361.50" cy="730.33" rx="1.5" ry="1.0" fill="#888" transform="rotate(-15 361.50 730.33)"/>
<circle cx="363.80" cy="728.23" r="0.75" fill="#888"/>
<line x1="362.30" y1="730.03" x2="363.50" y2="728.53" stroke="#888" stroke-width="0.5" stroke-opacity="0.5"/>
<ellipse cx="425.25" cy="753.90" rx="1.5" ry="1.0" fill="#bbb" transform="rotate(-15 425.25 753.90)"/>
<circle cx="427.55" cy="751.80" r="0.75" fill="#bbb"/>
<line x1="426.05" y1="753.60" x2="427.25" y2="752.10" stroke="#bbb" stroke-width="0.5" stroke-opacity="0.5"/>
<ellipse cx="361.50" cy="750.20" rx="1.5" ry="1.0" fill="#888" transform="rotate(-15 361.50 750.20)"/>
<circle cx="363.80" cy="748.10" r="0.75" fill="#888"/>
<line x1="362.30" y1="749.90" x2="363.50" y2="748.40" stroke="#888" stroke-width="0.5" stroke-opacity="0.5"/>
<ellipse cx="444.50" cy="753.90" rx="1.5" ry="1.0" fill="#bbb" transform="rotate(-15 444.50 753.90)"/>
<circle cx="446.80" cy="751.80" r="0.75" fill="#bbb"/>
<line x1="445.30" y1="753.60" x2="446.50" y2="752.10" stroke="#bbb" stroke-width="0.5" stroke-opacity="0.5"/>
<path d="M393 699h1.0v1.0h-1.0zM395 710h1.0v1.0h-1.0zM395 715h1.0v1.0h-1.0zM396 700h1.0v1.0h-1.0zM396 706h1.0v1.0h-1.0zM396 713h1.0v1.0h-1.0zM397 710h1.0v1.0h-1.0zM397 712h1.0v1.0h-1.0zM397 713h1.0v1.0h-1.0zM397 714h1.0v1.0h-1.0zM398 699h1.0v1.0h-1.0zM398 702h1.0v1.0h-1.0zM398 704h1.0v1.0h-1.0zM398 707h1.0v1.0h-1.0zM398 713h1.0v1.0h-1.0zM399 699h1.0v1.0h-1.0zM399 704h1.0v1.0h-1.0zM399 706h1.0v1.0h-1.0zM399 711h1.0v1.0h-1.0zM399 712h1.0v1.0h-1.0zM399 713h1.0v1.0h-1.0zM399 715h1.0v1.0h-1.0zM400 700h1.0v1.0h-1.0zM400 701h1.0v1.0h-1.0zM400 702h1.0v1.0h-1.0zM400 705h1.0v1.0h-1.0zM400 706h1.0v1.0h-1.0zM400 709h1.0v1.0h-1.0zM400 710h1.0v1.0h-1.0zM400 714h1.0v1.0h-1.0zM400 715h1.0v1.0h-1.0zM401 696h1.0v1.0h-1.0zM401 699h1.0v1.0h-1.0zM401 700h1.0v1.0h-1.0zM401 703h1.0v1.0h-1.0zM401 704h1.0v1.0h-1.0zM401 707h1.0v1.0h-1.0zM401 708h1.0v1.0h-1.0zM401 709h1.0v1.0h-1.0zM401 711h1.0v1.0h-1.0zM401 713h1.0v1.0h-1.0zM401 715h1.0v1.0h-1.0zM401 716h1.0v1.0h-1.0zM401 720h1.0v1.0h-1.0zM401 721h1.0v1.0h-1.0zM402 699h1.0v1.0h-1.0zM402 705h1.0v1.0h-1.0zM402 706h1.0v1.0h-1.0zM402 707h1.0v1.0h-1.0zM402 708h1.0v1.0h-1.0zM402 710h1.0v1.0h-1.0zM402 714h1.0v1.0h-1.0zM402 719h1.0v1.0h-1.0zM403 687h1.0v1.0h-1.0zM403 699h1.0v1.0h-1.0zM403 703h1.0v1.0h-1.0zM403 704h1.0v1.0h-1.0zM403 711h1.0v1.0h-1.0zM404 688h1.0v1.0h-1.0zM404 699h1.0v1.0h-1.0zM404 705h1.0v1.0h-1.0zM404 707h1.0v1.0h-1.0zM404 711h1.0v1.0h-1.0zM405 692h1.0v1.0h-1.0zM405 696h1.0v1.0h-1.0zM405 701h1.0v1.0h-1.0zM405 704h1.0v1.0h-1.0zM405 705h1.0v1.0h-1.0zM405 706h1.0v1.0h-1.0zM405 710h1.0v1.0h-1.0zM406 698h1.0v1.0h-1.0zM407 699h1.0v1.0h-1.0zM407 706h1.0v1.0h-1.0zM408 702h1.0v1.0h-1.0z" fill="#555" fill-opacity="0.65"/>
<path d="M381 709h1.0v1.0h-1.0zM385 717h1.0v1.0h-1.0zM385 719h1.0v1.0h-1.0zM385 720h1.0v1.0h-1.0zM386 711h1.0v1.0h-1.0zM386 717h1.0v1.0h-1.0zM388 712h1.0v1.0h-1.0zM388 713h1.0v1.0h-1.0zM389 721h1.0v1.0h-1.0zM391 710h1.0v1.0h-1.0zM391 714h1.0v1.0h-1.0zM391 717h1.0v1.0h-1.0zM392 709h1.0v1.0h-1.0zM392 710h1.0v1.0h-1.0zM392 713h1.0v1.0h-1.0zM392 718h1.0v1.0h-1.0zM392 722h1.0v1.0h-1.0zM393 711h1.0v1.0h-1.0zM393 716h1.0v1.0h-1.0zM393 718h1.0v1.0h-1.0zM394 706h1.0v1.0h-1.0zM394 710h1.0v1.0h-1.0zM394 711h1.0v1.0h-1.0zM394 713h1.0v1.0h-1.0zM394 717h1.0v1.0h-1.0zM395 717h1.0v1.0h-1.0zM395 718h1.0v1.0h-1.0zM395 721h1.0v1.0h-1.0zM397 718h1.0v1.0h-1.0zM398 706h1.0v1.0h-1.0zM399 706h1.0v1.0h-1.0zM399 720h1.0v1.0h-1.0zM400 700h1.0v1.0h-1.0zM400 705h1.0v1.0h-1.0zM400 709h1.0v1.0h-1.0zM402 705h1.0v1.0h-1.0zM404 706h1.0v1.0h-1.0zM404 707h1.0v1.0h-1.0zM405 716h1.0v1.0h-1.0zM406 710h1.0v1.0h-1.0zM408 709h1.0v1.0h-1.0zM408 712h1.0v1.0h-1.0zM410 705h1.0v1.0h-1.0z" fill="#aaa" fill-opacity="0.6"/>
<path d="M382 696h1.0v1.0h-1.0zM394 707h1.0v1.0h-1.0zM395 707h1.0v1.0h-1.0zM395 711h1.0v1.0h-1.0zM397 697h1.0v1.0h-1.0zM397 718h1.0v1.0h-1.0zM398 712h1.0v1.0h-1.0zM400 695h1.0v1.0h-1.0zM404 692h1.0v1.0h-1.0zM405 721h1.0v1.0h-1.0zM407 702h1.0v1.0h-1.0zM408 712h1.0v1.0h-1.0zM410 692h1.0v1.0h-1.0zM411 703h1.0v1.0h-1.0zM413 701h1.0v1.0h-1.0zM416 700h1.0v1.0h-1.0zM416 711h1.0v1.0h-1.0zM419 705h1.0v1.0h-1.0zM420 702h1.0v1.0h-1.0zM421 712h1.0v1.0h-1.0z" fill="#bbb" fill-opacity="0.6"/>
<text x="370.60" y="681.50" font-family="Liberation Sans" font-size="11.6" font-weight="bold" text-anchor="start" fill="#000">73</text>
<text x="438.30" y="681.50" font-family="Liberation Sans" font-size="11.6" font-weight="bold" text-anchor="end" fill="#000">26</text>
<line x1="270.00" y1="678.00" x2="270.00" y2="760.20" stroke="#000" stroke-width="2.3"/>
<line x1="268.90" y1="759.00" x2="440.00" y2="759.00" stroke="#000" stroke-width="2.3"/>
<polygon points="270.00,673.30 266.70,679.50 273.30,679.50" fill="#000" stroke="none" stroke-width="1"/>
<polygon points="445.80,759.00 438.80,756.00 438.80,762.00" fill="#000" stroke="none" stroke-width="1"/>
<text x="263.00" y="714.30" font-family="Liberation Sans" font-size="14.2" font-weight="normal" text-anchor="middle" fill="#000" textLength="41.00" lengthAdjust="spacingAndGlyphs" transform="rotate(-90 263.00 714.30)" stroke="#000" stroke-width="0.6">CD11c</text>
<text x="360.40" y="774.00" font-family="Liberation Sans" font-size="14.2" font-weight="normal" text-anchor="middle" fill="#000" textLength="35.00" lengthAdjust="spacingAndGlyphs" stroke="#000" stroke-width="0.6">CD83</text></svg></body></html>
